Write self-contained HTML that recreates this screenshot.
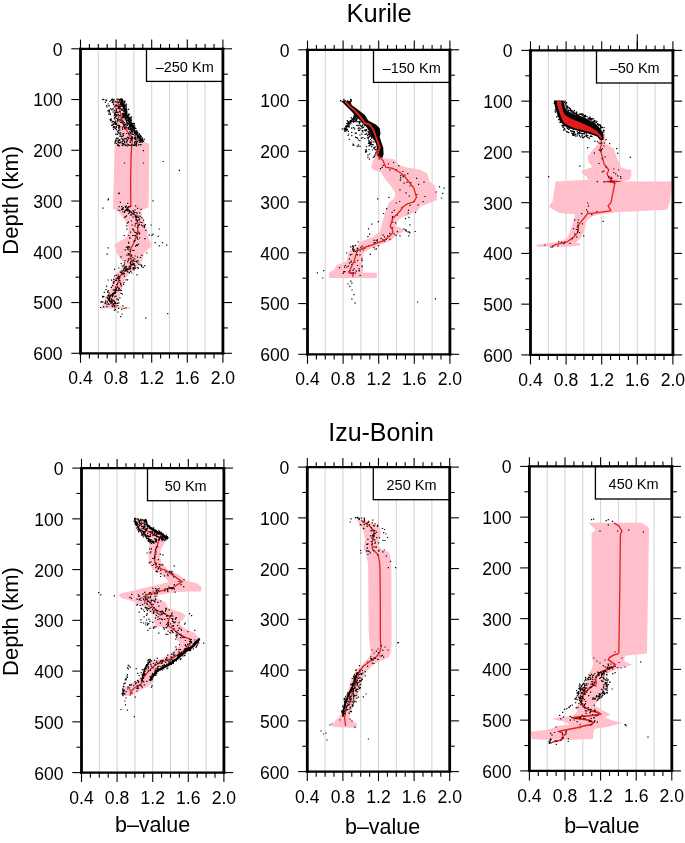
<!DOCTYPE html>
<html><head><meta charset="utf-8"><style>
html,body{margin:0;padding:0;background:#fff;}
svg{display:block;will-change:transform;}
text{font-family:"Liberation Sans", sans-serif;fill:#000;}
</style></head><body>
<svg width="685" height="843" viewBox="0 0 685 843">
<line x1="98.3" y1="48.8" x2="98.3" y2="353.3" stroke="#d2d2d2" stroke-width="1.0"/>
<line x1="116.1" y1="48.8" x2="116.1" y2="353.3" stroke="#d2d2d2" stroke-width="1.0"/>
<line x1="133.9" y1="48.8" x2="133.9" y2="353.3" stroke="#d2d2d2" stroke-width="1.0"/>
<line x1="151.7" y1="48.8" x2="151.7" y2="353.3" stroke="#d2d2d2" stroke-width="1.0"/>
<line x1="169.5" y1="48.8" x2="169.5" y2="353.3" stroke="#d2d2d2" stroke-width="1.0"/>
<line x1="187.3" y1="48.8" x2="187.3" y2="353.3" stroke="#d2d2d2" stroke-width="1.0"/>
<line x1="205.1" y1="48.8" x2="205.1" y2="353.3" stroke="#d2d2d2" stroke-width="1.0"/>
<polygon points="114.0,100.0 121.0,100.0 125.0,115.0 131.0,126.0 137.0,134.0 143.0,141.0 149.3,144.0 148.6,207.3 140.9,210.4 142.4,216.6 145.5,225.8 147.8,232.0 147.0,235.1 150.1,241.2 151.6,245.9 148.6,248.9 143.9,253.6 142.4,259.7 140.9,264.3 136.2,267.4 130.1,273.6 125.4,278.2 122.4,287.5 119.3,296.7 116.2,302.9 119.3,306.7 130.1,307.2 130.1,308.4 100.8,308.4 100.8,307.2 103.9,302.9 105.4,296.7 110.0,290.5 112.3,281.3 114.7,275.1 120.8,269.0 125.4,262.8 120.8,259.7 117.0,253.6 115.4,247.4 113.9,245.1 119.3,241.2 125.4,238.2 128.5,232.0 128.5,225.8 125.4,221.2 120.8,215.0 117.7,210.4 113.1,208.9 113.3,200.0 114.6,144.0 122.0,138.0 116.0,125.0 112.0,110.0" fill="#ffc0cb"/>
<polyline points="121.5,99.5 123.5,106.0 126.0,114.0 130.5,121.5 133.5,129.0 137.5,135.5 142.5,141.5" fill="none" stroke="#000" stroke-width="1.6" stroke-linejoin="round" stroke-linecap="round"/>
<polyline points="117.3,100.0 120.4,112.0 121.3,120.0 123.9,125.0 128.3,133.0 132.7,138.0 131.8,145.0 131.1,155.0 130.6,180.0 130.8,205.8 126.2,209.6 130.8,212.0 134.7,215.0 137.8,222.7 137.8,230.4 136.2,236.6 133.9,242.8 130.8,248.9 130.1,255.1 131.6,261.3 133.1,264.3 127.0,269.0 120.8,275.1 117.7,282.8 116.2,290.5 111.6,295.2 108.5,299.8 111.6,302.9 115.4,308.3" fill="none" stroke="#e8201c" stroke-width="1.3" stroke-linejoin="round"/>
<path d="M122.2 119.5h1.2v1.2h-1.2zM128.8 135.4h1.2v1.2h-1.2zM105.3 99.6h1.2v1.2h-1.2zM120.1 132.3h1.2v1.2h-1.2zM110.5 118.2h1.2v1.2h-1.2zM119.8 121.7h1.2v1.2h-1.2zM111.2 109.2h1.2v1.2h-1.2zM110.6 119.9h1.2v1.2h-1.2zM113.6 99.3h1.2v1.2h-1.2zM131.7 131.8h1.2v1.2h-1.2zM114.1 126.0h1.2v1.2h-1.2zM138.5 138.2h1.2v1.2h-1.2zM122.6 126.0h1.2v1.2h-1.2zM130.9 130.1h1.2v1.2h-1.2zM117.1 119.0h1.2v1.2h-1.2zM122.8 135.0h1.2v1.2h-1.2zM123.3 116.8h1.2v1.2h-1.2zM122.0 99.7h1.2v1.2h-1.2zM117.9 106.3h1.2v1.2h-1.2zM122.5 144.6h1.2v1.2h-1.2zM123.0 143.2h1.2v1.2h-1.2zM125.7 119.9h1.2v1.2h-1.2zM112.7 124.1h1.2v1.2h-1.2zM134.3 136.9h1.2v1.2h-1.2zM125.0 118.4h1.2v1.2h-1.2zM122.6 121.1h1.2v1.2h-1.2zM116.4 114.6h1.2v1.2h-1.2zM124.0 127.7h1.2v1.2h-1.2zM127.1 119.9h1.2v1.2h-1.2zM137.6 135.9h1.2v1.2h-1.2zM134.9 136.8h1.2v1.2h-1.2zM102.1 99.0h1.2v1.2h-1.2zM115.9 101.6h1.2v1.2h-1.2zM108.5 111.2h1.2v1.2h-1.2zM114.9 120.6h1.2v1.2h-1.2zM119.1 107.2h1.2v1.2h-1.2zM122.8 108.1h1.2v1.2h-1.2zM126.8 136.8h1.2v1.2h-1.2zM102.3 99.1h1.2v1.2h-1.2zM129.9 124.0h1.2v1.2h-1.2zM118.0 125.4h1.2v1.2h-1.2zM114.9 128.0h1.2v1.2h-1.2zM142.1 139.5h1.2v1.2h-1.2zM114.4 142.5h1.2v1.2h-1.2zM112.0 98.7h1.2v1.2h-1.2zM135.8 143.6h1.2v1.2h-1.2zM137.8 144.2h1.2v1.2h-1.2zM131.0 122.3h1.2v1.2h-1.2zM117.3 114.6h1.2v1.2h-1.2zM119.6 107.4h1.2v1.2h-1.2zM113.8 121.8h1.2v1.2h-1.2zM115.1 139.4h1.2v1.2h-1.2zM109.8 113.7h1.2v1.2h-1.2zM115.6 108.3h1.2v1.2h-1.2zM129.7 137.8h1.2v1.2h-1.2zM121.7 144.7h1.2v1.2h-1.2zM115.7 112.0h1.2v1.2h-1.2zM141.5 140.1h1.2v1.2h-1.2zM105.8 100.1h1.2v1.2h-1.2zM134.5 137.3h1.2v1.2h-1.2zM115.7 127.3h1.2v1.2h-1.2zM106.3 106.2h1.2v1.2h-1.2zM117.3 144.0h1.2v1.2h-1.2zM112.0 120.8h1.2v1.2h-1.2zM103.1 98.8h1.2v1.2h-1.2zM126.5 119.5h1.2v1.2h-1.2zM114.6 101.3h1.2v1.2h-1.2zM139.8 144.0h1.2v1.2h-1.2zM130.3 129.5h1.2v1.2h-1.2zM112.3 123.8h1.2v1.2h-1.2zM114.3 109.9h1.2v1.2h-1.2zM128.8 128.6h1.2v1.2h-1.2zM114.3 113.7h1.2v1.2h-1.2zM115.4 123.9h1.2v1.2h-1.2zM125.7 126.4h1.2v1.2h-1.2zM111.7 99.3h1.2v1.2h-1.2zM111.6 101.7h1.2v1.2h-1.2zM122.1 138.9h1.2v1.2h-1.2zM134.0 144.7h1.2v1.2h-1.2zM114.7 140.8h1.2v1.2h-1.2zM135.2 141.0h1.2v1.2h-1.2zM119.6 105.7h1.2v1.2h-1.2zM131.4 129.8h1.2v1.2h-1.2zM112.0 101.3h1.2v1.2h-1.2zM124.5 123.8h1.2v1.2h-1.2zM118.0 114.3h1.2v1.2h-1.2zM112.2 99.4h1.2v1.2h-1.2zM128.6 117.9h1.2v1.2h-1.2zM116.3 104.8h1.2v1.2h-1.2zM118.2 127.1h1.2v1.2h-1.2zM111.2 98.7h1.2v1.2h-1.2zM123.6 121.9h1.2v1.2h-1.2zM128.7 118.9h1.2v1.2h-1.2zM130.2 132.7h1.2v1.2h-1.2zM111.4 121.6h1.2v1.2h-1.2zM121.5 108.9h1.2v1.2h-1.2zM118.7 124.7h1.2v1.2h-1.2zM139.5 141.5h1.2v1.2h-1.2zM113.0 128.7h1.2v1.2h-1.2zM122.9 139.6h1.2v1.2h-1.2zM130.5 138.3h1.2v1.2h-1.2zM117.0 131.3h1.2v1.2h-1.2zM132.3 126.3h1.2v1.2h-1.2zM137.4 140.5h1.2v1.2h-1.2zM108.8 110.1h1.2v1.2h-1.2zM130.0 132.1h1.2v1.2h-1.2zM116.0 122.6h1.2v1.2h-1.2zM134.0 138.0h1.2v1.2h-1.2zM129.1 131.3h1.2v1.2h-1.2zM120.1 141.8h1.2v1.2h-1.2zM108.3 113.6h1.2v1.2h-1.2zM126.6 117.5h1.2v1.2h-1.2zM119.8 99.3h1.2v1.2h-1.2zM127.8 126.8h1.2v1.2h-1.2zM113.4 123.8h1.2v1.2h-1.2zM112.9 125.9h1.2v1.2h-1.2zM134.6 136.4h1.2v1.2h-1.2zM122.0 138.6h1.2v1.2h-1.2zM117.5 111.7h1.2v1.2h-1.2zM124.3 143.7h1.2v1.2h-1.2zM133.4 144.2h1.2v1.2h-1.2zM125.4 113.0h1.2v1.2h-1.2zM122.5 115.1h1.2v1.2h-1.2zM120.0 119.5h1.2v1.2h-1.2zM114.2 117.1h1.2v1.2h-1.2zM134.3 130.5h1.2v1.2h-1.2zM122.1 128.8h1.2v1.2h-1.2zM117.3 107.9h1.2v1.2h-1.2zM126.5 139.8h1.2v1.2h-1.2zM132.7 144.8h1.2v1.2h-1.2zM114.2 106.3h1.2v1.2h-1.2zM127.4 123.3h1.2v1.2h-1.2zM116.5 98.5h1.2v1.2h-1.2zM117.7 118.4h1.2v1.2h-1.2zM118.4 138.9h1.2v1.2h-1.2zM125.9 132.9h1.2v1.2h-1.2zM122.1 133.4h1.2v1.2h-1.2zM128.3 128.9h1.2v1.2h-1.2zM127.8 117.5h1.2v1.2h-1.2zM127.8 128.1h1.2v1.2h-1.2zM136.9 134.4h1.2v1.2h-1.2zM116.1 110.8h1.2v1.2h-1.2zM131.1 139.5h1.2v1.2h-1.2zM121.0 100.4h1.2v1.2h-1.2zM122.8 133.4h1.2v1.2h-1.2zM119.1 115.0h1.2v1.2h-1.2zM122.7 142.9h1.2v1.2h-1.2zM130.3 126.8h1.2v1.2h-1.2zM110.2 108.1h1.2v1.2h-1.2zM123.4 115.6h1.2v1.2h-1.2zM122.9 133.0h1.2v1.2h-1.2zM131.4 136.7h1.2v1.2h-1.2zM112.7 127.0h1.2v1.2h-1.2zM111.1 124.7h1.2v1.2h-1.2zM131.1 138.0h1.2v1.2h-1.2zM119.5 134.2h1.2v1.2h-1.2zM123.5 104.8h1.2v1.2h-1.2zM116.6 133.7h1.2v1.2h-1.2zM122.1 103.0h1.2v1.2h-1.2zM109.2 100.9h1.2v1.2h-1.2zM126.5 140.2h1.2v1.2h-1.2zM110.5 99.9h1.2v1.2h-1.2zM131.0 136.7h1.2v1.2h-1.2zM115.8 137.8h1.2v1.2h-1.2zM122.2 116.1h1.2v1.2h-1.2zM108.5 109.2h1.2v1.2h-1.2zM126.3 141.1h1.2v1.2h-1.2zM134.9 138.7h1.2v1.2h-1.2zM114.8 116.3h1.2v1.2h-1.2zM125.8 141.6h1.2v1.2h-1.2zM118.2 139.7h1.2v1.2h-1.2zM136.7 141.0h1.2v1.2h-1.2zM112.9 103.8h1.2v1.2h-1.2zM105.2 99.6h1.2v1.2h-1.2zM128.2 133.4h1.2v1.2h-1.2zM130.2 138.1h1.2v1.2h-1.2zM127.9 144.0h1.2v1.2h-1.2zM126.2 114.8h1.2v1.2h-1.2zM126.8 124.7h1.2v1.2h-1.2zM116.2 117.7h1.2v1.2h-1.2zM119.2 129.5h1.2v1.2h-1.2zM131.4 133.3h1.2v1.2h-1.2zM131.7 133.7h1.2v1.2h-1.2zM137.3 138.4h1.2v1.2h-1.2zM117.0 144.7h1.2v1.2h-1.2zM120.0 104.3h1.2v1.2h-1.2zM118.0 131.6h1.2v1.2h-1.2zM123.4 102.6h1.2v1.2h-1.2zM135.3 138.6h1.2v1.2h-1.2zM114.2 118.3h1.2v1.2h-1.2zM111.7 124.5h1.2v1.2h-1.2zM115.3 114.3h1.2v1.2h-1.2zM134.3 143.3h1.2v1.2h-1.2zM128.8 119.4h1.2v1.2h-1.2zM123.9 140.5h1.2v1.2h-1.2zM123.3 102.9h1.2v1.2h-1.2zM115.9 125.4h1.2v1.2h-1.2zM113.9 114.9h1.2v1.2h-1.2zM115.1 133.6h1.2v1.2h-1.2zM122.4 123.1h1.2v1.2h-1.2zM115.1 113.7h1.2v1.2h-1.2zM121.5 141.3h1.2v1.2h-1.2zM140.4 144.0h1.2v1.2h-1.2zM135.7 141.9h1.2v1.2h-1.2zM125.6 145.0h1.2v1.2h-1.2zM134.3 131.4h1.2v1.2h-1.2zM118.3 120.2h1.2v1.2h-1.2zM108.4 105.3h1.2v1.2h-1.2zM130.3 124.8h1.2v1.2h-1.2zM118.7 132.6h1.2v1.2h-1.2zM124.3 110.8h1.2v1.2h-1.2zM127.9 123.1h1.2v1.2h-1.2zM104.7 101.7h1.2v1.2h-1.2zM126.5 139.1h1.2v1.2h-1.2zM129.8 123.9h1.2v1.2h-1.2zM131.9 136.6h1.2v1.2h-1.2zM121.9 117.3h1.2v1.2h-1.2zM109.4 112.4h1.2v1.2h-1.2zM125.4 124.3h1.2v1.2h-1.2zM123.5 123.8h1.2v1.2h-1.2zM135.8 143.2h1.2v1.2h-1.2zM118.5 128.0h1.2v1.2h-1.2zM114.3 112.5h1.2v1.2h-1.2zM122.7 125.9h1.2v1.2h-1.2zM124.5 144.3h1.2v1.2h-1.2zM125.2 115.6h1.2v1.2h-1.2zM118.3 142.4h1.2v1.2h-1.2zM139.1 141.9h1.2v1.2h-1.2zM120.9 135.8h1.2v1.2h-1.2zM117.1 133.6h1.2v1.2h-1.2zM121.6 114.2h1.2v1.2h-1.2zM120.6 103.8h1.2v1.2h-1.2zM116.3 117.9h1.2v1.2h-1.2zM123.0 133.1h1.2v1.2h-1.2zM121.6 143.1h1.2v1.2h-1.2zM118.2 132.4h1.2v1.2h-1.2zM127.1 145.2h1.2v1.2h-1.2zM124.5 123.5h1.2v1.2h-1.2zM116.0 142.9h1.2v1.2h-1.2zM124.6 118.1h1.2v1.2h-1.2zM112.5 111.4h1.2v1.2h-1.2zM121.5 135.7h1.2v1.2h-1.2zM137.4 135.3h1.2v1.2h-1.2zM117.8 129.8h1.2v1.2h-1.2zM113.8 122.2h1.2v1.2h-1.2zM117.6 140.9h1.2v1.2h-1.2zM118.9 140.1h1.2v1.2h-1.2zM122.1 140.5h1.2v1.2h-1.2zM124.3 108.4h1.2v1.2h-1.2zM121.8 98.7h1.2v1.2h-1.2zM140.3 143.9h1.2v1.2h-1.2zM112.6 123.8h1.2v1.2h-1.2zM119.9 134.1h1.2v1.2h-1.2zM118.7 104.4h1.2v1.2h-1.2zM126.5 143.5h1.2v1.2h-1.2zM123.8 127.0h1.2v1.2h-1.2zM112.6 108.4h1.2v1.2h-1.2zM116.8 120.5h1.2v1.2h-1.2zM115.6 126.8h1.2v1.2h-1.2zM130.6 123.5h1.2v1.2h-1.2zM130.4 128.7h1.2v1.2h-1.2zM135.5 140.3h1.2v1.2h-1.2zM114.6 121.6h1.2v1.2h-1.2zM115.3 104.3h1.2v1.2h-1.2zM107.3 110.4h1.2v1.2h-1.2zM130.9 124.8h1.2v1.2h-1.2zM114.2 127.3h1.2v1.2h-1.2zM130.0 144.7h1.2v1.2h-1.2zM115.7 126.6h1.2v1.2h-1.2zM115.3 104.9h1.2v1.2h-1.2zM112.7 100.6h1.2v1.2h-1.2zM118.2 142.3h1.2v1.2h-1.2zM123.0 113.5h1.2v1.2h-1.2zM129.9 127.5h1.2v1.2h-1.2zM123.6 124.9h1.2v1.2h-1.2zM123.9 116.8h1.2v1.2h-1.2zM122.8 106.5h1.2v1.2h-1.2zM110.4 118.8h1.2v1.2h-1.2zM124.3 110.1h1.2v1.2h-1.2zM112.8 123.3h1.2v1.2h-1.2zM121.3 117.3h1.2v1.2h-1.2zM128.9 123.9h1.2v1.2h-1.2zM124.3 138.0h1.2v1.2h-1.2zM131.8 130.5h1.2v1.2h-1.2zM136.7 138.3h1.2v1.2h-1.2zM115.5 140.2h1.2v1.2h-1.2zM117.4 119.0h1.2v1.2h-1.2zM117.3 124.8h1.2v1.2h-1.2zM119.1 142.3h1.2v1.2h-1.2zM118.6 126.8h1.2v1.2h-1.2zM106.1 104.9h1.2v1.2h-1.2zM122.7 115.1h1.2v1.2h-1.2zM135.1 136.9h1.2v1.2h-1.2zM111.5 124.8h1.2v1.2h-1.2zM116.4 105.8h1.2v1.2h-1.2zM134.0 141.5h1.2v1.2h-1.2zM115.9 129.3h1.2v1.2h-1.2zM117.2 112.1h1.2v1.2h-1.2zM130.8 128.2h1.2v1.2h-1.2zM129.7 140.3h1.2v1.2h-1.2zM121.9 114.4h1.2v1.2h-1.2zM131.2 144.2h1.2v1.2h-1.2zM117.5 137.6h1.2v1.2h-1.2zM121.2 121.5h1.2v1.2h-1.2zM133.9 132.4h1.2v1.2h-1.2zM109.5 119.1h1.2v1.2h-1.2zM124.2 125.2h1.2v1.2h-1.2zM106.0 99.5h1.2v1.2h-1.2zM133.6 129.7h1.2v1.2h-1.2zM136.1 142.9h1.2v1.2h-1.2zM128.0 133.0h1.2v1.2h-1.2zM117.8 98.6h1.2v1.2h-1.2zM135.2 144.6h1.2v1.2h-1.2zM115.8 109.6h1.2v1.2h-1.2zM134.0 142.4h1.2v1.2h-1.2zM126.0 122.5h1.2v1.2h-1.2zM119.4 135.7h1.2v1.2h-1.2zM130.8 130.8h1.2v1.2h-1.2zM128.8 123.6h1.2v1.2h-1.2zM117.7 124.7h1.2v1.2h-1.2zM128.3 120.9h1.2v1.2h-1.2zM114.5 111.4h1.2v1.2h-1.2zM118.9 126.3h1.2v1.2h-1.2zM114.8 123.5h1.2v1.2h-1.2zM120.2 121.9h1.2v1.2h-1.2zM118.9 106.2h1.2v1.2h-1.2zM118.0 116.6h1.2v1.2h-1.2zM116.5 105.4h1.2v1.2h-1.2zM125.2 138.1h1.2v1.2h-1.2zM107.4 110.3h1.2v1.2h-1.2zM116.1 111.4h1.2v1.2h-1.2zM121.0 105.3h1.2v1.2h-1.2zM124.0 107.6h1.2v1.2h-1.2zM119.4 139.4h1.2v1.2h-1.2zM125.7 124.4h1.2v1.2h-1.2zM117.8 107.5h1.2v1.2h-1.2zM130.1 126.1h1.2v1.2h-1.2zM117.4 111.8h1.2v1.2h-1.2zM129.2 144.8h1.2v1.2h-1.2zM116.4 137.8h1.2v1.2h-1.2zM116.0 123.5h1.2v1.2h-1.2zM110.2 120.1h1.2v1.2h-1.2zM126.3 127.3h1.2v1.2h-1.2zM131.1 136.9h1.2v1.2h-1.2zM117.5 141.8h1.2v1.2h-1.2zM112.1 98.5h1.2v1.2h-1.2zM121.6 127.2h1.2v1.2h-1.2zM129.6 141.7h1.2v1.2h-1.2zM122.5 138.6h1.2v1.2h-1.2zM119.1 111.1h1.2v1.2h-1.2zM120.5 100.4h1.2v1.2h-1.2zM124.0 141.8h1.2v1.2h-1.2zM119.2 119.1h1.2v1.2h-1.2zM123.3 107.6h1.2v1.2h-1.2zM116.5 139.6h1.2v1.2h-1.2zM120.7 137.6h1.2v1.2h-1.2zM108.8 105.3h1.2v1.2h-1.2zM118.0 145.1h1.2v1.2h-1.2zM134.9 138.0h1.2v1.2h-1.2zM119.3 126.0h1.2v1.2h-1.2zM114.7 105.3h1.2v1.2h-1.2zM126.2 138.4h1.2v1.2h-1.2zM134.5 134.8h1.2v1.2h-1.2zM118.8 145.3h1.2v1.2h-1.2zM115.5 115.6h1.2v1.2h-1.2zM124.5 128.3h1.2v1.2h-1.2zM125.9 121.1h1.2v1.2h-1.2zM128.0 138.2h1.2v1.2h-1.2zM120.1 121.9h1.2v1.2h-1.2zM108.1 113.6h1.2v1.2h-1.2zM107.6 103.4h1.2v1.2h-1.2zM114.7 122.3h1.2v1.2h-1.2zM135.9 145.2h1.2v1.2h-1.2zM127.9 136.9h1.2v1.2h-1.2zM124.5 125.3h1.2v1.2h-1.2zM112.6 102.2h1.2v1.2h-1.2zM112.4 108.2h1.2v1.2h-1.2zM113.0 120.9h1.2v1.2h-1.2zM138.1 144.3h1.2v1.2h-1.2zM114.6 141.9h1.2v1.2h-1.2zM138.9 136.6h1.2v1.2h-1.2zM126.5 114.9h1.2v1.2h-1.2zM125.3 111.1h1.2v1.2h-1.2zM119.2 100.0h1.2v1.2h-1.2zM133.7 137.5h1.2v1.2h-1.2zM124.4 108.2h1.2v1.2h-1.2zM132.4 125.1h1.2v1.2h-1.2zM128.0 108.7h1.2v1.2h-1.2zM128.6 113.6h1.2v1.2h-1.2zM124.2 108.8h1.2v1.2h-1.2zM142.7 140.4h1.2v1.2h-1.2zM133.8 123.1h1.2v1.2h-1.2zM122.3 102.5h1.2v1.2h-1.2zM130.7 122.7h1.2v1.2h-1.2zM128.3 121.1h1.2v1.2h-1.2zM132.9 128.1h1.2v1.2h-1.2zM131.9 131.0h1.2v1.2h-1.2zM127.6 117.8h1.2v1.2h-1.2zM123.2 100.7h1.2v1.2h-1.2zM134.6 127.6h1.2v1.2h-1.2zM133.3 130.1h1.2v1.2h-1.2zM126.9 115.8h1.2v1.2h-1.2zM141.6 138.0h1.2v1.2h-1.2zM128.7 122.9h1.2v1.2h-1.2zM129.9 127.7h1.2v1.2h-1.2zM125.2 119.0h1.2v1.2h-1.2zM130.6 128.2h1.2v1.2h-1.2zM135.1 133.2h1.2v1.2h-1.2zM124.8 112.8h1.2v1.2h-1.2zM129.8 118.5h1.2v1.2h-1.2zM127.2 116.3h1.2v1.2h-1.2zM132.2 128.6h1.2v1.2h-1.2zM127.2 117.4h1.2v1.2h-1.2zM138.6 132.9h1.2v1.2h-1.2zM134.5 131.3h1.2v1.2h-1.2zM123.2 113.2h1.2v1.2h-1.2zM138.2 136.6h1.2v1.2h-1.2zM125.2 104.2h1.2v1.2h-1.2zM121.0 102.4h1.2v1.2h-1.2zM132.2 128.0h1.2v1.2h-1.2zM134.8 131.0h1.2v1.2h-1.2zM128.4 120.5h1.2v1.2h-1.2zM123.1 112.8h1.2v1.2h-1.2zM129.3 118.9h1.2v1.2h-1.2zM126.0 107.4h1.2v1.2h-1.2zM131.0 125.3h1.2v1.2h-1.2zM127.5 117.0h1.2v1.2h-1.2zM141.4 138.5h1.2v1.2h-1.2zM120.5 98.1h1.2v1.2h-1.2zM129.5 120.4h1.2v1.2h-1.2zM123.2 114.8h1.2v1.2h-1.2zM129.0 122.5h1.2v1.2h-1.2zM130.7 125.6h1.2v1.2h-1.2zM126.3 111.5h1.2v1.2h-1.2zM120.0 102.9h1.2v1.2h-1.2zM137.9 134.5h1.2v1.2h-1.2zM141.4 141.5h1.2v1.2h-1.2zM125.9 110.1h1.2v1.2h-1.2zM132.8 122.9h1.2v1.2h-1.2zM141.4 140.1h1.2v1.2h-1.2zM121.4 99.8h1.2v1.2h-1.2zM124.1 102.0h1.2v1.2h-1.2zM125.9 113.9h1.2v1.2h-1.2zM124.3 109.3h1.2v1.2h-1.2zM130.7 123.7h1.2v1.2h-1.2zM124.9 108.0h1.2v1.2h-1.2zM129.3 123.4h1.2v1.2h-1.2zM128.7 117.0h1.2v1.2h-1.2zM132.4 126.2h1.2v1.2h-1.2zM124.0 106.7h1.2v1.2h-1.2zM136.6 132.9h1.2v1.2h-1.2zM137.2 135.0h1.2v1.2h-1.2zM123.6 113.0h1.2v1.2h-1.2zM129.1 117.0h1.2v1.2h-1.2zM123.4 105.9h1.2v1.2h-1.2zM125.7 103.6h1.2v1.2h-1.2zM123.7 109.6h1.2v1.2h-1.2zM127.9 117.8h1.2v1.2h-1.2zM125.0 111.2h1.2v1.2h-1.2zM130.5 117.8h1.2v1.2h-1.2zM133.0 125.1h1.2v1.2h-1.2zM128.1 119.6h1.2v1.2h-1.2zM140.3 135.7h1.2v1.2h-1.2zM125.4 104.8h1.2v1.2h-1.2zM134.5 136.3h1.2v1.2h-1.2zM139.8 137.4h1.2v1.2h-1.2zM127.6 119.8h1.2v1.2h-1.2zM130.0 119.6h1.2v1.2h-1.2zM119.9 105.7h1.2v1.2h-1.2zM135.0 130.8h1.2v1.2h-1.2zM132.6 126.6h1.2v1.2h-1.2zM132.0 127.1h1.2v1.2h-1.2zM124.3 106.0h1.2v1.2h-1.2zM124.5 117.2h1.2v1.2h-1.2zM140.9 136.6h1.2v1.2h-1.2zM122.7 103.2h1.2v1.2h-1.2zM141.3 139.7h1.2v1.2h-1.2zM128.4 114.6h1.2v1.2h-1.2zM139.9 134.8h1.2v1.2h-1.2zM131.2 125.5h1.2v1.2h-1.2zM123.0 104.3h1.2v1.2h-1.2zM121.2 109.5h1.2v1.2h-1.2zM123.9 110.4h1.2v1.2h-1.2zM124.2 114.2h1.2v1.2h-1.2zM124.2 100.6h1.2v1.2h-1.2zM121.8 99.5h1.2v1.2h-1.2zM127.4 115.0h1.2v1.2h-1.2zM123.3 110.3h1.2v1.2h-1.2zM135.1 136.8h1.2v1.2h-1.2zM127.2 123.4h1.2v1.2h-1.2zM129.1 124.5h1.2v1.2h-1.2zM125.6 115.0h1.2v1.2h-1.2zM123.9 107.7h1.2v1.2h-1.2zM124.7 109.2h1.2v1.2h-1.2zM120.0 102.2h1.2v1.2h-1.2zM133.5 128.2h1.2v1.2h-1.2zM132.9 127.9h1.2v1.2h-1.2zM132.6 122.8h1.2v1.2h-1.2zM143.0 140.5h1.2v1.2h-1.2zM129.9 120.0h1.2v1.2h-1.2zM125.6 115.1h1.2v1.2h-1.2zM120.6 103.5h1.2v1.2h-1.2zM133.5 123.6h1.2v1.2h-1.2zM136.7 136.4h1.2v1.2h-1.2zM128.3 117.4h1.2v1.2h-1.2zM132.8 127.5h1.2v1.2h-1.2zM122.7 107.8h1.2v1.2h-1.2zM136.8 135.7h1.2v1.2h-1.2zM130.9 120.0h1.2v1.2h-1.2zM134.0 126.9h1.2v1.2h-1.2zM140.0 139.2h1.2v1.2h-1.2zM130.4 127.0h1.2v1.2h-1.2zM131.0 124.7h1.2v1.2h-1.2zM124.4 115.4h1.2v1.2h-1.2zM132.3 122.9h1.2v1.2h-1.2zM130.9 116.3h1.2v1.2h-1.2zM124.1 109.2h1.2v1.2h-1.2zM136.6 131.4h1.2v1.2h-1.2zM129.8 121.7h1.2v1.2h-1.2zM134.0 132.8h1.2v1.2h-1.2zM118.9 99.1h1.2v1.2h-1.2zM135.8 132.3h1.2v1.2h-1.2zM121.1 99.4h1.2v1.2h-1.2zM127.3 116.8h1.2v1.2h-1.2zM127.7 113.5h1.2v1.2h-1.2zM127.3 115.8h1.2v1.2h-1.2zM139.1 134.4h1.2v1.2h-1.2zM142.0 140.8h1.2v1.2h-1.2zM121.4 101.3h1.2v1.2h-1.2zM120.5 100.6h1.2v1.2h-1.2zM142.4 140.4h1.2v1.2h-1.2zM126.2 110.7h1.2v1.2h-1.2zM125.5 106.4h1.2v1.2h-1.2zM123.4 112.5h1.2v1.2h-1.2zM127.7 118.8h1.2v1.2h-1.2zM134.2 125.4h1.2v1.2h-1.2zM135.5 133.5h1.2v1.2h-1.2zM121.9 99.1h1.2v1.2h-1.2zM125.2 114.5h1.2v1.2h-1.2zM128.8 126.6h1.2v1.2h-1.2zM128.7 118.1h1.2v1.2h-1.2zM135.5 130.9h1.2v1.2h-1.2zM129.2 119.4h1.2v1.2h-1.2zM138.6 135.7h1.2v1.2h-1.2zM139.5 140.3h1.2v1.2h-1.2zM139.4 137.1h1.2v1.2h-1.2zM132.9 126.6h1.2v1.2h-1.2zM131.0 122.8h1.2v1.2h-1.2zM140.2 140.2h1.2v1.2h-1.2zM129.0 118.1h1.2v1.2h-1.2zM117.6 101.8h1.2v1.2h-1.2zM127.9 119.3h1.2v1.2h-1.2zM127.2 123.4h1.2v1.2h-1.2zM133.5 131.2h1.2v1.2h-1.2zM125.4 105.3h1.2v1.2h-1.2zM124.5 108.5h1.2v1.2h-1.2zM129.3 118.5h1.2v1.2h-1.2zM123.3 103.8h1.2v1.2h-1.2zM126.1 116.3h1.2v1.2h-1.2zM119.1 99.6h1.2v1.2h-1.2zM133.8 132.3h1.2v1.2h-1.2zM125.3 112.5h1.2v1.2h-1.2zM127.7 120.7h1.2v1.2h-1.2zM129.0 122.2h1.2v1.2h-1.2zM138.8 134.1h1.2v1.2h-1.2zM132.0 125.8h1.2v1.2h-1.2zM129.4 125.0h1.2v1.2h-1.2zM126.0 116.3h1.2v1.2h-1.2zM125.0 111.1h1.2v1.2h-1.2zM125.1 107.9h1.2v1.2h-1.2zM133.0 133.9h1.2v1.2h-1.2zM124.4 115.4h1.2v1.2h-1.2zM130.0 128.7h1.2v1.2h-1.2zM137.1 136.3h1.2v1.2h-1.2zM126.4 115.1h1.2v1.2h-1.2zM120.4 108.2h1.2v1.2h-1.2zM138.2 138.4h1.2v1.2h-1.2zM137.1 135.4h1.2v1.2h-1.2zM129.7 126.7h1.2v1.2h-1.2zM122.0 112.9h1.2v1.2h-1.2zM121.3 103.4h1.2v1.2h-1.2zM129.8 119.3h1.2v1.2h-1.2zM136.1 132.4h1.2v1.2h-1.2zM128.8 121.4h1.2v1.2h-1.2zM142.2 139.7h1.2v1.2h-1.2zM124.2 106.0h1.2v1.2h-1.2zM142.7 140.6h1.2v1.2h-1.2zM123.8 105.5h1.2v1.2h-1.2zM135.4 132.4h1.2v1.2h-1.2zM122.1 105.6h1.2v1.2h-1.2zM122.1 109.6h1.2v1.2h-1.2zM141.4 138.7h1.2v1.2h-1.2zM132.0 124.3h1.2v1.2h-1.2zM124.1 104.6h1.2v1.2h-1.2zM119.6 102.0h1.2v1.2h-1.2zM138.2 136.1h1.2v1.2h-1.2zM141.9 137.6h1.2v1.2h-1.2zM122.0 100.2h1.2v1.2h-1.2zM137.2 131.8h1.2v1.2h-1.2zM121.8 104.2h1.2v1.2h-1.2zM136.2 130.1h1.2v1.2h-1.2zM132.0 126.9h1.2v1.2h-1.2zM124.9 116.9h1.2v1.2h-1.2zM126.1 118.0h1.2v1.2h-1.2zM125.0 108.5h1.2v1.2h-1.2zM120.2 98.9h1.2v1.2h-1.2zM131.3 125.7h1.2v1.2h-1.2zM136.5 134.0h1.2v1.2h-1.2zM128.5 116.9h1.2v1.2h-1.2zM136.7 134.4h1.2v1.2h-1.2zM139.5 136.2h1.2v1.2h-1.2zM118.9 101.5h1.2v1.2h-1.2zM128.8 121.3h1.2v1.2h-1.2zM137.1 136.5h1.2v1.2h-1.2zM128.5 118.3h1.2v1.2h-1.2zM122.2 105.9h1.2v1.2h-1.2zM124.2 100.8h1.2v1.2h-1.2zM139.5 140.7h1.2v1.2h-1.2zM133.5 125.9h1.2v1.2h-1.2zM135.3 127.9h1.2v1.2h-1.2zM127.3 123.9h1.2v1.2h-1.2zM127.3 122.0h1.2v1.2h-1.2zM130.5 118.7h1.2v1.2h-1.2zM137.3 136.3h1.2v1.2h-1.2zM123.1 103.4h1.2v1.2h-1.2zM134.4 128.1h1.2v1.2h-1.2zM139.4 138.5h1.2v1.2h-1.2zM129.7 125.0h1.2v1.2h-1.2zM129.5 116.7h1.2v1.2h-1.2zM123.4 110.7h1.2v1.2h-1.2zM126.3 111.1h1.2v1.2h-1.2zM138.8 140.0h1.2v1.2h-1.2zM126.0 112.5h1.2v1.2h-1.2zM127.7 118.6h1.2v1.2h-1.2zM128.3 119.7h1.2v1.2h-1.2zM130.4 128.8h1.2v1.2h-1.2zM129.0 125.2h1.2v1.2h-1.2zM126.1 113.0h1.2v1.2h-1.2zM143.7 138.7h1.2v1.2h-1.2zM126.2 109.1h1.2v1.2h-1.2zM131.2 263.7h1.2v1.2h-1.2zM125.4 307.4h1.2v1.2h-1.2zM128.3 247.1h1.2v1.2h-1.2zM142.7 266.7h1.2v1.2h-1.2zM132.8 259.6h1.2v1.2h-1.2zM126.6 210.0h1.2v1.2h-1.2zM145.2 229.8h1.2v1.2h-1.2zM137.3 266.9h1.2v1.2h-1.2zM121.6 265.6h1.2v1.2h-1.2zM102.2 301.6h1.2v1.2h-1.2zM124.4 259.9h1.2v1.2h-1.2zM139.3 221.4h1.2v1.2h-1.2zM121.7 208.0h1.2v1.2h-1.2zM117.9 287.4h1.2v1.2h-1.2zM115.4 295.5h1.2v1.2h-1.2zM115.8 274.8h1.2v1.2h-1.2zM130.6 214.2h1.2v1.2h-1.2zM110.7 298.3h1.2v1.2h-1.2zM124.7 205.9h1.2v1.2h-1.2zM120.4 256.4h1.2v1.2h-1.2zM136.8 220.2h1.2v1.2h-1.2zM126.8 268.7h1.2v1.2h-1.2zM109.3 294.6h1.2v1.2h-1.2zM117.6 299.0h1.2v1.2h-1.2zM142.1 225.4h1.2v1.2h-1.2zM109.2 296.0h1.2v1.2h-1.2zM131.6 224.4h1.2v1.2h-1.2zM137.5 262.4h1.2v1.2h-1.2zM108.8 297.8h1.2v1.2h-1.2zM137.0 233.0h1.2v1.2h-1.2zM122.4 305.2h1.2v1.2h-1.2zM118.8 275.7h1.2v1.2h-1.2zM106.0 285.5h1.2v1.2h-1.2zM139.1 212.3h1.2v1.2h-1.2zM107.8 294.6h1.2v1.2h-1.2zM134.2 260.8h1.2v1.2h-1.2zM132.3 267.3h1.2v1.2h-1.2zM114.0 268.7h1.2v1.2h-1.2zM124.6 249.2h1.2v1.2h-1.2zM107.6 279.4h1.2v1.2h-1.2zM137.8 216.9h1.2v1.2h-1.2zM123.6 267.8h1.2v1.2h-1.2zM133.3 230.3h1.2v1.2h-1.2zM121.7 293.6h1.2v1.2h-1.2zM133.0 213.6h1.2v1.2h-1.2zM111.7 301.8h1.2v1.2h-1.2zM130.1 270.8h1.2v1.2h-1.2zM129.7 250.8h1.2v1.2h-1.2zM103.7 291.7h1.2v1.2h-1.2zM125.0 206.9h1.2v1.2h-1.2zM123.0 283.8h1.2v1.2h-1.2zM113.3 292.9h1.2v1.2h-1.2zM113.9 289.2h1.2v1.2h-1.2zM122.9 273.2h1.2v1.2h-1.2zM125.6 268.8h1.2v1.2h-1.2zM132.8 210.9h1.2v1.2h-1.2zM128.3 234.9h1.2v1.2h-1.2zM114.4 292.2h1.2v1.2h-1.2zM128.0 268.7h1.2v1.2h-1.2zM135.1 267.5h1.2v1.2h-1.2zM112.9 282.5h1.2v1.2h-1.2zM111.9 293.1h1.2v1.2h-1.2zM118.6 206.1h1.2v1.2h-1.2zM118.7 287.7h1.2v1.2h-1.2zM135.3 219.3h1.2v1.2h-1.2zM124.2 216.9h1.2v1.2h-1.2zM108.5 292.4h1.2v1.2h-1.2zM108.5 299.5h1.2v1.2h-1.2zM139.3 221.4h1.2v1.2h-1.2zM137.1 238.7h1.2v1.2h-1.2zM132.3 257.3h1.2v1.2h-1.2zM133.1 211.6h1.2v1.2h-1.2zM129.5 258.3h1.2v1.2h-1.2zM135.1 205.3h1.2v1.2h-1.2zM133.4 264.1h1.2v1.2h-1.2zM127.8 221.5h1.2v1.2h-1.2zM134.4 231.7h1.2v1.2h-1.2zM137.0 207.7h1.2v1.2h-1.2zM115.3 305.6h1.2v1.2h-1.2zM128.4 253.6h1.2v1.2h-1.2zM112.0 296.2h1.2v1.2h-1.2zM102.3 296.6h1.2v1.2h-1.2zM136.4 274.2h1.2v1.2h-1.2zM128.3 209.7h1.2v1.2h-1.2zM114.2 292.0h1.2v1.2h-1.2zM137.5 215.5h1.2v1.2h-1.2zM114.0 300.7h1.2v1.2h-1.2zM141.5 221.9h1.2v1.2h-1.2zM126.4 228.6h1.2v1.2h-1.2zM127.1 261.2h1.2v1.2h-1.2zM130.9 220.4h1.2v1.2h-1.2zM108.9 298.7h1.2v1.2h-1.2zM124.4 210.5h1.2v1.2h-1.2zM138.0 243.5h1.2v1.2h-1.2zM133.8 263.4h1.2v1.2h-1.2zM126.3 209.0h1.2v1.2h-1.2zM127.4 248.3h1.2v1.2h-1.2zM128.9 211.6h1.2v1.2h-1.2zM112.8 303.2h1.2v1.2h-1.2zM133.0 267.5h1.2v1.2h-1.2zM132.9 262.7h1.2v1.2h-1.2zM139.8 256.9h1.2v1.2h-1.2zM119.3 297.2h1.2v1.2h-1.2zM120.5 292.8h1.2v1.2h-1.2zM134.2 258.3h1.2v1.2h-1.2zM135.8 260.6h1.2v1.2h-1.2zM106.8 301.2h1.2v1.2h-1.2zM124.0 211.8h1.2v1.2h-1.2zM123.9 262.2h1.2v1.2h-1.2zM132.7 264.4h1.2v1.2h-1.2zM99.9 306.9h1.2v1.2h-1.2zM125.4 266.9h1.2v1.2h-1.2zM128.9 210.1h1.2v1.2h-1.2zM120.9 289.9h1.2v1.2h-1.2zM137.6 267.7h1.2v1.2h-1.2zM102.1 295.7h1.2v1.2h-1.2zM104.5 302.8h1.2v1.2h-1.2zM107.5 295.4h1.2v1.2h-1.2zM129.8 262.9h1.2v1.2h-1.2zM138.2 217.0h1.2v1.2h-1.2zM117.8 276.1h1.2v1.2h-1.2zM136.3 243.9h1.2v1.2h-1.2zM138.6 233.2h1.2v1.2h-1.2zM123.2 268.4h1.2v1.2h-1.2zM120.1 282.8h1.2v1.2h-1.2zM125.2 268.4h1.2v1.2h-1.2zM107.7 289.9h1.2v1.2h-1.2zM107.3 290.7h1.2v1.2h-1.2zM110.9 301.2h1.2v1.2h-1.2zM124.2 210.4h1.2v1.2h-1.2zM125.4 268.6h1.2v1.2h-1.2zM111.6 300.6h1.2v1.2h-1.2zM139.0 237.4h1.2v1.2h-1.2zM122.5 206.9h1.2v1.2h-1.2zM115.0 309.0h1.2v1.2h-1.2zM143.0 219.5h1.2v1.2h-1.2zM131.2 272.4h1.2v1.2h-1.2zM144.8 224.0h1.2v1.2h-1.2zM103.0 306.2h1.2v1.2h-1.2zM125.8 265.9h1.2v1.2h-1.2zM130.0 261.2h1.2v1.2h-1.2zM118.3 302.2h1.2v1.2h-1.2zM120.2 284.1h1.2v1.2h-1.2zM107.1 291.7h1.2v1.2h-1.2zM138.4 263.9h1.2v1.2h-1.2zM116.0 283.9h1.2v1.2h-1.2zM123.8 275.6h1.2v1.2h-1.2zM132.0 234.9h1.2v1.2h-1.2zM108.5 295.3h1.2v1.2h-1.2zM125.9 205.5h1.2v1.2h-1.2zM118.0 307.8h1.2v1.2h-1.2zM107.9 299.5h1.2v1.2h-1.2zM110.4 300.6h1.2v1.2h-1.2zM119.2 279.9h1.2v1.2h-1.2zM112.0 285.1h1.2v1.2h-1.2zM134.2 266.4h1.2v1.2h-1.2zM111.2 299.0h1.2v1.2h-1.2zM134.2 265.0h1.2v1.2h-1.2zM111.5 305.3h1.2v1.2h-1.2zM105.0 300.5h1.2v1.2h-1.2zM115.8 278.2h1.2v1.2h-1.2zM117.0 282.9h1.2v1.2h-1.2zM140.3 264.3h1.2v1.2h-1.2zM120.6 263.0h1.2v1.2h-1.2zM117.9 289.2h1.2v1.2h-1.2zM111.6 294.5h1.2v1.2h-1.2zM126.5 270.5h1.2v1.2h-1.2zM119.7 289.5h1.2v1.2h-1.2zM106.5 301.5h1.2v1.2h-1.2zM122.7 269.8h1.2v1.2h-1.2zM112.5 294.8h1.2v1.2h-1.2zM123.6 281.9h1.2v1.2h-1.2zM113.5 281.1h1.2v1.2h-1.2zM117.8 299.5h1.2v1.2h-1.2zM123.6 264.2h1.2v1.2h-1.2zM107.9 303.2h1.2v1.2h-1.2zM125.8 269.9h1.2v1.2h-1.2zM120.1 271.9h1.2v1.2h-1.2zM114.6 292.9h1.2v1.2h-1.2zM111.9 306.0h1.2v1.2h-1.2zM125.5 268.2h1.2v1.2h-1.2zM107.9 298.5h1.2v1.2h-1.2zM129.8 261.9h1.2v1.2h-1.2zM121.4 270.4h1.2v1.2h-1.2zM110.3 301.4h1.2v1.2h-1.2zM115.9 288.2h1.2v1.2h-1.2zM112.5 299.4h1.2v1.2h-1.2zM116.2 298.3h1.2v1.2h-1.2zM114.8 279.7h1.2v1.2h-1.2zM116.8 277.2h1.2v1.2h-1.2zM123.4 307.9h1.2v1.2h-1.2zM103.2 296.0h1.2v1.2h-1.2zM118.1 277.6h1.2v1.2h-1.2zM114.2 302.2h1.2v1.2h-1.2zM115.6 289.9h1.2v1.2h-1.2zM114.9 286.5h1.2v1.2h-1.2zM113.8 309.7h1.2v1.2h-1.2zM101.3 301.1h1.2v1.2h-1.2zM119.2 281.5h1.2v1.2h-1.2zM127.0 279.2h1.2v1.2h-1.2zM109.1 301.1h1.2v1.2h-1.2zM105.5 289.1h1.2v1.2h-1.2zM113.1 281.6h1.2v1.2h-1.2zM107.8 298.1h1.2v1.2h-1.2zM113.3 293.4h1.2v1.2h-1.2zM123.8 273.0h1.2v1.2h-1.2zM112.8 292.5h1.2v1.2h-1.2zM106.3 306.0h1.2v1.2h-1.2zM137.1 266.9h1.2v1.2h-1.2zM133.9 267.7h1.2v1.2h-1.2zM124.2 267.1h1.2v1.2h-1.2zM132.3 263.9h1.2v1.2h-1.2zM108.4 304.1h1.2v1.2h-1.2zM118.3 267.4h1.2v1.2h-1.2zM113.9 305.0h1.2v1.2h-1.2zM110.9 279.6h1.2v1.2h-1.2zM108.7 296.7h1.2v1.2h-1.2zM113.0 304.0h1.2v1.2h-1.2zM130.2 263.8h1.2v1.2h-1.2zM129.5 266.2h1.2v1.2h-1.2zM117.6 278.3h1.2v1.2h-1.2zM114.0 303.1h1.2v1.2h-1.2zM130.1 267.4h1.2v1.2h-1.2zM114.3 289.8h1.2v1.2h-1.2zM114.7 301.8h1.2v1.2h-1.2zM114.3 296.1h1.2v1.2h-1.2zM111.6 295.3h1.2v1.2h-1.2zM111.4 301.6h1.2v1.2h-1.2zM127.2 271.2h1.2v1.2h-1.2zM124.8 270.4h1.2v1.2h-1.2zM124.8 266.2h1.2v1.2h-1.2zM115.1 291.9h1.2v1.2h-1.2zM117.5 274.4h1.2v1.2h-1.2zM125.2 269.9h1.2v1.2h-1.2zM128.8 272.1h1.2v1.2h-1.2zM113.2 300.4h1.2v1.2h-1.2zM129.5 265.2h1.2v1.2h-1.2zM121.2 272.1h1.2v1.2h-1.2zM115.0 290.5h1.2v1.2h-1.2zM109.7 300.3h1.2v1.2h-1.2zM106.2 303.5h1.2v1.2h-1.2zM117.5 290.1h1.2v1.2h-1.2zM116.7 302.7h1.2v1.2h-1.2zM141.2 264.7h1.2v1.2h-1.2zM107.0 297.6h1.2v1.2h-1.2zM117.3 304.9h1.2v1.2h-1.2zM106.6 296.7h1.2v1.2h-1.2zM133.4 269.3h1.2v1.2h-1.2zM115.9 279.9h1.2v1.2h-1.2zM114.0 275.4h1.2v1.2h-1.2zM113.1 303.6h1.2v1.2h-1.2zM125.4 279.2h1.2v1.2h-1.2zM110.3 303.1h1.2v1.2h-1.2zM118.9 277.6h1.2v1.2h-1.2zM117.5 289.9h1.2v1.2h-1.2zM110.1 294.5h1.2v1.2h-1.2zM104.8 302.3h1.2v1.2h-1.2zM132.6 268.2h1.2v1.2h-1.2zM100.3 301.5h1.2v1.2h-1.2zM110.7 286.8h1.2v1.2h-1.2zM117.0 302.4h1.2v1.2h-1.2zM121.5 273.8h1.2v1.2h-1.2zM128.8 268.3h1.2v1.2h-1.2zM119.9 271.4h1.2v1.2h-1.2zM124.9 269.8h1.2v1.2h-1.2zM117.5 278.0h1.2v1.2h-1.2zM112.6 289.4h1.2v1.2h-1.2zM121.5 272.6h1.2v1.2h-1.2zM121.4 270.8h1.2v1.2h-1.2zM115.2 303.0h1.2v1.2h-1.2zM126.1 269.2h1.2v1.2h-1.2zM119.1 289.5h1.2v1.2h-1.2zM114.8 288.5h1.2v1.2h-1.2zM123.1 265.3h1.2v1.2h-1.2zM129.8 268.2h1.2v1.2h-1.2zM113.2 278.8h1.2v1.2h-1.2zM117.1 286.5h1.2v1.2h-1.2zM120.7 285.4h1.2v1.2h-1.2zM111.5 294.0h1.2v1.2h-1.2zM124.4 269.6h1.2v1.2h-1.2zM135.5 211.9h1.2v1.2h-1.2zM127.9 258.3h1.2v1.2h-1.2zM126.1 225.2h1.2v1.2h-1.2zM128.8 265.9h1.2v1.2h-1.2zM138.9 233.0h1.2v1.2h-1.2zM127.3 207.1h1.2v1.2h-1.2zM134.3 240.1h1.2v1.2h-1.2zM137.3 260.3h1.2v1.2h-1.2zM121.1 206.0h1.2v1.2h-1.2zM133.9 212.0h1.2v1.2h-1.2zM141.3 217.3h1.2v1.2h-1.2zM128.9 246.2h1.2v1.2h-1.2zM138.9 218.6h1.2v1.2h-1.2zM135.0 216.1h1.2v1.2h-1.2zM143.7 225.0h1.2v1.2h-1.2zM128.2 205.9h1.2v1.2h-1.2zM129.4 210.6h1.2v1.2h-1.2zM126.7 246.8h1.2v1.2h-1.2zM135.5 232.3h1.2v1.2h-1.2zM137.7 225.3h1.2v1.2h-1.2zM126.6 222.5h1.2v1.2h-1.2zM141.2 254.8h1.2v1.2h-1.2zM134.4 225.2h1.2v1.2h-1.2zM119.2 209.9h1.2v1.2h-1.2zM127.7 253.1h1.2v1.2h-1.2zM136.7 236.5h1.2v1.2h-1.2zM134.8 223.3h1.2v1.2h-1.2zM125.7 209.5h1.2v1.2h-1.2zM127.6 245.9h1.2v1.2h-1.2zM128.4 254.6h1.2v1.2h-1.2zM135.5 215.2h1.2v1.2h-1.2zM125.5 209.2h1.2v1.2h-1.2zM136.8 226.9h1.2v1.2h-1.2zM138.4 219.3h1.2v1.2h-1.2zM135.9 244.9h1.2v1.2h-1.2zM120.5 256.3h1.2v1.2h-1.2zM133.4 240.8h1.2v1.2h-1.2zM126.4 254.6h1.2v1.2h-1.2zM136.5 237.4h1.2v1.2h-1.2zM135.3 214.5h1.2v1.2h-1.2zM134.4 255.4h1.2v1.2h-1.2zM127.1 202.8h1.2v1.2h-1.2zM134.9 245.6h1.2v1.2h-1.2zM132.2 228.5h1.2v1.2h-1.2zM139.0 232.7h1.2v1.2h-1.2zM138.9 223.8h1.2v1.2h-1.2zM128.0 241.7h1.2v1.2h-1.2zM134.8 235.1h1.2v1.2h-1.2zM136.9 256.5h1.2v1.2h-1.2zM128.2 212.8h1.2v1.2h-1.2zM135.7 222.5h1.2v1.2h-1.2zM122.3 211.2h1.2v1.2h-1.2zM133.4 249.9h1.2v1.2h-1.2zM127.6 259.7h1.2v1.2h-1.2zM132.7 228.8h1.2v1.2h-1.2zM134.4 209.6h1.2v1.2h-1.2zM127.6 209.1h1.2v1.2h-1.2zM124.2 210.3h1.2v1.2h-1.2zM126.5 207.6h1.2v1.2h-1.2zM135.7 215.7h1.2v1.2h-1.2zM132.4 209.9h1.2v1.2h-1.2zM124.7 216.0h1.2v1.2h-1.2zM136.6 212.7h1.2v1.2h-1.2zM130.6 211.7h1.2v1.2h-1.2zM121.0 209.1h1.2v1.2h-1.2zM152.5 233.5h1.2v1.2h-1.2zM125.9 246.6h1.2v1.2h-1.2zM122.7 208.4h1.2v1.2h-1.2zM129.2 237.1h1.2v1.2h-1.2zM123.7 234.9h1.2v1.2h-1.2zM144.3 238.0h1.2v1.2h-1.2zM126.9 248.5h1.2v1.2h-1.2zM129.3 237.6h1.2v1.2h-1.2zM144.1 265.0h1.2v1.2h-1.2zM136.2 261.4h1.2v1.2h-1.2zM128.1 242.6h1.2v1.2h-1.2zM131.6 213.3h1.2v1.2h-1.2zM137.2 219.9h1.2v1.2h-1.2zM136.4 216.5h1.2v1.2h-1.2zM130.2 214.6h1.2v1.2h-1.2zM127.7 253.2h1.2v1.2h-1.2zM130.8 211.4h1.2v1.2h-1.2zM135.9 218.7h1.2v1.2h-1.2zM128.5 249.2h1.2v1.2h-1.2zM117.6 209.4h1.2v1.2h-1.2zM131.9 260.3h1.2v1.2h-1.2zM129.9 231.6h1.2v1.2h-1.2zM143.8 225.5h1.2v1.2h-1.2zM143.7 226.8h1.2v1.2h-1.2zM119.8 201.8h1.2v1.2h-1.2zM136.8 245.1h1.2v1.2h-1.2zM130.0 205.9h1.2v1.2h-1.2zM131.0 254.5h1.2v1.2h-1.2zM126.0 215.3h1.2v1.2h-1.2zM148.6 234.5h1.2v1.2h-1.2zM128.6 253.7h1.2v1.2h-1.2zM150.5 224.4h1.2v1.2h-1.2zM135.4 216.8h1.2v1.2h-1.2zM132.5 216.5h1.2v1.2h-1.2zM132.3 249.8h1.2v1.2h-1.2zM131.0 255.5h1.2v1.2h-1.2zM139.6 215.8h1.2v1.2h-1.2zM132.7 260.4h1.2v1.2h-1.2zM122.3 208.8h1.2v1.2h-1.2zM133.5 234.9h1.2v1.2h-1.2zM138.2 231.5h1.2v1.2h-1.2zM140.5 208.8h1.2v1.2h-1.2zM140.7 221.9h1.2v1.2h-1.2zM138.5 224.2h1.2v1.2h-1.2zM141.0 224.6h1.2v1.2h-1.2zM142.9 150.0h1.2v1.2h-1.2zM123.9 162.4h1.2v1.2h-1.2zM142.9 162.4h1.2v1.2h-1.2zM162.6 160.9h1.2v1.2h-1.2zM178.7 169.7h1.2v1.2h-1.2zM118.8 192.4h1.2v1.2h-1.2zM107.9 198.2h1.2v1.2h-1.2zM118.0 193.0h1.2v1.2h-1.2zM107.6 199.2h1.2v1.2h-1.2zM152.5 200.3h1.2v1.2h-1.2zM102.4 207.6h1.2v1.2h-1.2zM158.7 228.4h1.2v1.2h-1.2zM151.4 234.7h1.2v1.2h-1.2zM157.7 235.8h1.2v1.2h-1.2zM154.6 242.0h1.2v1.2h-1.2zM161.9 242.0h1.2v1.2h-1.2zM166.0 244.5h1.2v1.2h-1.2zM158.7 245.2h1.2v1.2h-1.2zM107.6 247.2h1.2v1.2h-1.2zM106.5 253.5h1.2v1.2h-1.2zM146.2 252.4h1.2v1.2h-1.2zM141.0 266.0h1.2v1.2h-1.2zM167.1 313.0h1.2v1.2h-1.2zM145.2 317.2h1.2v1.2h-1.2zM120.1 316.1h1.2v1.2h-1.2zM121.2 308.8h1.2v1.2h-1.2zM117.4 311.4h1.2v1.2h-1.2zM121.4 313.4h1.2v1.2h-1.2z" fill="#000"/>
<rect x="146.5" y="48.8" width="76.4" height="32.6" fill="#fff" stroke="#000" stroke-width="1.3"/>
<text x="184.7" y="71.85" font-size="14.5" text-anchor="middle" >–250 Km</text>
<line x1="80.5" y1="48.8" x2="80.5" y2="39.6" stroke="#000" stroke-width="1.1"/>
<line x1="80.5" y1="353.3" x2="80.5" y2="362.8" stroke="#000" stroke-width="1.1"/>
<line x1="89.4" y1="48.8" x2="89.4" y2="44" stroke="#000" stroke-width="1.1"/>
<line x1="89.4" y1="353.3" x2="89.4" y2="358.5" stroke="#000" stroke-width="1.1"/>
<line x1="98.3" y1="48.8" x2="98.3" y2="44" stroke="#000" stroke-width="1.1"/>
<line x1="98.3" y1="353.3" x2="98.3" y2="358.5" stroke="#000" stroke-width="1.1"/>
<line x1="107.2" y1="48.8" x2="107.2" y2="44" stroke="#000" stroke-width="1.1"/>
<line x1="107.2" y1="353.3" x2="107.2" y2="358.5" stroke="#000" stroke-width="1.1"/>
<line x1="116.1" y1="48.8" x2="116.1" y2="39.6" stroke="#000" stroke-width="1.1"/>
<line x1="116.1" y1="353.3" x2="116.1" y2="362.8" stroke="#000" stroke-width="1.1"/>
<line x1="125" y1="48.8" x2="125" y2="44" stroke="#000" stroke-width="1.1"/>
<line x1="125" y1="353.3" x2="125" y2="358.5" stroke="#000" stroke-width="1.1"/>
<line x1="133.9" y1="48.8" x2="133.9" y2="44" stroke="#000" stroke-width="1.1"/>
<line x1="133.9" y1="353.3" x2="133.9" y2="358.5" stroke="#000" stroke-width="1.1"/>
<line x1="142.8" y1="48.8" x2="142.8" y2="44" stroke="#000" stroke-width="1.1"/>
<line x1="142.8" y1="353.3" x2="142.8" y2="358.5" stroke="#000" stroke-width="1.1"/>
<line x1="151.7" y1="48.8" x2="151.7" y2="39.6" stroke="#000" stroke-width="1.1"/>
<line x1="151.7" y1="353.3" x2="151.7" y2="362.8" stroke="#000" stroke-width="1.1"/>
<line x1="160.6" y1="48.8" x2="160.6" y2="44" stroke="#000" stroke-width="1.1"/>
<line x1="160.6" y1="353.3" x2="160.6" y2="358.5" stroke="#000" stroke-width="1.1"/>
<line x1="169.5" y1="48.8" x2="169.5" y2="44" stroke="#000" stroke-width="1.1"/>
<line x1="169.5" y1="353.3" x2="169.5" y2="358.5" stroke="#000" stroke-width="1.1"/>
<line x1="178.4" y1="48.8" x2="178.4" y2="44" stroke="#000" stroke-width="1.1"/>
<line x1="178.4" y1="353.3" x2="178.4" y2="358.5" stroke="#000" stroke-width="1.1"/>
<line x1="187.3" y1="48.8" x2="187.3" y2="39.6" stroke="#000" stroke-width="1.1"/>
<line x1="187.3" y1="353.3" x2="187.3" y2="362.8" stroke="#000" stroke-width="1.1"/>
<line x1="196.2" y1="48.8" x2="196.2" y2="44" stroke="#000" stroke-width="1.1"/>
<line x1="196.2" y1="353.3" x2="196.2" y2="358.5" stroke="#000" stroke-width="1.1"/>
<line x1="205.1" y1="48.8" x2="205.1" y2="44" stroke="#000" stroke-width="1.1"/>
<line x1="205.1" y1="353.3" x2="205.1" y2="358.5" stroke="#000" stroke-width="1.1"/>
<line x1="214" y1="48.8" x2="214" y2="44" stroke="#000" stroke-width="1.1"/>
<line x1="214" y1="353.3" x2="214" y2="358.5" stroke="#000" stroke-width="1.1"/>
<line x1="222.9" y1="48.8" x2="222.9" y2="39.6" stroke="#000" stroke-width="1.1"/>
<line x1="222.9" y1="353.3" x2="222.9" y2="362.8" stroke="#000" stroke-width="1.1"/>
<line x1="80.5" y1="48.8" x2="71.3" y2="48.8" stroke="#000" stroke-width="1.1"/>
<line x1="222.9" y1="48.8" x2="232.1" y2="48.8" stroke="#000" stroke-width="1.1"/>
<line x1="80.5" y1="74.17" x2="75.5" y2="74.17" stroke="#000" stroke-width="1.1"/>
<line x1="222.9" y1="74.17" x2="227.9" y2="74.17" stroke="#000" stroke-width="1.1"/>
<line x1="80.5" y1="99.55" x2="71.3" y2="99.55" stroke="#000" stroke-width="1.1"/>
<line x1="222.9" y1="99.55" x2="232.1" y2="99.55" stroke="#000" stroke-width="1.1"/>
<line x1="80.5" y1="124.92" x2="75.5" y2="124.92" stroke="#000" stroke-width="1.1"/>
<line x1="222.9" y1="124.92" x2="227.9" y2="124.92" stroke="#000" stroke-width="1.1"/>
<line x1="80.5" y1="150.3" x2="71.3" y2="150.3" stroke="#000" stroke-width="1.1"/>
<line x1="222.9" y1="150.3" x2="232.1" y2="150.3" stroke="#000" stroke-width="1.1"/>
<line x1="80.5" y1="175.67" x2="75.5" y2="175.67" stroke="#000" stroke-width="1.1"/>
<line x1="222.9" y1="175.67" x2="227.9" y2="175.67" stroke="#000" stroke-width="1.1"/>
<line x1="80.5" y1="201.05" x2="71.3" y2="201.05" stroke="#000" stroke-width="1.1"/>
<line x1="222.9" y1="201.05" x2="232.1" y2="201.05" stroke="#000" stroke-width="1.1"/>
<line x1="80.5" y1="226.42" x2="75.5" y2="226.42" stroke="#000" stroke-width="1.1"/>
<line x1="222.9" y1="226.42" x2="227.9" y2="226.42" stroke="#000" stroke-width="1.1"/>
<line x1="80.5" y1="251.8" x2="71.3" y2="251.8" stroke="#000" stroke-width="1.1"/>
<line x1="222.9" y1="251.8" x2="232.1" y2="251.8" stroke="#000" stroke-width="1.1"/>
<line x1="80.5" y1="277.17" x2="75.5" y2="277.17" stroke="#000" stroke-width="1.1"/>
<line x1="222.9" y1="277.17" x2="227.9" y2="277.17" stroke="#000" stroke-width="1.1"/>
<line x1="80.5" y1="302.55" x2="71.3" y2="302.55" stroke="#000" stroke-width="1.1"/>
<line x1="222.9" y1="302.55" x2="232.1" y2="302.55" stroke="#000" stroke-width="1.1"/>
<line x1="80.5" y1="327.93" x2="75.5" y2="327.93" stroke="#000" stroke-width="1.1"/>
<line x1="222.9" y1="327.93" x2="227.9" y2="327.93" stroke="#000" stroke-width="1.1"/>
<line x1="80.5" y1="353.3" x2="71.3" y2="353.3" stroke="#000" stroke-width="1.1"/>
<line x1="222.9" y1="353.3" x2="232.1" y2="353.3" stroke="#000" stroke-width="1.1"/>
<path d="M79.05 48.8H224.35M79.05 353.3H224.35" stroke="#000" stroke-width="2.2" fill="none"/>
<path d="M80.5 47.7V354.4M222.9 47.7V354.4" stroke="#000" stroke-width="2.8" fill="none"/>
<text x="62.6" y="55.7" font-size="17.6" text-anchor="end" >0</text>
<text x="62.6" y="106.45" font-size="17.6" text-anchor="end" >100</text>
<text x="62.6" y="157.2" font-size="17.6" text-anchor="end" >200</text>
<text x="62.6" y="207.95" font-size="17.6" text-anchor="end" >300</text>
<text x="62.6" y="258.7" font-size="17.6" text-anchor="end" >400</text>
<text x="62.6" y="309.45" font-size="17.6" text-anchor="end" >500</text>
<text x="62.6" y="360.2" font-size="17.6" text-anchor="end" >600</text>
<text x="80.5" y="384.4" font-size="17.6" text-anchor="middle" >0.4</text>
<text x="116.1" y="384.4" font-size="17.6" text-anchor="middle" >0.8</text>
<text x="151.7" y="384.4" font-size="17.6" text-anchor="middle" >1.2</text>
<text x="187.3" y="384.4" font-size="17.6" text-anchor="middle" >1.6</text>
<text x="222.9" y="384.4" font-size="17.6" text-anchor="middle" >2.0</text>
<line x1="325.3" y1="49.8" x2="325.3" y2="354.3" stroke="#d2d2d2" stroke-width="1.0"/>
<line x1="343.1" y1="49.8" x2="343.1" y2="354.3" stroke="#d2d2d2" stroke-width="1.0"/>
<line x1="360.9" y1="49.8" x2="360.9" y2="354.3" stroke="#d2d2d2" stroke-width="1.0"/>
<line x1="378.7" y1="49.8" x2="378.7" y2="354.3" stroke="#d2d2d2" stroke-width="1.0"/>
<line x1="396.5" y1="49.8" x2="396.5" y2="354.3" stroke="#d2d2d2" stroke-width="1.0"/>
<line x1="414.3" y1="49.8" x2="414.3" y2="354.3" stroke="#d2d2d2" stroke-width="1.0"/>
<line x1="432.1" y1="49.8" x2="432.1" y2="354.3" stroke="#d2d2d2" stroke-width="1.0"/>
<polygon points="376.0,148.0 383.5,148.0 382.3,157.9 394.2,159.2 398.1,164.5 404.7,167.1 420.4,169.7 427.0,173.6 429.6,181.5 434.9,185.5 436.9,193.4 436.9,199.9 430.9,202.6 420.4,206.5 417.8,210.4 412.6,213.1 407.3,215.7 402.0,217.0 396.8,221.0 395.5,226.2 403.4,228.8 403.4,231.5 396.8,235.4 390.2,240.7 377.1,245.9 367.9,250.0 363.4,253.0 362.3,265.5 363.4,272.8 376.9,272.8 376.9,278.0 328.9,278.0 328.9,272.8 334.1,269.7 336.2,265.5 346.7,261.3 348.8,250.9 357.1,246.7 360.0,242.0 373.1,236.7 379.7,231.5 381.7,224.9 383.7,217.0 386.3,209.1 388.9,202.6 394.2,198.6 395.5,193.4 391.5,186.8 385.0,178.9 381.0,172.3 373.1,169.7 371.2,167.1 372.5,161.8 374.5,157.9" fill="#ffc0cb"/>
<polygon points="341.1,101.1 350.3,100.7 351.6,105.0 357.8,109.5 364.8,115.1 368.3,120.4 376.2,124.8 379.7,128.3 380.5,133.5 379.7,137.0 381.4,142.3 383.2,147.6 383.6,154.6 382.3,158.1 377.9,156.3 377.0,149.3 376.2,144.0 373.5,138.8 370.0,133.5 367.4,128.3 361.3,121.3 356.0,116.9 352.5,112.5 344.6,104.6" fill="#000"/>
<polyline points="356.0,115.0 352.0,120.0 348.0,125.0 344.5,130.0" fill="none" stroke="#000" stroke-width="1.3" stroke-linejoin="round" stroke-linecap="round"/>
<path d="M344.9 128.6h1.2v1.2h-1.2zM355.7 113.8h1.2v1.2h-1.2zM346.7 125.9h1.2v1.2h-1.2zM347.4 123.0h1.2v1.2h-1.2zM348.3 122.1h1.2v1.2h-1.2zM345.9 128.8h1.2v1.2h-1.2zM350.1 121.3h1.2v1.2h-1.2zM353.7 115.1h1.2v1.2h-1.2zM352.4 119.0h1.2v1.2h-1.2zM348.8 123.0h1.2v1.2h-1.2zM352.8 120.4h1.2v1.2h-1.2zM343.5 128.6h1.2v1.2h-1.2zM345.8 125.7h1.2v1.2h-1.2zM345.1 125.7h1.2v1.2h-1.2zM355.3 119.2h1.2v1.2h-1.2zM353.6 114.7h1.2v1.2h-1.2zM348.1 120.9h1.2v1.2h-1.2zM341.7 128.2h1.2v1.2h-1.2zM353.8 117.8h1.2v1.2h-1.2zM346.7 120.0h1.2v1.2h-1.2zM345.8 125.2h1.2v1.2h-1.2zM351.3 118.4h1.2v1.2h-1.2zM344.5 130.8h1.2v1.2h-1.2zM354.2 118.4h1.2v1.2h-1.2zM347.1 121.6h1.2v1.2h-1.2zM348.0 123.9h1.2v1.2h-1.2zM351.4 121.2h1.2v1.2h-1.2zM355.6 113.6h1.2v1.2h-1.2zM345.9 130.0h1.2v1.2h-1.2zM354.0 114.4h1.2v1.2h-1.2zM353.3 117.3h1.2v1.2h-1.2zM350.0 121.3h1.2v1.2h-1.2zM354.1 116.6h1.2v1.2h-1.2zM348.5 125.3h1.2v1.2h-1.2zM353.1 116.5h1.2v1.2h-1.2zM346.9 129.0h1.2v1.2h-1.2zM355.0 117.1h1.2v1.2h-1.2zM354.5 118.5h1.2v1.2h-1.2zM355.5 121.2h1.2v1.2h-1.2zM355.0 116.9h1.2v1.2h-1.2zM348.1 122.8h1.2v1.2h-1.2zM353.1 119.7h1.2v1.2h-1.2zM346.2 123.0h1.2v1.2h-1.2zM348.2 124.1h1.2v1.2h-1.2zM350.2 123.3h1.2v1.2h-1.2zM353.1 119.9h1.2v1.2h-1.2zM346.7 128.7h1.2v1.2h-1.2zM349.9 120.1h1.2v1.2h-1.2zM344.2 130.5h1.2v1.2h-1.2zM352.5 120.8h1.2v1.2h-1.2zM354.1 116.6h1.2v1.2h-1.2zM355.4 117.8h1.2v1.2h-1.2zM353.1 121.6h1.2v1.2h-1.2zM344.2 130.7h1.2v1.2h-1.2zM350.6 117.1h1.2v1.2h-1.2zM345.8 125.3h1.2v1.2h-1.2zM350.2 120.6h1.2v1.2h-1.2zM354.3 115.3h1.2v1.2h-1.2zM346.9 125.7h1.2v1.2h-1.2zM353.4 118.0h1.2v1.2h-1.2zM347.9 122.3h1.2v1.2h-1.2zM348.6 126.6h1.2v1.2h-1.2zM344.1 127.5h1.2v1.2h-1.2zM348.9 121.7h1.2v1.2h-1.2zM349.5 120.4h1.2v1.2h-1.2zM354.8 114.6h1.2v1.2h-1.2zM351.2 121.2h1.2v1.2h-1.2zM353.5 118.5h1.2v1.2h-1.2zM354.9 114.1h1.2v1.2h-1.2zM353.1 117.3h1.2v1.2h-1.2zM356.8 137.8h1.2v1.2h-1.2zM345.0 129.3h1.2v1.2h-1.2zM356.1 136.9h1.2v1.2h-1.2zM368.8 134.0h1.2v1.2h-1.2zM365.5 150.0h1.2v1.2h-1.2zM367.7 138.3h1.2v1.2h-1.2zM354.9 136.6h1.2v1.2h-1.2zM360.8 137.5h1.2v1.2h-1.2zM375.8 151.2h1.2v1.2h-1.2zM375.0 152.5h1.2v1.2h-1.2zM352.8 127.1h1.2v1.2h-1.2zM359.5 128.3h1.2v1.2h-1.2zM357.4 145.9h1.2v1.2h-1.2zM347.5 134.9h1.2v1.2h-1.2zM352.8 127.1h1.2v1.2h-1.2zM365.9 146.0h1.2v1.2h-1.2zM357.8 139.4h1.2v1.2h-1.2zM375.6 149.1h1.2v1.2h-1.2zM367.0 134.4h1.2v1.2h-1.2zM362.5 123.5h1.2v1.2h-1.2zM348.7 138.8h1.2v1.2h-1.2zM359.3 134.4h1.2v1.2h-1.2zM367.3 156.7h1.2v1.2h-1.2zM367.1 137.2h1.2v1.2h-1.2zM368.5 145.1h1.2v1.2h-1.2zM369.1 153.2h1.2v1.2h-1.2zM356.5 145.4h1.2v1.2h-1.2zM367.3 154.5h1.2v1.2h-1.2zM365.2 151.7h1.2v1.2h-1.2zM367.9 142.9h1.2v1.2h-1.2zM374.1 154.6h1.2v1.2h-1.2zM368.4 142.0h1.2v1.2h-1.2zM357.6 128.1h1.2v1.2h-1.2zM362.2 137.0h1.2v1.2h-1.2zM365.4 149.1h1.2v1.2h-1.2zM359.4 145.7h1.2v1.2h-1.2zM354.1 128.6h1.2v1.2h-1.2zM369.9 134.4h1.2v1.2h-1.2zM366.0 150.5h1.2v1.2h-1.2zM348.1 133.4h1.2v1.2h-1.2zM358.7 129.8h1.2v1.2h-1.2zM361.2 133.5h1.2v1.2h-1.2zM353.2 144.7h1.2v1.2h-1.2zM359.3 140.0h1.2v1.2h-1.2zM365.0 150.8h1.2v1.2h-1.2zM365.3 133.9h1.2v1.2h-1.2zM364.6 133.8h1.2v1.2h-1.2zM370.3 143.8h1.2v1.2h-1.2zM353.2 127.2h1.2v1.2h-1.2zM358.4 127.1h1.2v1.2h-1.2zM355.7 132.7h1.2v1.2h-1.2zM353.5 120.7h1.2v1.2h-1.2zM358.4 124.4h1.2v1.2h-1.2zM357.9 129.7h1.2v1.2h-1.2zM373.7 156.1h1.2v1.2h-1.2zM357.9 144.3h1.2v1.2h-1.2zM345.9 127.4h1.2v1.2h-1.2zM355.5 132.4h1.2v1.2h-1.2zM370.7 144.0h1.2v1.2h-1.2zM368.4 148.9h1.2v1.2h-1.2zM372.8 156.7h1.2v1.2h-1.2zM368.8 158.5h1.2v1.2h-1.2zM352.6 143.5h1.2v1.2h-1.2zM365.9 132.8h1.2v1.2h-1.2zM356.2 124.7h1.2v1.2h-1.2zM354.7 132.5h1.2v1.2h-1.2zM374.5 154.5h1.2v1.2h-1.2zM369.1 135.7h1.2v1.2h-1.2zM361.4 127.3h1.2v1.2h-1.2zM352.4 144.2h1.2v1.2h-1.2zM347.7 130.7h1.2v1.2h-1.2zM347.4 126.0h1.2v1.2h-1.2zM351.2 135.1h1.2v1.2h-1.2zM351.2 131.8h1.2v1.2h-1.2zM351.0 127.5h1.2v1.2h-1.2zM368.2 136.8h1.2v1.2h-1.2zM372.7 141.4h1.2v1.2h-1.2zM368.6 145.2h1.2v1.2h-1.2zM354.2 120.5h1.2v1.2h-1.2zM364.6 124.6h1.2v1.2h-1.2zM367.8 128.5h1.2v1.2h-1.2zM365.2 130.2h1.2v1.2h-1.2zM369.6 142.5h1.2v1.2h-1.2zM375.5 132.7h1.2v1.2h-1.2zM369.9 144.2h1.2v1.2h-1.2zM368.9 132.9h1.2v1.2h-1.2zM378.4 151.8h1.2v1.2h-1.2zM371.2 137.7h1.2v1.2h-1.2zM363.6 125.4h1.2v1.2h-1.2zM357.3 121.0h1.2v1.2h-1.2zM358.8 120.8h1.2v1.2h-1.2zM373.6 148.0h1.2v1.2h-1.2zM373.3 147.5h1.2v1.2h-1.2zM370.4 135.2h1.2v1.2h-1.2zM358.8 122.2h1.2v1.2h-1.2zM368.4 142.7h1.2v1.2h-1.2zM374.7 146.3h1.2v1.2h-1.2zM359.8 121.4h1.2v1.2h-1.2zM362.7 123.4h1.2v1.2h-1.2zM361.4 125.9h1.2v1.2h-1.2zM372.6 144.2h1.2v1.2h-1.2zM374.0 147.0h1.2v1.2h-1.2zM370.9 142.2h1.2v1.2h-1.2zM364.1 129.5h1.2v1.2h-1.2zM362.3 131.2h1.2v1.2h-1.2zM369.4 142.0h1.2v1.2h-1.2zM363.7 120.6h1.2v1.2h-1.2zM360.4 121.3h1.2v1.2h-1.2zM373.2 137.6h1.2v1.2h-1.2zM361.9 124.7h1.2v1.2h-1.2zM367.0 135.0h1.2v1.2h-1.2zM369.8 138.9h1.2v1.2h-1.2zM373.6 138.7h1.2v1.2h-1.2zM370.8 135.3h1.2v1.2h-1.2zM356.2 118.9h1.2v1.2h-1.2zM367.0 121.3h1.2v1.2h-1.2zM371.1 146.1h1.2v1.2h-1.2zM362.7 120.9h1.2v1.2h-1.2zM365.5 123.7h1.2v1.2h-1.2zM362.2 130.3h1.2v1.2h-1.2zM365.8 129.8h1.2v1.2h-1.2zM369.8 142.1h1.2v1.2h-1.2zM359.6 124.8h1.2v1.2h-1.2zM359.6 127.9h1.2v1.2h-1.2zM361.3 120.5h1.2v1.2h-1.2zM369.1 142.3h1.2v1.2h-1.2zM362.4 127.1h1.2v1.2h-1.2zM358.9 122.7h1.2v1.2h-1.2zM364.8 130.4h1.2v1.2h-1.2zM356.0 120.1h1.2v1.2h-1.2zM358.6 121.9h1.2v1.2h-1.2zM372.0 144.1h1.2v1.2h-1.2zM362.0 121.9h1.2v1.2h-1.2zM356.9 117.0h1.2v1.2h-1.2zM362.9 126.9h1.2v1.2h-1.2zM369.4 140.9h1.2v1.2h-1.2zM366.0 129.1h1.2v1.2h-1.2zM369.8 135.1h1.2v1.2h-1.2zM368.7 135.8h1.2v1.2h-1.2zM372.1 133.7h1.2v1.2h-1.2zM369.0 128.6h1.2v1.2h-1.2zM357.5 125.1h1.2v1.2h-1.2zM374.6 149.0h1.2v1.2h-1.2zM369.5 143.7h1.2v1.2h-1.2zM367.9 133.7h1.2v1.2h-1.2zM356.4 118.3h1.2v1.2h-1.2zM367.5 136.9h1.2v1.2h-1.2zM371.8 149.4h1.2v1.2h-1.2zM365.4 129.1h1.2v1.2h-1.2zM368.4 132.4h1.2v1.2h-1.2zM373.3 147.0h1.2v1.2h-1.2zM368.2 140.0h1.2v1.2h-1.2zM355.1 120.0h1.2v1.2h-1.2zM368.2 140.5h1.2v1.2h-1.2zM371.1 140.3h1.2v1.2h-1.2zM367.8 131.8h1.2v1.2h-1.2zM360.5 125.6h1.2v1.2h-1.2zM371.0 136.6h1.2v1.2h-1.2zM371.6 135.0h1.2v1.2h-1.2zM367.5 130.9h1.2v1.2h-1.2zM364.2 137.9h1.2v1.2h-1.2zM361.5 130.1h1.2v1.2h-1.2zM372.8 137.0h1.2v1.2h-1.2zM368.0 126.8h1.2v1.2h-1.2zM374.3 141.4h1.2v1.2h-1.2zM350.8 100.5h1.2v1.2h-1.2zM350.0 100.5h1.2v1.2h-1.2zM350.0 98.8h1.2v1.2h-1.2zM340.1 100.1h1.2v1.2h-1.2zM343.5 101.1h1.2v1.2h-1.2zM343.1 100.7h1.2v1.2h-1.2zM350.6 99.3h1.2v1.2h-1.2zM343.5 100.3h1.2v1.2h-1.2zM343.3 98.8h1.2v1.2h-1.2zM344.8 100.2h1.2v1.2h-1.2zM346.9 100.6h1.2v1.2h-1.2zM343.1 100.4h1.2v1.2h-1.2zM345.2 101.5h1.2v1.2h-1.2zM340.0 100.3h1.2v1.2h-1.2zM344.8 100.2h1.2v1.2h-1.2zM393.7 209.7h1.2v1.2h-1.2zM344.3 271.1h1.2v1.2h-1.2zM383.0 212.9h1.2v1.2h-1.2zM356.9 248.0h1.2v1.2h-1.2zM395.4 234.8h1.2v1.2h-1.2zM378.5 158.3h1.2v1.2h-1.2zM380.5 237.8h1.2v1.2h-1.2zM391.5 211.8h1.2v1.2h-1.2zM416.4 193.9h1.2v1.2h-1.2zM352.5 269.7h1.2v1.2h-1.2zM379.9 168.0h1.2v1.2h-1.2zM343.1 271.4h1.2v1.2h-1.2zM377.9 245.2h1.2v1.2h-1.2zM413.0 200.9h1.2v1.2h-1.2zM373.4 239.8h1.2v1.2h-1.2zM407.6 212.6h1.2v1.2h-1.2zM386.1 208.1h1.2v1.2h-1.2zM357.7 241.4h1.2v1.2h-1.2zM389.4 169.2h1.2v1.2h-1.2zM415.0 211.7h1.2v1.2h-1.2zM395.7 202.4h1.2v1.2h-1.2zM368.0 245.4h1.2v1.2h-1.2zM417.5 204.3h1.2v1.2h-1.2zM376.8 240.9h1.2v1.2h-1.2zM354.9 272.4h1.2v1.2h-1.2zM344.7 264.9h1.2v1.2h-1.2zM387.1 235.2h1.2v1.2h-1.2zM376.9 239.3h1.2v1.2h-1.2zM381.7 166.7h1.2v1.2h-1.2zM342.7 272.7h1.2v1.2h-1.2zM375.8 248.2h1.2v1.2h-1.2zM422.5 201.0h1.2v1.2h-1.2zM409.5 204.8h1.2v1.2h-1.2zM395.7 168.9h1.2v1.2h-1.2zM391.8 217.0h1.2v1.2h-1.2zM399.1 200.9h1.2v1.2h-1.2zM358.5 270.2h1.2v1.2h-1.2zM393.6 233.4h1.2v1.2h-1.2zM399.9 179.4h1.2v1.2h-1.2zM390.6 227.2h1.2v1.2h-1.2zM405.5 192.2h1.2v1.2h-1.2zM423.4 181.6h1.2v1.2h-1.2zM406.4 181.6h1.2v1.2h-1.2zM373.4 246.8h1.2v1.2h-1.2zM418.0 183.7h1.2v1.2h-1.2zM395.1 222.2h1.2v1.2h-1.2zM392.0 216.1h1.2v1.2h-1.2zM402.7 176.0h1.2v1.2h-1.2zM345.9 252.4h1.2v1.2h-1.2zM402.5 175.4h1.2v1.2h-1.2zM393.0 161.9h1.2v1.2h-1.2zM410.2 182.0h1.2v1.2h-1.2zM369.8 253.8h1.2v1.2h-1.2zM408.7 195.5h1.2v1.2h-1.2zM402.2 170.9h1.2v1.2h-1.2zM364.1 247.9h1.2v1.2h-1.2zM353.2 272.6h1.2v1.2h-1.2zM404.9 218.1h1.2v1.2h-1.2zM392.2 221.5h1.2v1.2h-1.2zM387.8 163.4h1.2v1.2h-1.2zM407.9 209.7h1.2v1.2h-1.2zM396.6 214.6h1.2v1.2h-1.2zM413.9 200.2h1.2v1.2h-1.2zM403.5 182.5h1.2v1.2h-1.2zM350.2 246.3h1.2v1.2h-1.2zM404.3 174.5h1.2v1.2h-1.2zM407.2 173.1h1.2v1.2h-1.2zM408.4 216.8h1.2v1.2h-1.2zM343.3 271.0h1.2v1.2h-1.2zM348.5 270.9h1.2v1.2h-1.2zM392.1 227.2h1.2v1.2h-1.2zM382.5 234.6h1.2v1.2h-1.2zM374.2 248.4h1.2v1.2h-1.2zM348.7 271.1h1.2v1.2h-1.2zM424.4 195.9h1.2v1.2h-1.2zM359.6 274.7h1.2v1.2h-1.2zM344.0 266.6h1.2v1.2h-1.2zM400.0 177.2h1.2v1.2h-1.2zM350.5 260.5h1.2v1.2h-1.2zM338.9 267.1h1.2v1.2h-1.2zM409.4 185.4h1.2v1.2h-1.2zM399.7 179.5h1.2v1.2h-1.2zM385.7 238.7h1.2v1.2h-1.2zM346.4 266.4h1.2v1.2h-1.2zM416.0 177.7h1.2v1.2h-1.2zM382.7 164.8h1.2v1.2h-1.2zM401.4 207.0h1.2v1.2h-1.2zM399.4 189.3h1.2v1.2h-1.2zM398.3 165.3h1.2v1.2h-1.2zM400.2 175.0h1.2v1.2h-1.2zM438.9 186.2h1.2v1.2h-1.2zM443.5 187.5h1.2v1.2h-1.2zM442.2 192.8h1.2v1.2h-1.2zM440.9 197.4h1.2v1.2h-1.2zM435.6 191.4h1.2v1.2h-1.2zM377.1 198.3h1.2v1.2h-1.2zM388.3 196.7h1.2v1.2h-1.2zM409.3 224.3h1.2v1.2h-1.2zM414.6 230.9h1.2v1.2h-1.2zM409.3 232.2h1.2v1.2h-1.2zM371.2 223.6h1.2v1.2h-1.2zM367.9 228.2h1.2v1.2h-1.2zM367.3 236.1h1.2v1.2h-1.2zM377.8 221.0h1.2v1.2h-1.2zM316.8 272.2h1.2v1.2h-1.2zM322.1 277.4h1.2v1.2h-1.2zM323.1 270.1h1.2v1.2h-1.2zM350.2 280.5h1.2v1.2h-1.2zM349.2 285.8h1.2v1.2h-1.2zM351.3 282.6h1.2v1.2h-1.2zM351.3 298.3h1.2v1.2h-1.2zM353.4 294.1h1.2v1.2h-1.2zM354.4 302.5h1.2v1.2h-1.2zM417.0 301.4h1.2v1.2h-1.2zM434.8 298.3h1.2v1.2h-1.2zM408.7 231.4h1.2v1.2h-1.2zM369.0 233.6h1.2v1.2h-1.2zM351.4 289.4h1.2v1.2h-1.2zM347.4 283.4h1.2v1.2h-1.2zM359.8 250.4h1.2v1.2h-1.2zM353.4 249.9h1.2v1.2h-1.2zM352.2 249.3h1.2v1.2h-1.2zM354.9 244.8h1.2v1.2h-1.2zM352.1 247.9h1.2v1.2h-1.2zM354.7 250.7h1.2v1.2h-1.2zM360.3 246.8h1.2v1.2h-1.2zM357.3 247.8h1.2v1.2h-1.2zM352.0 245.2h1.2v1.2h-1.2zM361.7 245.6h1.2v1.2h-1.2zM353.2 248.9h1.2v1.2h-1.2zM359.4 254.2h1.2v1.2h-1.2zM361.1 248.3h1.2v1.2h-1.2zM353.4 245.4h1.2v1.2h-1.2zM352.7 246.9h1.2v1.2h-1.2zM352.5 246.4h1.2v1.2h-1.2zM356.7 254.0h1.2v1.2h-1.2zM353.3 248.8h1.2v1.2h-1.2zM356.1 254.3h1.2v1.2h-1.2zM351.2 253.9h1.2v1.2h-1.2zM353.1 250.9h1.2v1.2h-1.2zM356.8 250.9h1.2v1.2h-1.2zM362.6 249.4h1.2v1.2h-1.2zM349.8 254.3h1.2v1.2h-1.2zM356.4 249.5h1.2v1.2h-1.2zM356.9 259.9h1.2v1.2h-1.2zM349.3 270.4h1.2v1.2h-1.2zM361.4 265.5h1.2v1.2h-1.2zM361.5 260.0h1.2v1.2h-1.2zM347.9 265.6h1.2v1.2h-1.2zM358.7 268.3h1.2v1.2h-1.2zM349.4 270.0h1.2v1.2h-1.2zM346.2 266.4h1.2v1.2h-1.2zM361.6 266.1h1.2v1.2h-1.2zM358.5 270.1h1.2v1.2h-1.2zM355.7 270.6h1.2v1.2h-1.2zM354.4 261.5h1.2v1.2h-1.2zM350.4 261.6h1.2v1.2h-1.2zM352.6 272.0h1.2v1.2h-1.2zM348.9 262.6h1.2v1.2h-1.2zM350.7 272.7h1.2v1.2h-1.2zM357.0 264.9h1.2v1.2h-1.2zM348.7 258.2h1.2v1.2h-1.2zM352.0 273.0h1.2v1.2h-1.2zM353.4 268.2h1.2v1.2h-1.2zM361.2 258.2h1.2v1.2h-1.2zM351.2 264.1h1.2v1.2h-1.2zM396.7 231.1h1.2v1.2h-1.2zM405.3 229.3h1.2v1.2h-1.2zM405.6 230.5h1.2v1.2h-1.2zM404.9 229.6h1.2v1.2h-1.2zM407.4 231.3h1.2v1.2h-1.2zM408.2 235.2h1.2v1.2h-1.2zM403.4 228.5h1.2v1.2h-1.2zM399.4 235.2h1.2v1.2h-1.2zM383.7 240.5h1.2v1.2h-1.2zM389.4 238.8h1.2v1.2h-1.2zM389.2 232.7h1.2v1.2h-1.2zM384.0 239.5h1.2v1.2h-1.2zM383.9 236.3h1.2v1.2h-1.2zM374.6 242.0h1.2v1.2h-1.2zM384.1 239.6h1.2v1.2h-1.2zM373.3 242.2h1.2v1.2h-1.2zM382.2 239.1h1.2v1.2h-1.2zM375.6 239.7h1.2v1.2h-1.2z" fill="#000"/>
<polyline points="345.1,101.5 349.9,106.4 355.1,110.8 360.4,116.9 364.8,123.0 370.0,124.8 373.5,130.0 375.3,135.3 377.9,142.3 379.7,147.6 377.0,154.6" fill="none" stroke="#e8201c" stroke-width="2.0" stroke-linejoin="round"/>
<polyline points="377.0,154.6 378.4,156.6 380.5,158.1 383.0,160.5 385.6,167.1 392.8,168.4 399.4,172.3 404.7,176.3 408.6,181.5 413.9,188.1 416.5,197.3 413.9,201.9 407.3,203.9 403.4,206.5 399.4,211.8 395.5,215.7 392.8,218.3 391.5,222.3 390.2,226.2 392.2,228.8 392.8,232.8 388.9,236.7 383.7,240.7 373.1,244.6 365.3,247.2 357.1,250.9 354.0,261.3 348.8,272.8 352.9,272.8 352.9,277.0" fill="none" stroke="#e8201c" stroke-width="1.3" stroke-linejoin="round"/>
<rect x="373.5" y="49.8" width="76.4" height="32.6" fill="#fff" stroke="#000" stroke-width="1.3"/>
<text x="411.7" y="72.85" font-size="14.5" text-anchor="middle" >–150 Km</text>
<line x1="307.5" y1="49.8" x2="307.5" y2="40.6" stroke="#000" stroke-width="1.1"/>
<line x1="307.5" y1="354.3" x2="307.5" y2="363.8" stroke="#000" stroke-width="1.1"/>
<line x1="316.4" y1="49.8" x2="316.4" y2="45" stroke="#000" stroke-width="1.1"/>
<line x1="316.4" y1="354.3" x2="316.4" y2="359.5" stroke="#000" stroke-width="1.1"/>
<line x1="325.3" y1="49.8" x2="325.3" y2="45" stroke="#000" stroke-width="1.1"/>
<line x1="325.3" y1="354.3" x2="325.3" y2="359.5" stroke="#000" stroke-width="1.1"/>
<line x1="334.2" y1="49.8" x2="334.2" y2="45" stroke="#000" stroke-width="1.1"/>
<line x1="334.2" y1="354.3" x2="334.2" y2="359.5" stroke="#000" stroke-width="1.1"/>
<line x1="343.1" y1="49.8" x2="343.1" y2="40.6" stroke="#000" stroke-width="1.1"/>
<line x1="343.1" y1="354.3" x2="343.1" y2="363.8" stroke="#000" stroke-width="1.1"/>
<line x1="352" y1="49.8" x2="352" y2="45" stroke="#000" stroke-width="1.1"/>
<line x1="352" y1="354.3" x2="352" y2="359.5" stroke="#000" stroke-width="1.1"/>
<line x1="360.9" y1="49.8" x2="360.9" y2="45" stroke="#000" stroke-width="1.1"/>
<line x1="360.9" y1="354.3" x2="360.9" y2="359.5" stroke="#000" stroke-width="1.1"/>
<line x1="369.8" y1="49.8" x2="369.8" y2="45" stroke="#000" stroke-width="1.1"/>
<line x1="369.8" y1="354.3" x2="369.8" y2="359.5" stroke="#000" stroke-width="1.1"/>
<line x1="378.7" y1="49.8" x2="378.7" y2="40.6" stroke="#000" stroke-width="1.1"/>
<line x1="378.7" y1="354.3" x2="378.7" y2="363.8" stroke="#000" stroke-width="1.1"/>
<line x1="387.6" y1="49.8" x2="387.6" y2="45" stroke="#000" stroke-width="1.1"/>
<line x1="387.6" y1="354.3" x2="387.6" y2="359.5" stroke="#000" stroke-width="1.1"/>
<line x1="396.5" y1="49.8" x2="396.5" y2="45" stroke="#000" stroke-width="1.1"/>
<line x1="396.5" y1="354.3" x2="396.5" y2="359.5" stroke="#000" stroke-width="1.1"/>
<line x1="405.4" y1="49.8" x2="405.4" y2="45" stroke="#000" stroke-width="1.1"/>
<line x1="405.4" y1="354.3" x2="405.4" y2="359.5" stroke="#000" stroke-width="1.1"/>
<line x1="414.3" y1="49.8" x2="414.3" y2="40.6" stroke="#000" stroke-width="1.1"/>
<line x1="414.3" y1="354.3" x2="414.3" y2="363.8" stroke="#000" stroke-width="1.1"/>
<line x1="423.2" y1="49.8" x2="423.2" y2="45" stroke="#000" stroke-width="1.1"/>
<line x1="423.2" y1="354.3" x2="423.2" y2="359.5" stroke="#000" stroke-width="1.1"/>
<line x1="432.1" y1="49.8" x2="432.1" y2="45" stroke="#000" stroke-width="1.1"/>
<line x1="432.1" y1="354.3" x2="432.1" y2="359.5" stroke="#000" stroke-width="1.1"/>
<line x1="441" y1="49.8" x2="441" y2="45" stroke="#000" stroke-width="1.1"/>
<line x1="441" y1="354.3" x2="441" y2="359.5" stroke="#000" stroke-width="1.1"/>
<line x1="449.9" y1="49.8" x2="449.9" y2="40.6" stroke="#000" stroke-width="1.1"/>
<line x1="449.9" y1="354.3" x2="449.9" y2="363.8" stroke="#000" stroke-width="1.1"/>
<line x1="307.5" y1="49.8" x2="298.3" y2="49.8" stroke="#000" stroke-width="1.1"/>
<line x1="449.9" y1="49.8" x2="459.1" y2="49.8" stroke="#000" stroke-width="1.1"/>
<line x1="307.5" y1="75.17" x2="302.5" y2="75.17" stroke="#000" stroke-width="1.1"/>
<line x1="449.9" y1="75.17" x2="454.9" y2="75.17" stroke="#000" stroke-width="1.1"/>
<line x1="307.5" y1="100.55" x2="298.3" y2="100.55" stroke="#000" stroke-width="1.1"/>
<line x1="449.9" y1="100.55" x2="459.1" y2="100.55" stroke="#000" stroke-width="1.1"/>
<line x1="307.5" y1="125.92" x2="302.5" y2="125.92" stroke="#000" stroke-width="1.1"/>
<line x1="449.9" y1="125.92" x2="454.9" y2="125.92" stroke="#000" stroke-width="1.1"/>
<line x1="307.5" y1="151.3" x2="298.3" y2="151.3" stroke="#000" stroke-width="1.1"/>
<line x1="449.9" y1="151.3" x2="459.1" y2="151.3" stroke="#000" stroke-width="1.1"/>
<line x1="307.5" y1="176.67" x2="302.5" y2="176.67" stroke="#000" stroke-width="1.1"/>
<line x1="449.9" y1="176.67" x2="454.9" y2="176.67" stroke="#000" stroke-width="1.1"/>
<line x1="307.5" y1="202.05" x2="298.3" y2="202.05" stroke="#000" stroke-width="1.1"/>
<line x1="449.9" y1="202.05" x2="459.1" y2="202.05" stroke="#000" stroke-width="1.1"/>
<line x1="307.5" y1="227.42" x2="302.5" y2="227.42" stroke="#000" stroke-width="1.1"/>
<line x1="449.9" y1="227.42" x2="454.9" y2="227.42" stroke="#000" stroke-width="1.1"/>
<line x1="307.5" y1="252.8" x2="298.3" y2="252.8" stroke="#000" stroke-width="1.1"/>
<line x1="449.9" y1="252.8" x2="459.1" y2="252.8" stroke="#000" stroke-width="1.1"/>
<line x1="307.5" y1="278.17" x2="302.5" y2="278.17" stroke="#000" stroke-width="1.1"/>
<line x1="449.9" y1="278.17" x2="454.9" y2="278.17" stroke="#000" stroke-width="1.1"/>
<line x1="307.5" y1="303.55" x2="298.3" y2="303.55" stroke="#000" stroke-width="1.1"/>
<line x1="449.9" y1="303.55" x2="459.1" y2="303.55" stroke="#000" stroke-width="1.1"/>
<line x1="307.5" y1="328.93" x2="302.5" y2="328.93" stroke="#000" stroke-width="1.1"/>
<line x1="449.9" y1="328.93" x2="454.9" y2="328.93" stroke="#000" stroke-width="1.1"/>
<line x1="307.5" y1="354.3" x2="298.3" y2="354.3" stroke="#000" stroke-width="1.1"/>
<line x1="449.9" y1="354.3" x2="459.1" y2="354.3" stroke="#000" stroke-width="1.1"/>
<path d="M306.05 49.8H451.35M306.05 354.3H451.35" stroke="#000" stroke-width="2.2" fill="none"/>
<path d="M307.5 48.7V355.4M449.9 48.7V355.4" stroke="#000" stroke-width="2.8" fill="none"/>
<text x="289.6" y="56.7" font-size="17.6" text-anchor="end" >0</text>
<text x="289.6" y="107.45" font-size="17.6" text-anchor="end" >100</text>
<text x="289.6" y="158.2" font-size="17.6" text-anchor="end" >200</text>
<text x="289.6" y="208.95" font-size="17.6" text-anchor="end" >300</text>
<text x="289.6" y="259.7" font-size="17.6" text-anchor="end" >400</text>
<text x="289.6" y="310.45" font-size="17.6" text-anchor="end" >500</text>
<text x="289.6" y="361.2" font-size="17.6" text-anchor="end" >600</text>
<text x="307.5" y="385.4" font-size="17.6" text-anchor="middle" >0.4</text>
<text x="343.1" y="385.4" font-size="17.6" text-anchor="middle" >0.8</text>
<text x="378.7" y="385.4" font-size="17.6" text-anchor="middle" >1.2</text>
<text x="414.3" y="385.4" font-size="17.6" text-anchor="middle" >1.6</text>
<text x="449.9" y="385.4" font-size="17.6" text-anchor="middle" >2.0</text>
<line x1="548.3" y1="50.4" x2="548.3" y2="354.9" stroke="#d2d2d2" stroke-width="1.0"/>
<line x1="566.1" y1="50.4" x2="566.1" y2="354.9" stroke="#d2d2d2" stroke-width="1.0"/>
<line x1="583.9" y1="50.4" x2="583.9" y2="354.9" stroke="#d2d2d2" stroke-width="1.0"/>
<line x1="601.7" y1="50.4" x2="601.7" y2="354.9" stroke="#d2d2d2" stroke-width="1.0"/>
<line x1="619.5" y1="50.4" x2="619.5" y2="354.9" stroke="#d2d2d2" stroke-width="1.0"/>
<line x1="637.3" y1="50.4" x2="637.3" y2="354.9" stroke="#d2d2d2" stroke-width="1.0"/>
<line x1="655.1" y1="50.4" x2="655.1" y2="354.9" stroke="#d2d2d2" stroke-width="1.0"/>
<polygon points="600.0,130.0 605.0,132.0 606.0,143.7 613.8,148.6 615.7,154.4 618.6,162.2 621.6,168.0 631.3,170.0 631.3,175.8 629.3,179.7 622.0,181.6 672.0,181.6 670.1,201.0 667.2,209.8 620.0,212.0 598.3,214.6 592.4,216.6 586.6,220.4 584.7,230.1 580.8,237.9 576.0,242.5 580.0,243.2 580.0,245.5 567.2,246.8 537.0,246.8 536.5,244.8 548.0,243.2 559.4,241.8 567.2,237.9 571.1,228.2 574.0,218.5 575.0,214.6 558.4,212.7 548.7,206.8 552.6,201.0 555.5,181.6 588.5,179.7 586.6,176.7 582.7,173.8 580.8,170.9 592.4,167.0 588.5,162.2 587.6,156.4 592.4,150.5 598.3,143.7" fill="#ffc0cb"/>
<polygon points="553.8,100.6 563.5,100.6 564.5,106.0 566.7,110.5 573.2,114.0 579.1,115.4 584.2,117.6 590.0,120.5 595.1,123.4 598.8,127.1 601.7,130.7 603.6,135.0 603.5,140.0 600.0,140.0 597.0,136.5 591.5,134.5 584.2,132.3 576.9,130.5 569.6,128.4 563.8,125.6 560.1,121.3 557.5,115.0 555.2,108.0" fill="#000"/>
<polygon points="557.0,100.8 561.0,100.8 562.3,108.6 564.5,114.5 569.6,118.1 576.9,121.1 584.2,124.0 591.5,127.6 597.3,131.3 601.0,135.7 602.5,139.5 601.7,138.6 597.3,134.9 591.5,132.7 584.2,130.5 575.4,128.4 568.1,125.4 563.0,121.8 561.6,118.1 559.4,112.3 557.2,105.0" fill="#e31a1c"/>
<polyline points="598.1,133.8 601.1,137.9 601.6,144.0 600.2,148.6 602.1,156.4 604.1,164.1 608.9,170.0 607.0,173.8 608.9,177.7 611.8,180.6 614.8,183.5 612.8,193.3 610.9,203.0 608.0,205.9 610.9,210.7 598.3,212.7 587.6,213.6 583.7,218.5 578.8,224.3 577.9,232.1 574.0,236.9 567.2,241.8 555.5,244.7 551.7,246.7" fill="none" stroke="#e8201c" stroke-width="1.3" stroke-linejoin="round"/>
<polygon points="602.0,181.6 612.0,180.2 622.5,181.3 612.0,183.0" fill="#e31a1c"/>
<path d="M569.9 110.2h1.2v1.2h-1.2zM588.6 117.5h1.2v1.2h-1.2zM564.9 100.6h1.2v1.2h-1.2zM571.7 110.3h1.2v1.2h-1.2zM597.4 125.2h1.2v1.2h-1.2zM565.8 106.5h1.2v1.2h-1.2zM584.9 114.8h1.2v1.2h-1.2zM565.1 102.7h1.2v1.2h-1.2zM575.9 112.0h1.2v1.2h-1.2zM582.1 113.3h1.2v1.2h-1.2zM594.8 120.4h1.2v1.2h-1.2zM595.3 124.3h1.2v1.2h-1.2zM600.7 127.0h1.2v1.2h-1.2zM570.8 109.8h1.2v1.2h-1.2zM589.6 119.1h1.2v1.2h-1.2zM577.4 114.2h1.2v1.2h-1.2zM589.2 116.6h1.2v1.2h-1.2zM603.5 127.1h1.2v1.2h-1.2zM593.1 120.8h1.2v1.2h-1.2zM603.6 130.2h1.2v1.2h-1.2zM594.4 122.2h1.2v1.2h-1.2zM587.3 117.4h1.2v1.2h-1.2zM599.8 125.7h1.2v1.2h-1.2zM597.0 123.9h1.2v1.2h-1.2zM573.8 109.9h1.2v1.2h-1.2zM564.6 102.6h1.2v1.2h-1.2zM593.1 122.3h1.2v1.2h-1.2zM599.3 131.4h1.2v1.2h-1.2zM575.5 112.4h1.2v1.2h-1.2zM565.1 102.8h1.2v1.2h-1.2zM589.4 118.1h1.2v1.2h-1.2zM598.9 128.2h1.2v1.2h-1.2zM600.0 128.2h1.2v1.2h-1.2zM584.0 115.1h1.2v1.2h-1.2zM585.0 115.5h1.2v1.2h-1.2zM582.7 116.2h1.2v1.2h-1.2zM569.9 112.5h1.2v1.2h-1.2zM584.7 115.9h1.2v1.2h-1.2zM579.4 113.8h1.2v1.2h-1.2zM589.2 117.8h1.2v1.2h-1.2zM588.6 118.5h1.2v1.2h-1.2zM576.0 111.4h1.2v1.2h-1.2zM566.0 102.0h1.2v1.2h-1.2zM602.5 131.6h1.2v1.2h-1.2zM587.9 118.2h1.2v1.2h-1.2zM573.6 112.7h1.2v1.2h-1.2zM572.6 112.6h1.2v1.2h-1.2zM563.2 101.3h1.2v1.2h-1.2zM574.7 113.3h1.2v1.2h-1.2zM571.2 111.2h1.2v1.2h-1.2zM593.9 120.7h1.2v1.2h-1.2zM576.1 111.6h1.2v1.2h-1.2zM599.9 126.5h1.2v1.2h-1.2zM591.9 118.3h1.2v1.2h-1.2zM571.1 110.8h1.2v1.2h-1.2zM569.1 108.0h1.2v1.2h-1.2zM567.9 110.6h1.2v1.2h-1.2zM591.0 117.9h1.2v1.2h-1.2zM566.0 108.2h1.2v1.2h-1.2zM571.8 111.8h1.2v1.2h-1.2zM577.9 114.9h1.2v1.2h-1.2zM569.7 108.0h1.2v1.2h-1.2zM601.4 126.7h1.2v1.2h-1.2zM602.8 129.8h1.2v1.2h-1.2zM596.1 120.7h1.2v1.2h-1.2zM584.5 116.6h1.2v1.2h-1.2zM571.5 110.6h1.2v1.2h-1.2zM573.3 111.2h1.2v1.2h-1.2zM600.2 126.2h1.2v1.2h-1.2zM601.8 126.9h1.2v1.2h-1.2zM564.5 100.6h1.2v1.2h-1.2zM573.2 110.8h1.2v1.2h-1.2zM580.8 113.4h1.2v1.2h-1.2zM575.9 114.1h1.2v1.2h-1.2zM582.9 114.3h1.2v1.2h-1.2zM567.0 109.2h1.2v1.2h-1.2zM568.4 106.9h1.2v1.2h-1.2zM597.7 123.8h1.2v1.2h-1.2zM590.3 118.1h1.2v1.2h-1.2zM572.3 112.1h1.2v1.2h-1.2zM578.3 114.2h1.2v1.2h-1.2zM564.9 100.6h1.2v1.2h-1.2zM568.8 107.5h1.2v1.2h-1.2zM600.4 126.3h1.2v1.2h-1.2zM574.3 112.7h1.2v1.2h-1.2zM590.1 118.4h1.2v1.2h-1.2zM568.2 109.8h1.2v1.2h-1.2zM586.3 115.9h1.2v1.2h-1.2zM565.7 105.3h1.2v1.2h-1.2zM589.1 117.0h1.2v1.2h-1.2zM596.8 123.1h1.2v1.2h-1.2zM575.9 113.1h1.2v1.2h-1.2zM579.5 113.1h1.2v1.2h-1.2zM569.6 110.3h1.2v1.2h-1.2zM564.2 104.5h1.2v1.2h-1.2zM601.2 126.5h1.2v1.2h-1.2zM601.0 127.0h1.2v1.2h-1.2zM583.4 115.8h1.2v1.2h-1.2zM593.0 118.3h1.2v1.2h-1.2zM591.7 118.3h1.2v1.2h-1.2zM565.6 105.7h1.2v1.2h-1.2zM567.0 107.2h1.2v1.2h-1.2zM567.0 106.2h1.2v1.2h-1.2zM570.0 109.2h1.2v1.2h-1.2zM567.1 105.5h1.2v1.2h-1.2zM600.0 124.7h1.2v1.2h-1.2zM599.1 123.9h1.2v1.2h-1.2zM584.3 115.4h1.2v1.2h-1.2zM595.8 121.7h1.2v1.2h-1.2zM573.3 111.6h1.2v1.2h-1.2zM571.3 111.0h1.2v1.2h-1.2zM589.5 117.2h1.2v1.2h-1.2zM576.5 113.4h1.2v1.2h-1.2zM580.8 114.4h1.2v1.2h-1.2zM601.3 131.8h1.2v1.2h-1.2zM566.9 106.9h1.2v1.2h-1.2zM591.0 119.5h1.2v1.2h-1.2zM591.2 118.4h1.2v1.2h-1.2zM565.4 103.6h1.2v1.2h-1.2zM583.2 116.3h1.2v1.2h-1.2zM568.2 109.8h1.2v1.2h-1.2zM587.7 117.9h1.2v1.2h-1.2zM593.7 119.9h1.2v1.2h-1.2zM591.9 121.3h1.2v1.2h-1.2zM587.9 117.9h1.2v1.2h-1.2zM563.7 101.7h1.2v1.2h-1.2zM567.3 109.2h1.2v1.2h-1.2zM598.5 124.5h1.2v1.2h-1.2zM581.9 114.6h1.2v1.2h-1.2zM599.3 124.1h1.2v1.2h-1.2zM563.5 123.7h1.2v1.2h-1.2zM560.3 120.0h1.2v1.2h-1.2zM563.3 125.3h1.2v1.2h-1.2zM575.0 128.9h1.2v1.2h-1.2zM583.5 132.9h1.2v1.2h-1.2zM557.7 115.9h1.2v1.2h-1.2zM584.2 132.1h1.2v1.2h-1.2zM583.7 133.4h1.2v1.2h-1.2zM576.8 131.1h1.2v1.2h-1.2zM582.2 132.9h1.2v1.2h-1.2zM568.5 128.0h1.2v1.2h-1.2zM558.1 119.0h1.2v1.2h-1.2zM554.6 111.1h1.2v1.2h-1.2zM559.9 121.5h1.2v1.2h-1.2zM557.3 115.2h1.2v1.2h-1.2zM585.6 132.8h1.2v1.2h-1.2zM587.2 134.9h1.2v1.2h-1.2zM577.8 132.4h1.2v1.2h-1.2zM572.7 129.1h1.2v1.2h-1.2zM579.1 130.9h1.2v1.2h-1.2zM566.9 127.8h1.2v1.2h-1.2zM559.1 118.4h1.2v1.2h-1.2zM568.3 128.9h1.2v1.2h-1.2zM571.9 130.7h1.2v1.2h-1.2zM573.8 131.0h1.2v1.2h-1.2zM554.6 109.4h1.2v1.2h-1.2zM568.4 128.1h1.2v1.2h-1.2zM562.6 124.8h1.2v1.2h-1.2zM554.2 103.0h1.2v1.2h-1.2zM566.5 126.6h1.2v1.2h-1.2zM556.1 116.2h1.2v1.2h-1.2zM553.6 102.8h1.2v1.2h-1.2zM578.3 131.9h1.2v1.2h-1.2zM559.3 121.8h1.2v1.2h-1.2zM559.6 119.3h1.2v1.2h-1.2zM557.7 115.6h1.2v1.2h-1.2zM579.2 131.0h1.2v1.2h-1.2zM554.9 111.6h1.2v1.2h-1.2zM581.3 130.9h1.2v1.2h-1.2zM554.9 108.9h1.2v1.2h-1.2zM578.9 132.2h1.2v1.2h-1.2zM588.5 137.2h1.2v1.2h-1.2zM579.7 132.4h1.2v1.2h-1.2zM581.4 134.7h1.2v1.2h-1.2zM567.2 131.6h1.2v1.2h-1.2zM588.6 137.8h1.2v1.2h-1.2zM563.1 126.5h1.2v1.2h-1.2zM566.0 131.1h1.2v1.2h-1.2zM575.2 133.5h1.2v1.2h-1.2zM571.1 130.6h1.2v1.2h-1.2zM573.4 131.6h1.2v1.2h-1.2zM561.4 125.1h1.2v1.2h-1.2zM566.3 131.0h1.2v1.2h-1.2zM561.5 124.8h1.2v1.2h-1.2zM588.5 137.6h1.2v1.2h-1.2zM571.1 132.8h1.2v1.2h-1.2zM564.4 129.4h1.2v1.2h-1.2zM572.1 133.9h1.2v1.2h-1.2zM586.3 134.8h1.2v1.2h-1.2zM576.7 135.2h1.2v1.2h-1.2zM582.9 137.0h1.2v1.2h-1.2zM562.9 129.6h1.2v1.2h-1.2zM568.1 132.1h1.2v1.2h-1.2zM575.1 135.5h1.2v1.2h-1.2zM581.6 135.6h1.2v1.2h-1.2zM581.9 133.3h1.2v1.2h-1.2zM587.0 136.9h1.2v1.2h-1.2zM572.5 132.7h1.2v1.2h-1.2zM572.5 130.9h1.2v1.2h-1.2zM583.1 132.8h1.2v1.2h-1.2zM567.9 128.8h1.2v1.2h-1.2zM578.6 133.3h1.2v1.2h-1.2zM570.1 130.1h1.2v1.2h-1.2zM564.0 128.0h1.2v1.2h-1.2zM571.3 130.6h1.2v1.2h-1.2zM578.8 131.8h1.2v1.2h-1.2zM570.4 130.6h1.2v1.2h-1.2zM591.4 135.9h1.2v1.2h-1.2zM562.2 126.6h1.2v1.2h-1.2zM563.7 128.2h1.2v1.2h-1.2zM573.7 131.9h1.2v1.2h-1.2zM575.0 133.9h1.2v1.2h-1.2zM580.7 132.7h1.2v1.2h-1.2zM586.7 136.8h1.2v1.2h-1.2zM585.9 134.2h1.2v1.2h-1.2zM586.1 135.7h1.2v1.2h-1.2zM573.5 132.9h1.2v1.2h-1.2zM590.3 135.3h1.2v1.2h-1.2zM585.6 134.5h1.2v1.2h-1.2zM580.1 136.5h1.2v1.2h-1.2zM572.3 134.8h1.2v1.2h-1.2zM589.7 135.9h1.2v1.2h-1.2zM573.0 134.9h1.2v1.2h-1.2zM578.8 134.7h1.2v1.2h-1.2zM573.2 133.6h1.2v1.2h-1.2zM589.4 133.0h1.2v1.2h-1.2zM583.8 136.0h1.2v1.2h-1.2zM579.1 135.6h1.2v1.2h-1.2zM584.8 135.4h1.2v1.2h-1.2zM582.0 137.0h1.2v1.2h-1.2zM590.9 135.7h1.2v1.2h-1.2zM572.8 132.5h1.2v1.2h-1.2zM577.0 133.2h1.2v1.2h-1.2zM577.2 132.4h1.2v1.2h-1.2zM573.9 134.6h1.2v1.2h-1.2zM601.0 149.1h1.2v1.2h-1.2zM601.1 142.4h1.2v1.2h-1.2zM594.3 140.5h1.2v1.2h-1.2zM601.7 171.2h1.2v1.2h-1.2zM598.5 142.5h1.2v1.2h-1.2zM600.3 142.8h1.2v1.2h-1.2zM598.8 149.5h1.2v1.2h-1.2zM601.8 147.9h1.2v1.2h-1.2zM613.6 182.4h1.2v1.2h-1.2zM605.3 166.4h1.2v1.2h-1.2zM600.9 138.6h1.2v1.2h-1.2zM603.8 142.4h1.2v1.2h-1.2zM605.5 139.0h1.2v1.2h-1.2zM604.4 156.2h1.2v1.2h-1.2zM610.4 180.6h1.2v1.2h-1.2zM603.4 145.4h1.2v1.2h-1.2zM610.7 177.8h1.2v1.2h-1.2zM620.4 177.9h1.2v1.2h-1.2zM593.8 152.6h1.2v1.2h-1.2zM601.5 158.0h1.2v1.2h-1.2zM596.8 141.0h1.2v1.2h-1.2zM603.2 170.6h1.2v1.2h-1.2zM598.5 162.9h1.2v1.2h-1.2zM608.3 176.3h1.2v1.2h-1.2zM610.4 176.7h1.2v1.2h-1.2zM611.3 177.8h1.2v1.2h-1.2zM600.4 150.2h1.2v1.2h-1.2zM603.6 181.5h1.2v1.2h-1.2zM609.0 143.0h1.2v1.2h-1.2zM613.0 171.9h1.2v1.2h-1.2zM577.0 231.3h1.2v1.2h-1.2zM574.1 233.3h1.2v1.2h-1.2zM571.7 238.0h1.2v1.2h-1.2zM577.2 224.7h1.2v1.2h-1.2zM583.1 235.3h1.2v1.2h-1.2zM560.9 241.6h1.2v1.2h-1.2zM552.2 246.4h1.2v1.2h-1.2zM577.0 229.0h1.2v1.2h-1.2zM569.5 242.7h1.2v1.2h-1.2zM572.9 228.1h1.2v1.2h-1.2zM563.3 243.0h1.2v1.2h-1.2zM576.7 226.6h1.2v1.2h-1.2zM581.9 223.2h1.2v1.2h-1.2zM596.4 210.9h1.2v1.2h-1.2zM550.3 246.6h1.2v1.2h-1.2zM579.0 231.9h1.2v1.2h-1.2zM558.0 241.3h1.2v1.2h-1.2zM577.7 219.4h1.2v1.2h-1.2zM574.1 219.6h1.2v1.2h-1.2zM576.1 236.2h1.2v1.2h-1.2zM577.3 222.1h1.2v1.2h-1.2zM591.2 214.0h1.2v1.2h-1.2zM587.1 211.2h1.2v1.2h-1.2zM575.8 228.9h1.2v1.2h-1.2zM564.4 241.5h1.2v1.2h-1.2zM629.7 156.7h1.2v1.2h-1.2zM579.2 165.5h1.2v1.2h-1.2zM548.1 176.1h1.2v1.2h-1.2zM616.1 148.0h1.2v1.2h-1.2zM617.1 152.8h1.2v1.2h-1.2zM587.0 147.0h1.2v1.2h-1.2zM602.5 220.8h1.2v1.2h-1.2zM618.0 169.4h1.2v1.2h-1.2zM617.1 175.2h1.2v1.2h-1.2zM620.0 176.1h1.2v1.2h-1.2zM615.1 173.2h1.2v1.2h-1.2zM613.2 168.4h1.2v1.2h-1.2zM596.7 181.0h1.2v1.2h-1.2zM587.0 202.4h1.2v1.2h-1.2zM587.9 205.3h1.2v1.2h-1.2zM586.0 209.2h1.2v1.2h-1.2zM581.1 213.0h1.2v1.2h-1.2zM544.4 244.4h1.2v1.2h-1.2zM557.4 245.4h1.2v1.2h-1.2z" fill="#000"/>
<rect x="596.5" y="50.4" width="76.4" height="32.6" fill="#fff" stroke="#000" stroke-width="1.3"/>
<text x="634.7" y="73.45" font-size="14.5" text-anchor="middle" >–50 Km</text>
<line x1="530.5" y1="50.4" x2="530.5" y2="41.2" stroke="#000" stroke-width="1.1"/>
<line x1="530.5" y1="354.9" x2="530.5" y2="364.4" stroke="#000" stroke-width="1.1"/>
<line x1="539.4" y1="50.4" x2="539.4" y2="45.6" stroke="#000" stroke-width="1.1"/>
<line x1="539.4" y1="354.9" x2="539.4" y2="360.1" stroke="#000" stroke-width="1.1"/>
<line x1="548.3" y1="50.4" x2="548.3" y2="45.6" stroke="#000" stroke-width="1.1"/>
<line x1="548.3" y1="354.9" x2="548.3" y2="360.1" stroke="#000" stroke-width="1.1"/>
<line x1="557.2" y1="50.4" x2="557.2" y2="45.6" stroke="#000" stroke-width="1.1"/>
<line x1="557.2" y1="354.9" x2="557.2" y2="360.1" stroke="#000" stroke-width="1.1"/>
<line x1="566.1" y1="50.4" x2="566.1" y2="41.2" stroke="#000" stroke-width="1.1"/>
<line x1="566.1" y1="354.9" x2="566.1" y2="364.4" stroke="#000" stroke-width="1.1"/>
<line x1="575" y1="50.4" x2="575" y2="45.6" stroke="#000" stroke-width="1.1"/>
<line x1="575" y1="354.9" x2="575" y2="360.1" stroke="#000" stroke-width="1.1"/>
<line x1="583.9" y1="50.4" x2="583.9" y2="45.6" stroke="#000" stroke-width="1.1"/>
<line x1="583.9" y1="354.9" x2="583.9" y2="360.1" stroke="#000" stroke-width="1.1"/>
<line x1="592.8" y1="50.4" x2="592.8" y2="45.6" stroke="#000" stroke-width="1.1"/>
<line x1="592.8" y1="354.9" x2="592.8" y2="360.1" stroke="#000" stroke-width="1.1"/>
<line x1="601.7" y1="50.4" x2="601.7" y2="41.2" stroke="#000" stroke-width="1.1"/>
<line x1="601.7" y1="354.9" x2="601.7" y2="364.4" stroke="#000" stroke-width="1.1"/>
<line x1="610.6" y1="50.4" x2="610.6" y2="45.6" stroke="#000" stroke-width="1.1"/>
<line x1="610.6" y1="354.9" x2="610.6" y2="360.1" stroke="#000" stroke-width="1.1"/>
<line x1="619.5" y1="50.4" x2="619.5" y2="45.6" stroke="#000" stroke-width="1.1"/>
<line x1="619.5" y1="354.9" x2="619.5" y2="360.1" stroke="#000" stroke-width="1.1"/>
<line x1="628.4" y1="50.4" x2="628.4" y2="45.6" stroke="#000" stroke-width="1.1"/>
<line x1="628.4" y1="354.9" x2="628.4" y2="360.1" stroke="#000" stroke-width="1.1"/>
<line x1="637.3" y1="50.4" x2="637.3" y2="41.2" stroke="#000" stroke-width="1.1"/>
<line x1="637.3" y1="354.9" x2="637.3" y2="364.4" stroke="#000" stroke-width="1.1"/>
<line x1="646.2" y1="50.4" x2="646.2" y2="45.6" stroke="#000" stroke-width="1.1"/>
<line x1="646.2" y1="354.9" x2="646.2" y2="360.1" stroke="#000" stroke-width="1.1"/>
<line x1="655.1" y1="50.4" x2="655.1" y2="45.6" stroke="#000" stroke-width="1.1"/>
<line x1="655.1" y1="354.9" x2="655.1" y2="360.1" stroke="#000" stroke-width="1.1"/>
<line x1="664" y1="50.4" x2="664" y2="45.6" stroke="#000" stroke-width="1.1"/>
<line x1="664" y1="354.9" x2="664" y2="360.1" stroke="#000" stroke-width="1.1"/>
<line x1="672.9" y1="50.4" x2="672.9" y2="41.2" stroke="#000" stroke-width="1.1"/>
<line x1="672.9" y1="354.9" x2="672.9" y2="364.4" stroke="#000" stroke-width="1.1"/>
<line x1="530.5" y1="50.4" x2="521.3" y2="50.4" stroke="#000" stroke-width="1.1"/>
<line x1="672.9" y1="50.4" x2="682.1" y2="50.4" stroke="#000" stroke-width="1.1"/>
<line x1="530.5" y1="75.77" x2="525.5" y2="75.77" stroke="#000" stroke-width="1.1"/>
<line x1="672.9" y1="75.77" x2="677.9" y2="75.77" stroke="#000" stroke-width="1.1"/>
<line x1="530.5" y1="101.15" x2="521.3" y2="101.15" stroke="#000" stroke-width="1.1"/>
<line x1="672.9" y1="101.15" x2="682.1" y2="101.15" stroke="#000" stroke-width="1.1"/>
<line x1="530.5" y1="126.52" x2="525.5" y2="126.52" stroke="#000" stroke-width="1.1"/>
<line x1="672.9" y1="126.52" x2="677.9" y2="126.52" stroke="#000" stroke-width="1.1"/>
<line x1="530.5" y1="151.9" x2="521.3" y2="151.9" stroke="#000" stroke-width="1.1"/>
<line x1="672.9" y1="151.9" x2="682.1" y2="151.9" stroke="#000" stroke-width="1.1"/>
<line x1="530.5" y1="177.27" x2="525.5" y2="177.27" stroke="#000" stroke-width="1.1"/>
<line x1="672.9" y1="177.27" x2="677.9" y2="177.27" stroke="#000" stroke-width="1.1"/>
<line x1="530.5" y1="202.65" x2="521.3" y2="202.65" stroke="#000" stroke-width="1.1"/>
<line x1="672.9" y1="202.65" x2="682.1" y2="202.65" stroke="#000" stroke-width="1.1"/>
<line x1="530.5" y1="228.02" x2="525.5" y2="228.02" stroke="#000" stroke-width="1.1"/>
<line x1="672.9" y1="228.02" x2="677.9" y2="228.02" stroke="#000" stroke-width="1.1"/>
<line x1="530.5" y1="253.4" x2="521.3" y2="253.4" stroke="#000" stroke-width="1.1"/>
<line x1="672.9" y1="253.4" x2="682.1" y2="253.4" stroke="#000" stroke-width="1.1"/>
<line x1="530.5" y1="278.77" x2="525.5" y2="278.77" stroke="#000" stroke-width="1.1"/>
<line x1="672.9" y1="278.77" x2="677.9" y2="278.77" stroke="#000" stroke-width="1.1"/>
<line x1="530.5" y1="304.15" x2="521.3" y2="304.15" stroke="#000" stroke-width="1.1"/>
<line x1="672.9" y1="304.15" x2="682.1" y2="304.15" stroke="#000" stroke-width="1.1"/>
<line x1="530.5" y1="329.52" x2="525.5" y2="329.52" stroke="#000" stroke-width="1.1"/>
<line x1="672.9" y1="329.52" x2="677.9" y2="329.52" stroke="#000" stroke-width="1.1"/>
<line x1="530.5" y1="354.9" x2="521.3" y2="354.9" stroke="#000" stroke-width="1.1"/>
<line x1="672.9" y1="354.9" x2="682.1" y2="354.9" stroke="#000" stroke-width="1.1"/>
<path d="M529.05 50.4H674.35M529.05 354.9H674.35" stroke="#000" stroke-width="2.2" fill="none"/>
<path d="M530.5 49.3V356M672.9 49.3V356" stroke="#000" stroke-width="2.8" fill="none"/>
<text x="512.6" y="57.3" font-size="17.6" text-anchor="end" >0</text>
<text x="512.6" y="108.05" font-size="17.6" text-anchor="end" >100</text>
<text x="512.6" y="158.8" font-size="17.6" text-anchor="end" >200</text>
<text x="512.6" y="209.55" font-size="17.6" text-anchor="end" >300</text>
<text x="512.6" y="260.3" font-size="17.6" text-anchor="end" >400</text>
<text x="512.6" y="311.05" font-size="17.6" text-anchor="end" >500</text>
<text x="512.6" y="361.8" font-size="17.6" text-anchor="end" >600</text>
<text x="530.5" y="386" font-size="17.6" text-anchor="middle" >0.4</text>
<text x="566.1" y="386" font-size="17.6" text-anchor="middle" >0.8</text>
<text x="601.7" y="386" font-size="17.6" text-anchor="middle" >1.2</text>
<text x="637.3" y="386" font-size="17.6" text-anchor="middle" >1.6</text>
<text x="672.9" y="386" font-size="17.6" text-anchor="middle" >2.0</text>
<line x1="99.3" y1="468.1" x2="99.3" y2="772.6" stroke="#d2d2d2" stroke-width="1.0"/>
<line x1="117.1" y1="468.1" x2="117.1" y2="772.6" stroke="#d2d2d2" stroke-width="1.0"/>
<line x1="134.9" y1="468.1" x2="134.9" y2="772.6" stroke="#d2d2d2" stroke-width="1.0"/>
<line x1="152.7" y1="468.1" x2="152.7" y2="772.6" stroke="#d2d2d2" stroke-width="1.0"/>
<line x1="170.5" y1="468.1" x2="170.5" y2="772.6" stroke="#d2d2d2" stroke-width="1.0"/>
<line x1="188.3" y1="468.1" x2="188.3" y2="772.6" stroke="#d2d2d2" stroke-width="1.0"/>
<line x1="206.1" y1="468.1" x2="206.1" y2="772.6" stroke="#d2d2d2" stroke-width="1.0"/>
<polygon points="135.0,519.0 145.0,519.0 150.0,527.0 160.0,533.0 168.0,537.0 167.9,538.0 163.5,545.0 160.9,549.4 160.0,555.5 160.9,561.7 163.5,564.3 168.4,570.2 178.6,574.6 185.9,580.4 197.6,583.4 202.0,587.7 200.5,591.4 188.8,591.4 177.2,592.1 168.4,593.6 158.2,595.0 153.8,596.5 159.6,599.4 165.5,602.3 168.4,608.2 181.5,612.6 185.9,615.5 183.0,619.9 178.6,622.8 183.0,627.2 194.7,633.0 199.1,637.9 193.8,647.1 183.3,656.3 172.8,662.8 161.0,668.1 154.4,674.7 153.8,682.6 147.8,686.5 133.4,694.4 130.8,695.7 122.9,695.7 122.2,687.8 128.1,685.2 141.3,677.3 145.2,665.5 150.5,661.5 161.0,658.9 170.2,653.7 180.7,644.5 176.8,639.2 174.2,633.0 166.9,628.6 155.3,625.7 153.8,619.9 155.3,615.5 149.4,612.6 143.6,606.7 131.9,600.9 121.7,598.0 118.0,595.0 123.1,592.8 136.3,589.9 148.0,587.0 158.2,584.8 168.4,581.9 165.5,577.5 158.2,573.1 152.3,568.8 148.7,562.9 148.6,549.4 149.5,545.0 145.0,537.0 139.0,531.0" fill="#ffc0cb"/>
<polyline points="145.5,519.5 147.0,525.0 153.9,530.5 161.8,534.0 167.5,538.0" fill="none" stroke="#000" stroke-width="1.6" stroke-linejoin="round" stroke-linecap="round"/>
<polyline points="134.5,519.0 137.0,526.0 140.5,531.5" fill="none" stroke="#000" stroke-width="1.0" stroke-linejoin="round" stroke-linecap="round"/>
<polyline points="199.1,639.2 193.8,645.8 186.0,651.0 176.8,658.9 167.6,665.5 157.0,670.7 153.1,676.0 150.5,679.9" fill="none" stroke="#000" stroke-width="2.2" stroke-linejoin="round" stroke-linecap="round"/>
<polyline points="150.5,660.2 145.2,668.1 143.2,674.7 141.9,679.9" fill="none" stroke="#000" stroke-width="1.4" stroke-linejoin="round" stroke-linecap="round"/>
<polyline points="138.1,520.0 140.8,524.0 144.3,529.3 150.4,532.8 155.7,535.4 160.9,538.0 159.2,538.9 157.4,545.0 155.7,549.4 154.8,555.5 154.8,562.6 156.5,566.1 161.8,569.1 165.5,570.2 174.2,576.1 182.3,581.9 177.2,584.8 172.8,587.7 159.6,591.4 150.9,593.6 143.6,596.5 146.5,599.4 149.4,602.3 153.8,608.2 161.1,612.6 168.4,615.5 169.9,617.7 168.4,619.9 168.4,625.7 174.2,630.1 180.7,635.3 189.9,639.2 191.2,641.8 188.6,645.8 183.3,651.0 175.4,656.3 167.6,660.2 159.7,662.8 153.1,666.8 147.8,672.0 142.6,678.6 141.3,683.9 134.7,687.8 130.8,691.8 130.1,695.7" fill="none" stroke="#e8201c" stroke-width="1.3" stroke-linejoin="round"/>
<path d="M141.2 520.3h1.2v1.2h-1.2zM164.5 537.7h1.2v1.2h-1.2zM139.1 520.4h1.2v1.2h-1.2zM161.5 537.9h1.2v1.2h-1.2zM143.8 533.4h1.2v1.2h-1.2zM158.2 539.1h1.2v1.2h-1.2zM153.9 534.5h1.2v1.2h-1.2zM165.1 539.3h1.2v1.2h-1.2zM163.3 538.9h1.2v1.2h-1.2zM138.7 525.3h1.2v1.2h-1.2zM142.8 531.1h1.2v1.2h-1.2zM145.3 536.4h1.2v1.2h-1.2zM144.1 531.7h1.2v1.2h-1.2zM135.3 523.4h1.2v1.2h-1.2zM159.3 533.1h1.2v1.2h-1.2zM141.3 526.0h1.2v1.2h-1.2zM139.3 529.2h1.2v1.2h-1.2zM166.1 537.1h1.2v1.2h-1.2zM154.4 538.1h1.2v1.2h-1.2zM143.2 522.5h1.2v1.2h-1.2zM134.7 521.9h1.2v1.2h-1.2zM143.1 520.1h1.2v1.2h-1.2zM140.3 519.2h1.2v1.2h-1.2zM135.1 521.9h1.2v1.2h-1.2zM141.4 528.0h1.2v1.2h-1.2zM141.5 522.9h1.2v1.2h-1.2zM138.0 519.0h1.2v1.2h-1.2zM160.2 536.3h1.2v1.2h-1.2zM144.7 534.1h1.2v1.2h-1.2zM160.5 533.8h1.2v1.2h-1.2zM155.5 534.8h1.2v1.2h-1.2zM135.3 521.9h1.2v1.2h-1.2zM154.9 531.9h1.2v1.2h-1.2zM160.8 537.3h1.2v1.2h-1.2zM163.6 537.0h1.2v1.2h-1.2zM149.3 530.9h1.2v1.2h-1.2zM134.1 518.6h1.2v1.2h-1.2zM137.9 526.8h1.2v1.2h-1.2zM141.2 529.9h1.2v1.2h-1.2zM148.0 539.1h1.2v1.2h-1.2zM147.6 537.7h1.2v1.2h-1.2zM139.2 521.4h1.2v1.2h-1.2zM151.7 540.3h1.2v1.2h-1.2zM143.8 531.3h1.2v1.2h-1.2zM149.8 535.6h1.2v1.2h-1.2zM156.3 532.9h1.2v1.2h-1.2zM136.0 521.3h1.2v1.2h-1.2zM144.3 525.2h1.2v1.2h-1.2zM134.0 518.2h1.2v1.2h-1.2zM165.6 538.4h1.2v1.2h-1.2zM160.5 537.9h1.2v1.2h-1.2zM152.8 541.1h1.2v1.2h-1.2zM156.2 536.3h1.2v1.2h-1.2zM154.3 538.5h1.2v1.2h-1.2zM147.0 532.7h1.2v1.2h-1.2zM143.8 523.5h1.2v1.2h-1.2zM144.3 533.4h1.2v1.2h-1.2zM146.8 527.7h1.2v1.2h-1.2zM156.8 533.1h1.2v1.2h-1.2zM136.3 524.1h1.2v1.2h-1.2zM163.6 537.1h1.2v1.2h-1.2zM138.3 523.7h1.2v1.2h-1.2zM136.5 518.5h1.2v1.2h-1.2zM144.0 520.7h1.2v1.2h-1.2zM157.1 536.0h1.2v1.2h-1.2zM155.5 541.5h1.2v1.2h-1.2zM163.2 535.7h1.2v1.2h-1.2zM152.3 535.0h1.2v1.2h-1.2zM135.5 521.9h1.2v1.2h-1.2zM146.5 534.8h1.2v1.2h-1.2zM146.4 528.3h1.2v1.2h-1.2zM138.4 521.6h1.2v1.2h-1.2zM162.1 538.3h1.2v1.2h-1.2zM141.1 531.5h1.2v1.2h-1.2zM149.5 535.7h1.2v1.2h-1.2zM155.3 540.1h1.2v1.2h-1.2zM161.6 540.0h1.2v1.2h-1.2zM163.7 539.8h1.2v1.2h-1.2zM155.6 535.2h1.2v1.2h-1.2zM153.8 530.9h1.2v1.2h-1.2zM150.2 531.3h1.2v1.2h-1.2zM140.0 519.5h1.2v1.2h-1.2zM166.6 538.4h1.2v1.2h-1.2zM158.7 538.1h1.2v1.2h-1.2zM143.4 527.4h1.2v1.2h-1.2zM158.9 539.3h1.2v1.2h-1.2zM160.1 535.3h1.2v1.2h-1.2zM154.6 538.7h1.2v1.2h-1.2zM144.2 533.2h1.2v1.2h-1.2zM141.9 530.5h1.2v1.2h-1.2zM138.9 520.0h1.2v1.2h-1.2zM156.0 540.0h1.2v1.2h-1.2zM144.8 529.1h1.2v1.2h-1.2zM143.3 531.9h1.2v1.2h-1.2zM155.7 540.4h1.2v1.2h-1.2zM139.4 522.9h1.2v1.2h-1.2zM156.0 538.8h1.2v1.2h-1.2zM136.8 522.7h1.2v1.2h-1.2zM151.8 531.2h1.2v1.2h-1.2zM145.6 536.3h1.2v1.2h-1.2zM161.8 536.7h1.2v1.2h-1.2zM140.7 523.7h1.2v1.2h-1.2zM145.6 535.4h1.2v1.2h-1.2zM140.5 518.4h1.2v1.2h-1.2zM146.0 529.3h1.2v1.2h-1.2zM145.3 528.9h1.2v1.2h-1.2zM137.8 518.4h1.2v1.2h-1.2zM159.9 536.0h1.2v1.2h-1.2zM143.3 531.7h1.2v1.2h-1.2zM153.7 532.7h1.2v1.2h-1.2zM148.1 537.7h1.2v1.2h-1.2zM137.9 518.8h1.2v1.2h-1.2zM139.4 524.8h1.2v1.2h-1.2zM145.0 534.6h1.2v1.2h-1.2zM151.8 541.7h1.2v1.2h-1.2zM144.6 531.1h1.2v1.2h-1.2zM157.4 532.6h1.2v1.2h-1.2zM165.3 537.3h1.2v1.2h-1.2zM153.8 531.3h1.2v1.2h-1.2zM142.2 519.1h1.2v1.2h-1.2zM149.4 539.3h1.2v1.2h-1.2zM140.3 529.5h1.2v1.2h-1.2zM143.0 528.1h1.2v1.2h-1.2zM162.3 538.8h1.2v1.2h-1.2zM156.0 533.5h1.2v1.2h-1.2zM150.6 531.4h1.2v1.2h-1.2zM144.3 526.2h1.2v1.2h-1.2zM142.6 532.4h1.2v1.2h-1.2zM143.6 526.7h1.2v1.2h-1.2zM149.7 534.0h1.2v1.2h-1.2zM151.8 532.2h1.2v1.2h-1.2zM143.6 525.6h1.2v1.2h-1.2zM143.4 525.6h1.2v1.2h-1.2zM140.3 529.8h1.2v1.2h-1.2zM143.2 526.9h1.2v1.2h-1.2zM162.6 537.6h1.2v1.2h-1.2zM139.2 520.1h1.2v1.2h-1.2zM148.3 536.0h1.2v1.2h-1.2zM143.1 519.9h1.2v1.2h-1.2zM135.1 517.8h1.2v1.2h-1.2zM145.1 534.8h1.2v1.2h-1.2zM148.0 536.0h1.2v1.2h-1.2zM158.4 536.6h1.2v1.2h-1.2zM156.0 539.9h1.2v1.2h-1.2zM161.5 535.5h1.2v1.2h-1.2zM148.0 535.6h1.2v1.2h-1.2zM154.4 540.8h1.2v1.2h-1.2zM142.9 526.1h1.2v1.2h-1.2zM154.7 534.5h1.2v1.2h-1.2zM141.3 522.3h1.2v1.2h-1.2zM149.5 539.6h1.2v1.2h-1.2zM145.3 528.2h1.2v1.2h-1.2zM138.0 526.7h1.2v1.2h-1.2zM152.4 534.2h1.2v1.2h-1.2zM166.5 537.0h1.2v1.2h-1.2zM164.9 536.2h1.2v1.2h-1.2zM145.1 530.4h1.2v1.2h-1.2zM159.0 537.4h1.2v1.2h-1.2zM163.9 536.3h1.2v1.2h-1.2zM161.1 538.7h1.2v1.2h-1.2zM155.8 531.3h1.2v1.2h-1.2zM143.9 521.2h1.2v1.2h-1.2zM157.9 533.2h1.2v1.2h-1.2zM144.9 520.4h1.2v1.2h-1.2zM145.6 520.4h1.2v1.2h-1.2zM148.3 525.1h1.2v1.2h-1.2zM149.0 526.9h1.2v1.2h-1.2zM160.3 532.3h1.2v1.2h-1.2zM158.1 532.2h1.2v1.2h-1.2zM146.2 521.1h1.2v1.2h-1.2zM160.3 532.1h1.2v1.2h-1.2zM146.8 525.7h1.2v1.2h-1.2zM152.8 528.8h1.2v1.2h-1.2zM159.0 530.7h1.2v1.2h-1.2zM160.7 531.8h1.2v1.2h-1.2zM153.0 527.3h1.2v1.2h-1.2zM146.1 522.4h1.2v1.2h-1.2zM153.5 528.7h1.2v1.2h-1.2zM162.5 535.7h1.2v1.2h-1.2zM147.3 525.0h1.2v1.2h-1.2zM143.9 519.7h1.2v1.2h-1.2zM163.5 537.1h1.2v1.2h-1.2zM163.2 535.3h1.2v1.2h-1.2zM166.8 536.0h1.2v1.2h-1.2zM149.7 527.9h1.2v1.2h-1.2zM157.7 533.0h1.2v1.2h-1.2zM155.7 530.9h1.2v1.2h-1.2zM145.1 521.3h1.2v1.2h-1.2zM154.3 532.0h1.2v1.2h-1.2zM161.9 534.7h1.2v1.2h-1.2zM155.8 532.9h1.2v1.2h-1.2zM143.9 519.7h1.2v1.2h-1.2zM144.1 523.7h1.2v1.2h-1.2zM149.9 526.8h1.2v1.2h-1.2zM166.9 536.9h1.2v1.2h-1.2zM161.0 533.5h1.2v1.2h-1.2zM146.8 523.9h1.2v1.2h-1.2zM155.0 530.8h1.2v1.2h-1.2zM148.7 527.6h1.2v1.2h-1.2zM151.5 530.8h1.2v1.2h-1.2zM159.1 531.0h1.2v1.2h-1.2zM153.3 530.3h1.2v1.2h-1.2zM158.1 530.3h1.2v1.2h-1.2zM163.8 536.0h1.2v1.2h-1.2zM166.9 537.2h1.2v1.2h-1.2zM153.9 530.0h1.2v1.2h-1.2zM145.5 523.5h1.2v1.2h-1.2zM151.4 528.7h1.2v1.2h-1.2zM156.8 532.0h1.2v1.2h-1.2zM152.6 529.1h1.2v1.2h-1.2zM146.9 526.4h1.2v1.2h-1.2zM145.0 519.7h1.2v1.2h-1.2zM164.9 536.9h1.2v1.2h-1.2zM144.4 519.9h1.2v1.2h-1.2zM161.4 533.1h1.2v1.2h-1.2zM145.2 519.6h1.2v1.2h-1.2zM150.2 528.5h1.2v1.2h-1.2zM155.5 531.3h1.2v1.2h-1.2zM154.8 529.6h1.2v1.2h-1.2zM160.8 532.4h1.2v1.2h-1.2zM150.6 527.3h1.2v1.2h-1.2zM162.0 534.3h1.2v1.2h-1.2zM154.2 530.0h1.2v1.2h-1.2zM158.7 532.0h1.2v1.2h-1.2zM158.5 533.7h1.2v1.2h-1.2zM167.4 537.0h1.2v1.2h-1.2zM156.0 529.9h1.2v1.2h-1.2zM145.8 520.4h1.2v1.2h-1.2zM162.4 533.0h1.2v1.2h-1.2zM165.8 534.6h1.2v1.2h-1.2zM157.4 533.1h1.2v1.2h-1.2zM160.3 532.5h1.2v1.2h-1.2zM144.7 520.1h1.2v1.2h-1.2zM152.3 528.5h1.2v1.2h-1.2zM152.0 529.2h1.2v1.2h-1.2zM157.4 532.0h1.2v1.2h-1.2zM148.9 525.8h1.2v1.2h-1.2zM151.3 527.2h1.2v1.2h-1.2zM152.9 528.9h1.2v1.2h-1.2zM162.4 534.8h1.2v1.2h-1.2zM138.0 529.4h1.2v1.2h-1.2zM138.3 530.5h1.2v1.2h-1.2zM148.8 539.0h1.2v1.2h-1.2zM143.8 534.0h1.2v1.2h-1.2zM137.2 528.9h1.2v1.2h-1.2zM137.3 528.9h1.2v1.2h-1.2zM139.1 528.3h1.2v1.2h-1.2zM135.2 524.1h1.2v1.2h-1.2zM153.1 541.9h1.2v1.2h-1.2zM139.2 530.1h1.2v1.2h-1.2zM141.3 534.8h1.2v1.2h-1.2zM150.3 539.0h1.2v1.2h-1.2zM149.6 542.1h1.2v1.2h-1.2zM136.9 524.8h1.2v1.2h-1.2zM135.5 524.1h1.2v1.2h-1.2zM134.7 523.2h1.2v1.2h-1.2zM152.1 541.7h1.2v1.2h-1.2zM140.8 531.9h1.2v1.2h-1.2zM137.6 529.4h1.2v1.2h-1.2zM141.2 533.4h1.2v1.2h-1.2zM142.9 534.4h1.2v1.2h-1.2zM142.7 536.2h1.2v1.2h-1.2zM134.5 522.1h1.2v1.2h-1.2zM144.5 533.8h1.2v1.2h-1.2zM143.2 533.3h1.2v1.2h-1.2zM151.0 542.7h1.2v1.2h-1.2zM135.8 522.3h1.2v1.2h-1.2zM142.0 534.3h1.2v1.2h-1.2zM134.4 521.4h1.2v1.2h-1.2zM146.9 535.5h1.2v1.2h-1.2zM150.2 539.8h1.2v1.2h-1.2zM135.9 527.4h1.2v1.2h-1.2zM146.3 537.4h1.2v1.2h-1.2zM134.5 519.0h1.2v1.2h-1.2zM135.2 521.4h1.2v1.2h-1.2zM153.3 542.7h1.2v1.2h-1.2zM150.2 541.0h1.2v1.2h-1.2zM137.3 527.3h1.2v1.2h-1.2zM136.4 522.2h1.2v1.2h-1.2zM149.9 540.9h1.2v1.2h-1.2zM144.5 535.4h1.2v1.2h-1.2zM151.3 541.0h1.2v1.2h-1.2zM147.6 540.1h1.2v1.2h-1.2zM145.4 535.6h1.2v1.2h-1.2zM149.1 540.5h1.2v1.2h-1.2zM133.6 520.8h1.2v1.2h-1.2zM142.8 532.4h1.2v1.2h-1.2zM140.9 533.3h1.2v1.2h-1.2zM142.1 534.1h1.2v1.2h-1.2zM148.2 540.7h1.2v1.2h-1.2zM137.6 526.2h1.2v1.2h-1.2zM138.0 531.3h1.2v1.2h-1.2zM146.1 537.6h1.2v1.2h-1.2zM145.8 537.4h1.2v1.2h-1.2zM134.8 520.6h1.2v1.2h-1.2zM148.9 538.9h1.2v1.2h-1.2zM134.8 522.4h1.2v1.2h-1.2zM135.7 524.9h1.2v1.2h-1.2zM148.0 538.8h1.2v1.2h-1.2zM146.6 538.1h1.2v1.2h-1.2zM157.6 568.6h1.2v1.2h-1.2zM171.1 572.1h1.2v1.2h-1.2zM150.3 561.2h1.2v1.2h-1.2zM159.9 575.9h1.2v1.2h-1.2zM149.1 548.4h1.2v1.2h-1.2zM155.5 571.0h1.2v1.2h-1.2zM152.2 557.9h1.2v1.2h-1.2zM146.5 552.4h1.2v1.2h-1.2zM149.3 552.4h1.2v1.2h-1.2zM163.9 575.3h1.2v1.2h-1.2zM155.2 553.6h1.2v1.2h-1.2zM150.8 548.2h1.2v1.2h-1.2zM153.0 564.1h1.2v1.2h-1.2zM156.0 570.5h1.2v1.2h-1.2zM160.3 573.1h1.2v1.2h-1.2zM169.3 571.3h1.2v1.2h-1.2zM155.8 563.4h1.2v1.2h-1.2zM155.5 562.5h1.2v1.2h-1.2zM173.7 565.2h1.2v1.2h-1.2zM167.1 573.6h1.2v1.2h-1.2zM156.7 571.1h1.2v1.2h-1.2zM159.7 553.7h1.2v1.2h-1.2zM160.3 564.3h1.2v1.2h-1.2zM162.3 554.2h1.2v1.2h-1.2zM154.0 556.5h1.2v1.2h-1.2zM165.2 571.3h1.2v1.2h-1.2zM155.4 551.2h1.2v1.2h-1.2zM151.7 564.9h1.2v1.2h-1.2zM154.9 549.1h1.2v1.2h-1.2zM157.7 559.0h1.2v1.2h-1.2zM171.4 570.8h1.2v1.2h-1.2zM167.4 575.0h1.2v1.2h-1.2zM153.6 557.8h1.2v1.2h-1.2zM162.0 564.3h1.2v1.2h-1.2zM172.3 573.6h1.2v1.2h-1.2zM155.3 567.0h1.2v1.2h-1.2zM160.1 569.7h1.2v1.2h-1.2zM157.9 567.9h1.2v1.2h-1.2zM150.2 551.2h1.2v1.2h-1.2zM154.0 555.7h1.2v1.2h-1.2zM159.0 565.8h1.2v1.2h-1.2zM169.8 571.3h1.2v1.2h-1.2zM155.8 547.1h1.2v1.2h-1.2zM165.1 571.4h1.2v1.2h-1.2zM157.1 546.1h1.2v1.2h-1.2zM168.9 570.8h1.2v1.2h-1.2zM148.8 562.1h1.2v1.2h-1.2zM173.1 576.3h1.2v1.2h-1.2zM170.9 572.2h1.2v1.2h-1.2zM158.6 563.8h1.2v1.2h-1.2zM149.8 596.3h1.2v1.2h-1.2zM164.1 590.3h1.2v1.2h-1.2zM178.5 580.9h1.2v1.2h-1.2zM154.9 587.9h1.2v1.2h-1.2zM168.4 586.5h1.2v1.2h-1.2zM149.2 592.1h1.2v1.2h-1.2zM155.7 590.6h1.2v1.2h-1.2zM183.1 586.1h1.2v1.2h-1.2zM148.3 593.0h1.2v1.2h-1.2zM170.1 587.5h1.2v1.2h-1.2zM156.7 591.9h1.2v1.2h-1.2zM171.3 587.0h1.2v1.2h-1.2zM147.4 596.6h1.2v1.2h-1.2zM168.9 587.5h1.2v1.2h-1.2zM173.8 588.2h1.2v1.2h-1.2zM152.2 587.7h1.2v1.2h-1.2zM156.6 588.8h1.2v1.2h-1.2zM166.9 589.3h1.2v1.2h-1.2zM144.2 591.8h1.2v1.2h-1.2zM156.6 592.7h1.2v1.2h-1.2zM158.4 588.0h1.2v1.2h-1.2zM173.7 584.1h1.2v1.2h-1.2zM142.4 593.2h1.2v1.2h-1.2zM167.1 587.9h1.2v1.2h-1.2zM151.1 593.9h1.2v1.2h-1.2zM154.5 596.1h1.2v1.2h-1.2zM155.3 593.4h1.2v1.2h-1.2zM167.2 590.8h1.2v1.2h-1.2zM145.4 593.7h1.2v1.2h-1.2zM156.2 595.4h1.2v1.2h-1.2zM173.8 584.0h1.2v1.2h-1.2zM158.2 590.1h1.2v1.2h-1.2zM131.2 593.7h1.2v1.2h-1.2zM180.4 584.0h1.2v1.2h-1.2zM172.7 587.6h1.2v1.2h-1.2zM164.6 588.3h1.2v1.2h-1.2zM171.6 588.2h1.2v1.2h-1.2zM156.3 590.0h1.2v1.2h-1.2zM152.7 590.4h1.2v1.2h-1.2zM174.5 591.6h1.2v1.2h-1.2zM155.6 589.4h1.2v1.2h-1.2zM154.0 593.2h1.2v1.2h-1.2zM139.2 595.4h1.2v1.2h-1.2zM150.0 591.9h1.2v1.2h-1.2zM183.4 579.1h1.2v1.2h-1.2zM165.6 633.4h1.2v1.2h-1.2zM172.4 632.0h1.2v1.2h-1.2zM137.8 594.2h1.2v1.2h-1.2zM166.3 626.6h1.2v1.2h-1.2zM157.2 601.7h1.2v1.2h-1.2zM163.1 627.0h1.2v1.2h-1.2zM187.3 631.0h1.2v1.2h-1.2zM172.2 618.8h1.2v1.2h-1.2zM158.2 605.6h1.2v1.2h-1.2zM167.8 623.7h1.2v1.2h-1.2zM149.8 595.8h1.2v1.2h-1.2zM161.9 619.0h1.2v1.2h-1.2zM153.5 607.1h1.2v1.2h-1.2zM164.3 613.1h1.2v1.2h-1.2zM175.5 635.1h1.2v1.2h-1.2zM138.6 599.1h1.2v1.2h-1.2zM178.9 633.9h1.2v1.2h-1.2zM180.6 628.4h1.2v1.2h-1.2zM171.6 612.4h1.2v1.2h-1.2zM158.3 613.6h1.2v1.2h-1.2zM152.1 608.6h1.2v1.2h-1.2zM165.8 608.2h1.2v1.2h-1.2zM139.6 604.9h1.2v1.2h-1.2zM176.4 634.5h1.2v1.2h-1.2zM170.1 632.4h1.2v1.2h-1.2zM176.6 634.0h1.2v1.2h-1.2zM175.3 617.6h1.2v1.2h-1.2zM159.1 618.1h1.2v1.2h-1.2zM157.3 618.9h1.2v1.2h-1.2zM151.2 603.7h1.2v1.2h-1.2zM160.2 600.4h1.2v1.2h-1.2zM165.5 633.9h1.2v1.2h-1.2zM178.5 627.5h1.2v1.2h-1.2zM173.6 622.4h1.2v1.2h-1.2zM144.7 606.7h1.2v1.2h-1.2zM175.2 638.5h1.2v1.2h-1.2zM150.5 600.2h1.2v1.2h-1.2zM166.9 615.3h1.2v1.2h-1.2zM166.2 614.9h1.2v1.2h-1.2zM142.9 598.6h1.2v1.2h-1.2zM150.6 606.7h1.2v1.2h-1.2zM161.3 614.1h1.2v1.2h-1.2zM146.6 603.8h1.2v1.2h-1.2zM153.7 600.9h1.2v1.2h-1.2zM165.2 609.5h1.2v1.2h-1.2zM144.2 602.6h1.2v1.2h-1.2zM173.5 628.1h1.2v1.2h-1.2zM145.1 599.0h1.2v1.2h-1.2zM152.0 609.1h1.2v1.2h-1.2zM149.8 610.9h1.2v1.2h-1.2zM166.9 617.9h1.2v1.2h-1.2zM156.8 612.6h1.2v1.2h-1.2zM165.2 607.7h1.2v1.2h-1.2zM183.9 623.5h1.2v1.2h-1.2zM154.8 599.4h1.2v1.2h-1.2zM171.2 617.9h1.2v1.2h-1.2zM158.2 632.6h1.2v1.2h-1.2zM169.2 631.9h1.2v1.2h-1.2zM157.6 616.2h1.2v1.2h-1.2zM176.0 636.4h1.2v1.2h-1.2zM162.9 612.1h1.2v1.2h-1.2zM150.1 602.1h1.2v1.2h-1.2zM175.7 617.0h1.2v1.2h-1.2zM180.1 637.0h1.2v1.2h-1.2zM152.7 603.9h1.2v1.2h-1.2zM167.1 625.1h1.2v1.2h-1.2zM150.9 599.6h1.2v1.2h-1.2zM171.0 615.2h1.2v1.2h-1.2zM168.0 621.9h1.2v1.2h-1.2zM180.9 629.7h1.2v1.2h-1.2zM149.9 595.9h1.2v1.2h-1.2zM159.7 614.3h1.2v1.2h-1.2zM155.5 611.4h1.2v1.2h-1.2zM148.4 605.4h1.2v1.2h-1.2zM173.1 621.5h1.2v1.2h-1.2zM146.5 613.6h1.2v1.2h-1.2zM161.4 612.7h1.2v1.2h-1.2zM165.5 627.2h1.2v1.2h-1.2zM165.9 615.6h1.2v1.2h-1.2zM152.6 611.4h1.2v1.2h-1.2zM153.8 600.4h1.2v1.2h-1.2zM156.8 610.2h1.2v1.2h-1.2zM150.1 610.8h1.2v1.2h-1.2zM167.5 630.5h1.2v1.2h-1.2zM169.8 615.5h1.2v1.2h-1.2zM167.0 622.2h1.2v1.2h-1.2zM152.2 599.7h1.2v1.2h-1.2zM141.9 604.0h1.2v1.2h-1.2zM162.0 610.8h1.2v1.2h-1.2zM154.3 601.2h1.2v1.2h-1.2zM143.0 609.4h1.2v1.2h-1.2zM147.5 597.5h1.2v1.2h-1.2zM171.2 629.9h1.2v1.2h-1.2zM146.8 610.0h1.2v1.2h-1.2zM172.9 625.6h1.2v1.2h-1.2zM169.6 615.0h1.2v1.2h-1.2zM171.7 631.1h1.2v1.2h-1.2zM152.9 612.8h1.2v1.2h-1.2zM147.6 608.1h1.2v1.2h-1.2zM171.8 617.9h1.2v1.2h-1.2zM146.2 607.1h1.2v1.2h-1.2zM172.3 615.4h1.2v1.2h-1.2zM171.5 625.6h1.2v1.2h-1.2zM168.5 609.3h1.2v1.2h-1.2zM172.2 620.9h1.2v1.2h-1.2zM153.3 612.1h1.2v1.2h-1.2zM149.4 597.2h1.2v1.2h-1.2zM146.3 602.6h1.2v1.2h-1.2zM147.1 600.9h1.2v1.2h-1.2zM171.7 630.8h1.2v1.2h-1.2zM176.3 632.2h1.2v1.2h-1.2zM172.7 625.1h1.2v1.2h-1.2zM160.0 610.9h1.2v1.2h-1.2zM175.3 630.9h1.2v1.2h-1.2zM145.3 597.6h1.2v1.2h-1.2zM174.7 621.6h1.2v1.2h-1.2zM171.1 613.5h1.2v1.2h-1.2zM178.9 627.5h1.2v1.2h-1.2zM141.5 597.4h1.2v1.2h-1.2zM164.9 610.5h1.2v1.2h-1.2zM138.1 595.9h1.2v1.2h-1.2zM155.9 609.8h1.2v1.2h-1.2zM180.2 633.8h1.2v1.2h-1.2zM174.8 618.5h1.2v1.2h-1.2zM145.3 596.3h1.2v1.2h-1.2zM161.3 610.6h1.2v1.2h-1.2zM163.8 628.6h1.2v1.2h-1.2zM159.8 622.6h1.2v1.2h-1.2zM177.0 624.9h1.2v1.2h-1.2zM129.3 596.8h1.2v1.2h-1.2zM167.2 633.9h1.2v1.2h-1.2zM146.7 599.2h1.2v1.2h-1.2zM144.2 600.6h1.2v1.2h-1.2zM183.6 637.0h1.2v1.2h-1.2zM181.1 635.1h1.2v1.2h-1.2zM169.9 623.2h1.2v1.2h-1.2zM172.0 619.4h1.2v1.2h-1.2zM177.5 629.8h1.2v1.2h-1.2zM149.8 596.0h1.2v1.2h-1.2zM155.0 598.5h1.2v1.2h-1.2zM178.6 622.0h1.2v1.2h-1.2zM165.9 623.7h1.2v1.2h-1.2zM171.7 630.8h1.2v1.2h-1.2zM164.2 618.8h1.2v1.2h-1.2zM140.6 607.8h1.2v1.2h-1.2zM160.8 618.3h1.2v1.2h-1.2zM182.2 636.7h1.2v1.2h-1.2zM170.5 630.0h1.2v1.2h-1.2zM148.1 600.8h1.2v1.2h-1.2zM150.6 600.5h1.2v1.2h-1.2zM143.9 610.9h1.2v1.2h-1.2zM136.2 604.5h1.2v1.2h-1.2zM145.1 622.4h1.2v1.2h-1.2zM138.6 611.6h1.2v1.2h-1.2zM148.3 608.4h1.2v1.2h-1.2zM130.8 597.7h1.2v1.2h-1.2zM145.9 614.9h1.2v1.2h-1.2zM146.9 624.4h1.2v1.2h-1.2zM153.2 627.8h1.2v1.2h-1.2zM136.5 598.5h1.2v1.2h-1.2zM148.3 618.5h1.2v1.2h-1.2zM147.7 608.0h1.2v1.2h-1.2zM147.0 623.9h1.2v1.2h-1.2zM146.9 622.4h1.2v1.2h-1.2zM146.6 613.1h1.2v1.2h-1.2zM143.5 616.3h1.2v1.2h-1.2zM140.4 599.9h1.2v1.2h-1.2zM140.3 619.2h1.2v1.2h-1.2zM155.4 626.3h1.2v1.2h-1.2zM154.9 617.2h1.2v1.2h-1.2zM149.3 620.7h1.2v1.2h-1.2zM148.1 623.0h1.2v1.2h-1.2zM155.8 614.8h1.2v1.2h-1.2zM149.3 627.7h1.2v1.2h-1.2zM140.6 621.9h1.2v1.2h-1.2zM143.1 599.1h1.2v1.2h-1.2zM154.7 609.2h1.2v1.2h-1.2zM146.1 608.5h1.2v1.2h-1.2zM149.4 607.5h1.2v1.2h-1.2zM152.2 621.8h1.2v1.2h-1.2zM153.4 610.3h1.2v1.2h-1.2zM141.3 608.4h1.2v1.2h-1.2zM146.0 619.4h1.2v1.2h-1.2zM143.0 598.9h1.2v1.2h-1.2zM144.9 607.2h1.2v1.2h-1.2zM139.7 597.9h1.2v1.2h-1.2zM139.5 598.2h1.2v1.2h-1.2zM136.9 603.8h1.2v1.2h-1.2zM153.1 626.9h1.2v1.2h-1.2zM153.7 626.0h1.2v1.2h-1.2zM175.8 660.2h1.2v1.2h-1.2zM189.1 648.2h1.2v1.2h-1.2zM169.6 662.4h1.2v1.2h-1.2zM159.8 667.7h1.2v1.2h-1.2zM172.3 660.7h1.2v1.2h-1.2zM188.2 648.0h1.2v1.2h-1.2zM179.1 655.1h1.2v1.2h-1.2zM179.0 655.0h1.2v1.2h-1.2zM181.3 651.5h1.2v1.2h-1.2zM174.2 659.4h1.2v1.2h-1.2zM195.2 643.4h1.2v1.2h-1.2zM191.9 644.8h1.2v1.2h-1.2zM198.2 639.2h1.2v1.2h-1.2zM178.2 657.6h1.2v1.2h-1.2zM196.5 641.1h1.2v1.2h-1.2zM179.7 655.4h1.2v1.2h-1.2zM189.2 649.0h1.2v1.2h-1.2zM151.7 674.0h1.2v1.2h-1.2zM187.3 649.3h1.2v1.2h-1.2zM172.6 659.6h1.2v1.2h-1.2zM151.9 675.2h1.2v1.2h-1.2zM194.0 643.9h1.2v1.2h-1.2zM180.4 653.8h1.2v1.2h-1.2zM148.9 679.2h1.2v1.2h-1.2zM193.6 643.4h1.2v1.2h-1.2zM160.4 666.0h1.2v1.2h-1.2zM175.2 658.9h1.2v1.2h-1.2zM160.4 668.9h1.2v1.2h-1.2zM165.1 665.3h1.2v1.2h-1.2zM167.1 667.4h1.2v1.2h-1.2zM151.5 679.0h1.2v1.2h-1.2zM179.6 653.0h1.2v1.2h-1.2zM187.5 647.8h1.2v1.2h-1.2zM182.4 655.3h1.2v1.2h-1.2zM180.9 652.5h1.2v1.2h-1.2zM154.5 670.7h1.2v1.2h-1.2zM152.7 675.2h1.2v1.2h-1.2zM155.4 671.9h1.2v1.2h-1.2zM185.5 648.4h1.2v1.2h-1.2zM196.3 639.8h1.2v1.2h-1.2zM177.2 658.3h1.2v1.2h-1.2zM188.8 647.7h1.2v1.2h-1.2zM186.3 647.9h1.2v1.2h-1.2zM187.6 649.1h1.2v1.2h-1.2zM195.0 642.4h1.2v1.2h-1.2zM188.8 646.7h1.2v1.2h-1.2zM150.1 677.0h1.2v1.2h-1.2zM154.6 674.1h1.2v1.2h-1.2zM151.9 672.7h1.2v1.2h-1.2zM196.1 641.2h1.2v1.2h-1.2zM182.5 653.0h1.2v1.2h-1.2zM154.6 669.9h1.2v1.2h-1.2zM187.6 647.7h1.2v1.2h-1.2zM155.5 670.1h1.2v1.2h-1.2zM178.8 654.0h1.2v1.2h-1.2zM188.8 650.1h1.2v1.2h-1.2zM192.6 642.9h1.2v1.2h-1.2zM192.7 648.2h1.2v1.2h-1.2zM156.2 668.4h1.2v1.2h-1.2zM154.6 669.9h1.2v1.2h-1.2zM150.8 675.5h1.2v1.2h-1.2zM197.1 642.4h1.2v1.2h-1.2zM161.5 669.4h1.2v1.2h-1.2zM155.3 674.8h1.2v1.2h-1.2zM162.5 668.1h1.2v1.2h-1.2zM188.1 647.9h1.2v1.2h-1.2zM177.4 656.3h1.2v1.2h-1.2zM163.3 666.1h1.2v1.2h-1.2zM170.6 659.1h1.2v1.2h-1.2zM184.6 652.1h1.2v1.2h-1.2zM186.1 649.4h1.2v1.2h-1.2zM190.3 647.1h1.2v1.2h-1.2zM180.9 654.5h1.2v1.2h-1.2zM168.9 661.5h1.2v1.2h-1.2zM150.4 677.3h1.2v1.2h-1.2zM162.6 668.3h1.2v1.2h-1.2zM196.5 642.1h1.2v1.2h-1.2zM169.3 663.2h1.2v1.2h-1.2zM151.1 677.6h1.2v1.2h-1.2zM197.2 640.2h1.2v1.2h-1.2zM180.7 653.0h1.2v1.2h-1.2zM190.1 648.6h1.2v1.2h-1.2zM168.2 664.9h1.2v1.2h-1.2zM195.5 640.9h1.2v1.2h-1.2zM163.4 665.3h1.2v1.2h-1.2zM173.7 660.2h1.2v1.2h-1.2zM194.0 641.7h1.2v1.2h-1.2zM149.4 676.1h1.2v1.2h-1.2zM194.0 642.4h1.2v1.2h-1.2zM170.9 662.0h1.2v1.2h-1.2zM167.5 663.5h1.2v1.2h-1.2zM194.3 643.7h1.2v1.2h-1.2zM163.0 666.6h1.2v1.2h-1.2zM197.6 640.5h1.2v1.2h-1.2zM157.6 670.9h1.2v1.2h-1.2zM172.7 662.7h1.2v1.2h-1.2zM185.8 649.4h1.2v1.2h-1.2zM162.3 665.6h1.2v1.2h-1.2zM166.9 664.9h1.2v1.2h-1.2zM193.6 643.9h1.2v1.2h-1.2zM173.9 658.7h1.2v1.2h-1.2zM184.6 651.8h1.2v1.2h-1.2zM175.1 659.3h1.2v1.2h-1.2zM157.5 668.3h1.2v1.2h-1.2zM168.0 661.6h1.2v1.2h-1.2zM194.9 641.1h1.2v1.2h-1.2zM186.0 650.0h1.2v1.2h-1.2zM165.9 663.7h1.2v1.2h-1.2zM192.0 645.1h1.2v1.2h-1.2zM159.6 669.3h1.2v1.2h-1.2zM155.3 673.1h1.2v1.2h-1.2zM166.4 668.1h1.2v1.2h-1.2zM183.1 651.3h1.2v1.2h-1.2zM170.9 663.8h1.2v1.2h-1.2zM172.8 661.7h1.2v1.2h-1.2zM195.7 641.0h1.2v1.2h-1.2zM172.1 659.4h1.2v1.2h-1.2zM185.9 648.3h1.2v1.2h-1.2zM171.5 661.8h1.2v1.2h-1.2zM184.0 650.4h1.2v1.2h-1.2zM143.8 673.0h1.2v1.2h-1.2zM147.4 660.0h1.2v1.2h-1.2zM143.0 677.8h1.2v1.2h-1.2zM146.0 663.9h1.2v1.2h-1.2zM142.4 677.1h1.2v1.2h-1.2zM143.1 672.6h1.2v1.2h-1.2zM140.3 677.8h1.2v1.2h-1.2zM149.2 659.1h1.2v1.2h-1.2zM149.3 661.8h1.2v1.2h-1.2zM140.9 680.4h1.2v1.2h-1.2zM145.8 664.8h1.2v1.2h-1.2zM150.9 660.3h1.2v1.2h-1.2zM147.6 662.9h1.2v1.2h-1.2zM144.0 670.9h1.2v1.2h-1.2zM144.6 673.5h1.2v1.2h-1.2zM141.7 669.1h1.2v1.2h-1.2zM143.3 668.9h1.2v1.2h-1.2zM147.4 666.3h1.2v1.2h-1.2zM144.3 670.8h1.2v1.2h-1.2zM146.7 664.9h1.2v1.2h-1.2zM147.4 661.7h1.2v1.2h-1.2zM148.5 661.8h1.2v1.2h-1.2zM147.7 659.1h1.2v1.2h-1.2zM143.6 670.3h1.2v1.2h-1.2zM149.4 658.7h1.2v1.2h-1.2zM147.9 663.4h1.2v1.2h-1.2zM143.3 674.1h1.2v1.2h-1.2zM142.1 675.5h1.2v1.2h-1.2zM142.2 676.4h1.2v1.2h-1.2zM144.2 670.8h1.2v1.2h-1.2zM145.0 668.4h1.2v1.2h-1.2zM143.0 675.1h1.2v1.2h-1.2zM147.5 665.7h1.2v1.2h-1.2zM145.1 666.2h1.2v1.2h-1.2zM144.4 668.1h1.2v1.2h-1.2zM148.0 662.1h1.2v1.2h-1.2zM142.1 677.6h1.2v1.2h-1.2zM146.6 664.8h1.2v1.2h-1.2zM143.5 670.7h1.2v1.2h-1.2zM142.6 674.8h1.2v1.2h-1.2zM156.7 657.8h1.2v1.2h-1.2zM123.6 692.9h1.2v1.2h-1.2zM137.0 680.0h1.2v1.2h-1.2zM178.9 644.0h1.2v1.2h-1.2zM184.0 655.1h1.2v1.2h-1.2zM146.2 680.7h1.2v1.2h-1.2zM129.0 684.2h1.2v1.2h-1.2zM196.0 645.5h1.2v1.2h-1.2zM184.7 647.9h1.2v1.2h-1.2zM139.4 684.8h1.2v1.2h-1.2zM125.5 691.0h1.2v1.2h-1.2zM170.3 656.2h1.2v1.2h-1.2zM143.2 681.2h1.2v1.2h-1.2zM158.2 665.8h1.2v1.2h-1.2zM175.8 648.8h1.2v1.2h-1.2zM171.5 656.8h1.2v1.2h-1.2zM154.7 668.5h1.2v1.2h-1.2zM145.9 668.2h1.2v1.2h-1.2zM135.8 682.2h1.2v1.2h-1.2zM184.8 645.1h1.2v1.2h-1.2zM147.8 667.5h1.2v1.2h-1.2zM135.1 682.6h1.2v1.2h-1.2zM198.1 642.3h1.2v1.2h-1.2zM161.9 665.1h1.2v1.2h-1.2zM187.1 643.8h1.2v1.2h-1.2zM124.2 693.5h1.2v1.2h-1.2zM186.1 645.4h1.2v1.2h-1.2zM154.4 664.2h1.2v1.2h-1.2zM155.8 661.9h1.2v1.2h-1.2zM184.9 639.9h1.2v1.2h-1.2zM135.6 668.1h1.2v1.2h-1.2zM173.4 655.2h1.2v1.2h-1.2zM158.5 662.3h1.2v1.2h-1.2zM137.2 672.7h1.2v1.2h-1.2zM136.4 690.4h1.2v1.2h-1.2zM180.4 658.1h1.2v1.2h-1.2zM150.2 663.7h1.2v1.2h-1.2zM178.5 654.9h1.2v1.2h-1.2zM186.8 648.1h1.2v1.2h-1.2zM171.1 656.9h1.2v1.2h-1.2zM147.7 670.3h1.2v1.2h-1.2zM175.3 646.3h1.2v1.2h-1.2zM160.8 662.9h1.2v1.2h-1.2zM184.8 649.4h1.2v1.2h-1.2zM142.3 674.3h1.2v1.2h-1.2zM184.8 643.9h1.2v1.2h-1.2zM166.1 657.0h1.2v1.2h-1.2zM203.1 642.6h1.2v1.2h-1.2zM130.2 684.5h1.2v1.2h-1.2zM143.9 674.3h1.2v1.2h-1.2zM165.1 661.7h1.2v1.2h-1.2zM127.5 686.6h1.2v1.2h-1.2zM176.8 655.1h1.2v1.2h-1.2zM169.5 660.0h1.2v1.2h-1.2zM152.4 667.2h1.2v1.2h-1.2zM138.6 674.9h1.2v1.2h-1.2zM179.8 648.9h1.2v1.2h-1.2zM142.6 680.8h1.2v1.2h-1.2zM167.2 660.0h1.2v1.2h-1.2zM184.6 652.0h1.2v1.2h-1.2zM190.8 638.9h1.2v1.2h-1.2zM153.9 659.6h1.2v1.2h-1.2zM141.6 686.6h1.2v1.2h-1.2zM154.6 663.6h1.2v1.2h-1.2zM184.5 647.9h1.2v1.2h-1.2zM167.1 654.5h1.2v1.2h-1.2zM157.1 666.4h1.2v1.2h-1.2zM137.3 686.5h1.2v1.2h-1.2zM160.4 667.7h1.2v1.2h-1.2zM178.4 651.3h1.2v1.2h-1.2zM136.7 685.1h1.2v1.2h-1.2zM173.4 651.7h1.2v1.2h-1.2zM158.9 668.9h1.2v1.2h-1.2zM177.8 654.1h1.2v1.2h-1.2zM163.9 665.5h1.2v1.2h-1.2zM190.3 645.6h1.2v1.2h-1.2zM166.3 658.6h1.2v1.2h-1.2zM178.5 652.3h1.2v1.2h-1.2zM194.1 643.8h1.2v1.2h-1.2zM177.5 655.4h1.2v1.2h-1.2zM156.8 667.2h1.2v1.2h-1.2zM189.2 638.6h1.2v1.2h-1.2zM179.8 659.1h1.2v1.2h-1.2zM187.8 646.7h1.2v1.2h-1.2zM188.9 643.2h1.2v1.2h-1.2zM156.1 660.6h1.2v1.2h-1.2zM173.3 654.8h1.2v1.2h-1.2zM165.0 658.8h1.2v1.2h-1.2zM156.3 672.6h1.2v1.2h-1.2zM184.8 652.4h1.2v1.2h-1.2zM130.6 684.1h1.2v1.2h-1.2zM134.8 683.4h1.2v1.2h-1.2zM150.9 686.6h1.2v1.2h-1.2zM171.4 657.1h1.2v1.2h-1.2zM190.9 641.3h1.2v1.2h-1.2zM154.1 672.6h1.2v1.2h-1.2zM150.7 665.5h1.2v1.2h-1.2zM187.3 643.6h1.2v1.2h-1.2zM159.7 660.8h1.2v1.2h-1.2zM192.9 644.3h1.2v1.2h-1.2zM195.5 646.8h1.2v1.2h-1.2zM128.8 687.4h1.2v1.2h-1.2zM189.8 640.5h1.2v1.2h-1.2zM134.4 681.1h1.2v1.2h-1.2zM154.9 673.8h1.2v1.2h-1.2zM183.8 649.3h1.2v1.2h-1.2zM127.2 688.4h1.2v1.2h-1.2zM138.1 681.8h1.2v1.2h-1.2zM152.8 662.9h1.2v1.2h-1.2zM131.3 692.5h1.2v1.2h-1.2zM184.8 649.5h1.2v1.2h-1.2zM169.6 661.6h1.2v1.2h-1.2zM190.8 642.1h1.2v1.2h-1.2zM184.2 654.7h1.2v1.2h-1.2zM161.8 661.0h1.2v1.2h-1.2zM161.4 660.2h1.2v1.2h-1.2zM172.0 659.5h1.2v1.2h-1.2zM140.8 685.5h1.2v1.2h-1.2zM152.1 675.1h1.2v1.2h-1.2zM174.2 654.2h1.2v1.2h-1.2zM157.0 662.8h1.2v1.2h-1.2zM162.5 659.8h1.2v1.2h-1.2zM134.6 696.6h1.2v1.2h-1.2zM141.5 674.6h1.2v1.2h-1.2zM188.7 649.7h1.2v1.2h-1.2zM163.8 664.0h1.2v1.2h-1.2zM189.0 641.0h1.2v1.2h-1.2zM189.9 649.7h1.2v1.2h-1.2zM142.2 673.5h1.2v1.2h-1.2zM133.2 685.0h1.2v1.2h-1.2zM151.5 685.1h1.2v1.2h-1.2zM137.7 680.6h1.2v1.2h-1.2zM194.2 639.4h1.2v1.2h-1.2zM140.6 672.0h1.2v1.2h-1.2zM144.2 667.7h1.2v1.2h-1.2zM142.3 677.3h1.2v1.2h-1.2zM143.7 684.2h1.2v1.2h-1.2zM136.4 687.8h1.2v1.2h-1.2zM161.4 662.7h1.2v1.2h-1.2zM141.8 679.7h1.2v1.2h-1.2zM141.4 679.1h1.2v1.2h-1.2zM160.4 660.0h1.2v1.2h-1.2zM197.0 644.3h1.2v1.2h-1.2zM149.9 669.7h1.2v1.2h-1.2zM171.0 653.7h1.2v1.2h-1.2zM172.7 653.3h1.2v1.2h-1.2zM137.6 687.8h1.2v1.2h-1.2zM171.6 662.5h1.2v1.2h-1.2zM178.4 649.1h1.2v1.2h-1.2zM177.0 655.4h1.2v1.2h-1.2zM122.4 693.1h1.2v1.2h-1.2zM122.3 692.7h1.2v1.2h-1.2zM124.6 682.4h1.2v1.2h-1.2zM126.3 675.4h1.2v1.2h-1.2zM122.3 690.0h1.2v1.2h-1.2zM129.7 666.8h1.2v1.2h-1.2zM122.5 690.3h1.2v1.2h-1.2zM126.8 676.8h1.2v1.2h-1.2zM122.4 693.7h1.2v1.2h-1.2zM123.1 685.7h1.2v1.2h-1.2zM123.1 691.3h1.2v1.2h-1.2zM122.2 688.3h1.2v1.2h-1.2zM126.9 674.0h1.2v1.2h-1.2zM123.2 683.3h1.2v1.2h-1.2zM127.7 668.3h1.2v1.2h-1.2zM127.6 664.8h1.2v1.2h-1.2zM128.5 665.5h1.2v1.2h-1.2zM125.1 678.6h1.2v1.2h-1.2zM126.9 667.3h1.2v1.2h-1.2zM124.7 679.3h1.2v1.2h-1.2zM124.4 682.8h1.2v1.2h-1.2zM125.5 679.1h1.2v1.2h-1.2zM122.7 686.0h1.2v1.2h-1.2zM125.4 677.8h1.2v1.2h-1.2zM122.8 691.0h1.2v1.2h-1.2zM122.1 692.2h1.2v1.2h-1.2zM122.5 689.3h1.2v1.2h-1.2zM123.8 689.7h1.2v1.2h-1.2zM122.3 695.0h1.2v1.2h-1.2zM121.4 693.2h1.2v1.2h-1.2zM124.9 704.3h1.2v1.2h-1.2zM120.3 708.9h1.2v1.2h-1.2zM126.9 709.5h1.2v1.2h-1.2zM133.8 716.1h1.2v1.2h-1.2zM124.3 700.4h1.2v1.2h-1.2zM98.1 592.1h1.2v1.2h-1.2zM100.2 594.2h1.2v1.2h-1.2zM113.8 595.2h1.2v1.2h-1.2zM189.0 613.0h1.2v1.2h-1.2zM191.0 615.0h1.2v1.2h-1.2zM194.2 629.7h1.2v1.2h-1.2zM184.8 622.4h1.2v1.2h-1.2zM145.1 624.4h1.2v1.2h-1.2zM143.0 622.4h1.2v1.2h-1.2zM147.2 629.7h1.2v1.2h-1.2zM129.4 689.4h1.2v1.2h-1.2zM125.4 697.4h1.2v1.2h-1.2z" fill="#000"/>
<rect x="147.5" y="468.1" width="76.4" height="32.6" fill="#fff" stroke="#000" stroke-width="1.3"/>
<text x="185.7" y="491.15" font-size="14.5" text-anchor="middle" >50 Km</text>
<line x1="81.5" y1="468.1" x2="81.5" y2="458.9" stroke="#000" stroke-width="1.1"/>
<line x1="81.5" y1="772.6" x2="81.5" y2="782.1" stroke="#000" stroke-width="1.1"/>
<line x1="90.4" y1="468.1" x2="90.4" y2="463.3" stroke="#000" stroke-width="1.1"/>
<line x1="90.4" y1="772.6" x2="90.4" y2="777.8" stroke="#000" stroke-width="1.1"/>
<line x1="99.3" y1="468.1" x2="99.3" y2="463.3" stroke="#000" stroke-width="1.1"/>
<line x1="99.3" y1="772.6" x2="99.3" y2="777.8" stroke="#000" stroke-width="1.1"/>
<line x1="108.2" y1="468.1" x2="108.2" y2="463.3" stroke="#000" stroke-width="1.1"/>
<line x1="108.2" y1="772.6" x2="108.2" y2="777.8" stroke="#000" stroke-width="1.1"/>
<line x1="117.1" y1="468.1" x2="117.1" y2="458.9" stroke="#000" stroke-width="1.1"/>
<line x1="117.1" y1="772.6" x2="117.1" y2="782.1" stroke="#000" stroke-width="1.1"/>
<line x1="126" y1="468.1" x2="126" y2="463.3" stroke="#000" stroke-width="1.1"/>
<line x1="126" y1="772.6" x2="126" y2="777.8" stroke="#000" stroke-width="1.1"/>
<line x1="134.9" y1="468.1" x2="134.9" y2="463.3" stroke="#000" stroke-width="1.1"/>
<line x1="134.9" y1="772.6" x2="134.9" y2="777.8" stroke="#000" stroke-width="1.1"/>
<line x1="143.8" y1="468.1" x2="143.8" y2="463.3" stroke="#000" stroke-width="1.1"/>
<line x1="143.8" y1="772.6" x2="143.8" y2="777.8" stroke="#000" stroke-width="1.1"/>
<line x1="152.7" y1="468.1" x2="152.7" y2="458.9" stroke="#000" stroke-width="1.1"/>
<line x1="152.7" y1="772.6" x2="152.7" y2="782.1" stroke="#000" stroke-width="1.1"/>
<line x1="161.6" y1="468.1" x2="161.6" y2="463.3" stroke="#000" stroke-width="1.1"/>
<line x1="161.6" y1="772.6" x2="161.6" y2="777.8" stroke="#000" stroke-width="1.1"/>
<line x1="170.5" y1="468.1" x2="170.5" y2="463.3" stroke="#000" stroke-width="1.1"/>
<line x1="170.5" y1="772.6" x2="170.5" y2="777.8" stroke="#000" stroke-width="1.1"/>
<line x1="179.4" y1="468.1" x2="179.4" y2="463.3" stroke="#000" stroke-width="1.1"/>
<line x1="179.4" y1="772.6" x2="179.4" y2="777.8" stroke="#000" stroke-width="1.1"/>
<line x1="188.3" y1="468.1" x2="188.3" y2="458.9" stroke="#000" stroke-width="1.1"/>
<line x1="188.3" y1="772.6" x2="188.3" y2="782.1" stroke="#000" stroke-width="1.1"/>
<line x1="197.2" y1="468.1" x2="197.2" y2="463.3" stroke="#000" stroke-width="1.1"/>
<line x1="197.2" y1="772.6" x2="197.2" y2="777.8" stroke="#000" stroke-width="1.1"/>
<line x1="206.1" y1="468.1" x2="206.1" y2="463.3" stroke="#000" stroke-width="1.1"/>
<line x1="206.1" y1="772.6" x2="206.1" y2="777.8" stroke="#000" stroke-width="1.1"/>
<line x1="215" y1="468.1" x2="215" y2="463.3" stroke="#000" stroke-width="1.1"/>
<line x1="215" y1="772.6" x2="215" y2="777.8" stroke="#000" stroke-width="1.1"/>
<line x1="223.9" y1="468.1" x2="223.9" y2="458.9" stroke="#000" stroke-width="1.1"/>
<line x1="223.9" y1="772.6" x2="223.9" y2="782.1" stroke="#000" stroke-width="1.1"/>
<line x1="81.5" y1="468.1" x2="72.3" y2="468.1" stroke="#000" stroke-width="1.1"/>
<line x1="223.9" y1="468.1" x2="233.1" y2="468.1" stroke="#000" stroke-width="1.1"/>
<line x1="81.5" y1="493.48" x2="76.5" y2="493.48" stroke="#000" stroke-width="1.1"/>
<line x1="223.9" y1="493.48" x2="228.9" y2="493.48" stroke="#000" stroke-width="1.1"/>
<line x1="81.5" y1="518.85" x2="72.3" y2="518.85" stroke="#000" stroke-width="1.1"/>
<line x1="223.9" y1="518.85" x2="233.1" y2="518.85" stroke="#000" stroke-width="1.1"/>
<line x1="81.5" y1="544.23" x2="76.5" y2="544.23" stroke="#000" stroke-width="1.1"/>
<line x1="223.9" y1="544.23" x2="228.9" y2="544.23" stroke="#000" stroke-width="1.1"/>
<line x1="81.5" y1="569.6" x2="72.3" y2="569.6" stroke="#000" stroke-width="1.1"/>
<line x1="223.9" y1="569.6" x2="233.1" y2="569.6" stroke="#000" stroke-width="1.1"/>
<line x1="81.5" y1="594.98" x2="76.5" y2="594.98" stroke="#000" stroke-width="1.1"/>
<line x1="223.9" y1="594.98" x2="228.9" y2="594.98" stroke="#000" stroke-width="1.1"/>
<line x1="81.5" y1="620.35" x2="72.3" y2="620.35" stroke="#000" stroke-width="1.1"/>
<line x1="223.9" y1="620.35" x2="233.1" y2="620.35" stroke="#000" stroke-width="1.1"/>
<line x1="81.5" y1="645.73" x2="76.5" y2="645.73" stroke="#000" stroke-width="1.1"/>
<line x1="223.9" y1="645.73" x2="228.9" y2="645.73" stroke="#000" stroke-width="1.1"/>
<line x1="81.5" y1="671.1" x2="72.3" y2="671.1" stroke="#000" stroke-width="1.1"/>
<line x1="223.9" y1="671.1" x2="233.1" y2="671.1" stroke="#000" stroke-width="1.1"/>
<line x1="81.5" y1="696.48" x2="76.5" y2="696.48" stroke="#000" stroke-width="1.1"/>
<line x1="223.9" y1="696.48" x2="228.9" y2="696.48" stroke="#000" stroke-width="1.1"/>
<line x1="81.5" y1="721.85" x2="72.3" y2="721.85" stroke="#000" stroke-width="1.1"/>
<line x1="223.9" y1="721.85" x2="233.1" y2="721.85" stroke="#000" stroke-width="1.1"/>
<line x1="81.5" y1="747.23" x2="76.5" y2="747.23" stroke="#000" stroke-width="1.1"/>
<line x1="223.9" y1="747.23" x2="228.9" y2="747.23" stroke="#000" stroke-width="1.1"/>
<line x1="81.5" y1="772.6" x2="72.3" y2="772.6" stroke="#000" stroke-width="1.1"/>
<line x1="223.9" y1="772.6" x2="233.1" y2="772.6" stroke="#000" stroke-width="1.1"/>
<path d="M80.05 468.1H225.35M80.05 772.6H225.35" stroke="#000" stroke-width="2.2" fill="none"/>
<path d="M81.5 467V773.7M223.9 467V773.7" stroke="#000" stroke-width="2.8" fill="none"/>
<text x="63.6" y="475" font-size="17.6" text-anchor="end" >0</text>
<text x="63.6" y="525.75" font-size="17.6" text-anchor="end" >100</text>
<text x="63.6" y="576.5" font-size="17.6" text-anchor="end" >200</text>
<text x="63.6" y="627.25" font-size="17.6" text-anchor="end" >300</text>
<text x="63.6" y="678" font-size="17.6" text-anchor="end" >400</text>
<text x="63.6" y="728.75" font-size="17.6" text-anchor="end" >500</text>
<text x="63.6" y="779.5" font-size="17.6" text-anchor="end" >600</text>
<text x="81.5" y="803.7" font-size="17.6" text-anchor="middle" >0.4</text>
<text x="117.1" y="803.7" font-size="17.6" text-anchor="middle" >0.8</text>
<text x="152.7" y="803.7" font-size="17.6" text-anchor="middle" >1.2</text>
<text x="188.3" y="803.7" font-size="17.6" text-anchor="middle" >1.6</text>
<text x="223.9" y="803.7" font-size="17.6" text-anchor="middle" >2.0</text>
<line x1="325.1" y1="467.1" x2="325.1" y2="771.6" stroke="#d2d2d2" stroke-width="1.0"/>
<line x1="342.9" y1="467.1" x2="342.9" y2="771.6" stroke="#d2d2d2" stroke-width="1.0"/>
<line x1="360.7" y1="467.1" x2="360.7" y2="771.6" stroke="#d2d2d2" stroke-width="1.0"/>
<line x1="378.5" y1="467.1" x2="378.5" y2="771.6" stroke="#d2d2d2" stroke-width="1.0"/>
<line x1="396.3" y1="467.1" x2="396.3" y2="771.6" stroke="#d2d2d2" stroke-width="1.0"/>
<line x1="414.1" y1="467.1" x2="414.1" y2="771.6" stroke="#d2d2d2" stroke-width="1.0"/>
<line x1="431.9" y1="467.1" x2="431.9" y2="771.6" stroke="#d2d2d2" stroke-width="1.0"/>
<polygon points="356.4,519.6 365.1,520.5 373.9,524.0 380.0,527.5 380.9,532.8 380.0,536.3 378.3,539.8 379.2,546.8 383.5,550.3 388.8,552.0 390.5,555.5 391.4,570.0 391.6,645.0 391.0,652.0 388.4,657.5 382.0,660.5 376.0,663.0 371.0,667.0 366.0,672.0 362.0,680.0 360.0,690.0 356.0,700.0 352.0,710.0 349.0,717.7 357.1,724.0 356.1,728.1 332.0,727.1 334.1,721.9 338.3,717.7 342.0,712.0 345.0,700.0 348.0,690.0 352.0,678.0 357.0,669.0 363.4,663.4 369.0,657.0 371.0,652.0 369.6,645.0 368.6,630.0 368.2,570.0 367.8,562.6 366.0,553.8 363.4,548.5 365.1,538.9 363.4,531.0 360.8,525.8" fill="#ffc0cb"/>
<polyline points="357.5,673.0 354.5,681.0 351.5,689.0 348.0,696.0 345.5,703.0 343.5,710.0 343.0,716.0" fill="none" stroke="#000" stroke-width="1.8" stroke-linejoin="round" stroke-linecap="round"/>
<polyline points="361.2,520.1 363.4,522.3 369.5,525.8 373.9,531.0 373.9,533.6 373.0,538.9 371.7,545.0 372.6,549.4 376.5,552.9 378.3,555.5 379.6,562.6 380.0,570.0 380.3,600.0 380.4,640.0 381.1,647.0 379.5,653.0 376.0,657.0 369.6,661.5 363.0,666.5 359.0,672.0 357.0,680.0 354.5,688.0 351.5,695.0 348.5,702.0 346.0,709.0 344.6,717.7 345.6,726.0" fill="none" stroke="#e8201c" stroke-width="1.3" stroke-linejoin="round"/>
<path d="M371.8 535.3h1.2v1.2h-1.2zM373.4 546.2h1.2v1.2h-1.2zM349.7 521.4h1.2v1.2h-1.2zM374.1 539.3h1.2v1.2h-1.2zM373.4 535.1h1.2v1.2h-1.2zM376.1 537.0h1.2v1.2h-1.2zM377.1 524.5h1.2v1.2h-1.2zM366.6 522.4h1.2v1.2h-1.2zM372.5 538.7h1.2v1.2h-1.2zM372.9 550.1h1.2v1.2h-1.2zM378.2 550.6h1.2v1.2h-1.2zM367.4 550.5h1.2v1.2h-1.2zM374.5 523.2h1.2v1.2h-1.2zM378.2 550.3h1.2v1.2h-1.2zM373.3 529.7h1.2v1.2h-1.2zM360.3 524.0h1.2v1.2h-1.2zM358.7 518.0h1.2v1.2h-1.2zM372.9 525.1h1.2v1.2h-1.2zM362.9 527.7h1.2v1.2h-1.2zM363.3 521.1h1.2v1.2h-1.2zM371.7 543.6h1.2v1.2h-1.2zM366.9 547.4h1.2v1.2h-1.2zM363.9 520.1h1.2v1.2h-1.2zM377.3 554.2h1.2v1.2h-1.2zM378.1 549.7h1.2v1.2h-1.2zM363.2 528.0h1.2v1.2h-1.2zM363.8 518.8h1.2v1.2h-1.2zM383.7 549.4h1.2v1.2h-1.2zM359.6 524.3h1.2v1.2h-1.2zM367.3 553.9h1.2v1.2h-1.2zM371.2 537.3h1.2v1.2h-1.2zM368.9 524.3h1.2v1.2h-1.2zM374.7 541.5h1.2v1.2h-1.2zM368.2 520.7h1.2v1.2h-1.2zM373.6 532.8h1.2v1.2h-1.2zM366.6 547.5h1.2v1.2h-1.2zM363.3 520.9h1.2v1.2h-1.2zM374.6 532.7h1.2v1.2h-1.2zM378.1 542.3h1.2v1.2h-1.2zM375.5 546.8h1.2v1.2h-1.2zM367.7 521.8h1.2v1.2h-1.2zM383.1 532.0h1.2v1.2h-1.2zM369.6 552.3h1.2v1.2h-1.2zM367.3 543.3h1.2v1.2h-1.2zM376.0 531.6h1.2v1.2h-1.2zM382.3 551.3h1.2v1.2h-1.2zM372.0 534.6h1.2v1.2h-1.2zM371.6 522.0h1.2v1.2h-1.2zM373.8 525.4h1.2v1.2h-1.2zM367.3 538.8h1.2v1.2h-1.2zM370.8 527.2h1.2v1.2h-1.2zM374.2 530.3h1.2v1.2h-1.2zM376.9 525.7h1.2v1.2h-1.2zM378.9 537.3h1.2v1.2h-1.2zM366.3 523.3h1.2v1.2h-1.2zM366.2 543.7h1.2v1.2h-1.2zM366.5 525.7h1.2v1.2h-1.2zM366.0 550.2h1.2v1.2h-1.2zM366.8 543.7h1.2v1.2h-1.2zM368.5 550.8h1.2v1.2h-1.2zM372.1 519.5h1.2v1.2h-1.2zM370.4 530.0h1.2v1.2h-1.2zM375.5 546.2h1.2v1.2h-1.2zM370.0 535.3h1.2v1.2h-1.2zM373.4 536.1h1.2v1.2h-1.2zM374.4 542.9h1.2v1.2h-1.2zM371.2 530.3h1.2v1.2h-1.2zM370.8 540.9h1.2v1.2h-1.2zM373.5 533.4h1.2v1.2h-1.2zM363.5 524.0h1.2v1.2h-1.2zM358.6 517.8h1.2v1.2h-1.2zM356.9 517.1h1.2v1.2h-1.2zM357.3 517.6h1.2v1.2h-1.2zM358.4 518.6h1.2v1.2h-1.2zM357.0 516.8h1.2v1.2h-1.2zM355.2 517.2h1.2v1.2h-1.2zM358.7 518.8h1.2v1.2h-1.2zM363.7 517.6h1.2v1.2h-1.2zM361.0 517.6h1.2v1.2h-1.2zM354.9 517.0h1.2v1.2h-1.2zM344.2 713.0h1.2v1.2h-1.2zM351.3 687.4h1.2v1.2h-1.2zM353.7 676.2h1.2v1.2h-1.2zM352.9 676.1h1.2v1.2h-1.2zM350.1 688.9h1.2v1.2h-1.2zM353.4 684.6h1.2v1.2h-1.2zM343.9 712.6h1.2v1.2h-1.2zM354.1 683.3h1.2v1.2h-1.2zM348.6 694.0h1.2v1.2h-1.2zM348.2 694.9h1.2v1.2h-1.2zM354.0 676.5h1.2v1.2h-1.2zM352.6 682.2h1.2v1.2h-1.2zM355.7 672.7h1.2v1.2h-1.2zM342.8 711.4h1.2v1.2h-1.2zM354.6 687.6h1.2v1.2h-1.2zM351.1 683.9h1.2v1.2h-1.2zM344.3 698.2h1.2v1.2h-1.2zM355.1 676.2h1.2v1.2h-1.2zM347.1 696.0h1.2v1.2h-1.2zM346.6 695.1h1.2v1.2h-1.2zM344.2 703.8h1.2v1.2h-1.2zM350.3 684.1h1.2v1.2h-1.2zM342.6 710.2h1.2v1.2h-1.2zM342.6 706.3h1.2v1.2h-1.2zM344.0 701.1h1.2v1.2h-1.2zM341.8 712.4h1.2v1.2h-1.2zM343.4 709.9h1.2v1.2h-1.2zM345.5 708.9h1.2v1.2h-1.2zM344.2 702.3h1.2v1.2h-1.2zM344.6 705.1h1.2v1.2h-1.2zM347.4 692.1h1.2v1.2h-1.2zM352.5 688.2h1.2v1.2h-1.2zM344.4 707.4h1.2v1.2h-1.2zM344.0 705.1h1.2v1.2h-1.2zM355.9 669.4h1.2v1.2h-1.2zM342.3 714.9h1.2v1.2h-1.2zM343.6 710.4h1.2v1.2h-1.2zM342.4 712.4h1.2v1.2h-1.2zM352.8 684.5h1.2v1.2h-1.2zM345.8 698.6h1.2v1.2h-1.2zM346.8 698.9h1.2v1.2h-1.2zM351.2 688.8h1.2v1.2h-1.2zM346.8 693.6h1.2v1.2h-1.2zM353.8 678.7h1.2v1.2h-1.2zM343.7 698.0h1.2v1.2h-1.2zM352.6 689.2h1.2v1.2h-1.2zM353.5 677.6h1.2v1.2h-1.2zM341.2 710.6h1.2v1.2h-1.2zM351.8 683.3h1.2v1.2h-1.2zM343.7 704.2h1.2v1.2h-1.2zM351.8 684.2h1.2v1.2h-1.2zM353.6 677.9h1.2v1.2h-1.2zM355.3 675.5h1.2v1.2h-1.2zM354.2 677.1h1.2v1.2h-1.2zM341.8 710.0h1.2v1.2h-1.2zM345.7 706.7h1.2v1.2h-1.2zM357.8 677.7h1.2v1.2h-1.2zM345.4 702.0h1.2v1.2h-1.2zM341.4 711.8h1.2v1.2h-1.2zM353.9 677.4h1.2v1.2h-1.2zM352.3 684.2h1.2v1.2h-1.2zM350.8 687.8h1.2v1.2h-1.2zM342.1 705.6h1.2v1.2h-1.2zM350.6 689.4h1.2v1.2h-1.2zM344.9 696.3h1.2v1.2h-1.2zM350.7 689.5h1.2v1.2h-1.2zM356.1 681.8h1.2v1.2h-1.2zM348.7 692.7h1.2v1.2h-1.2zM350.2 691.0h1.2v1.2h-1.2zM349.3 690.8h1.2v1.2h-1.2zM359.4 677.6h1.2v1.2h-1.2zM356.6 685.1h1.2v1.2h-1.2zM356.4 681.4h1.2v1.2h-1.2zM356.7 683.9h1.2v1.2h-1.2zM361.8 669.9h1.2v1.2h-1.2zM345.5 706.1h1.2v1.2h-1.2zM355.6 689.1h1.2v1.2h-1.2zM350.0 700.5h1.2v1.2h-1.2zM351.5 701.3h1.2v1.2h-1.2zM359.3 671.3h1.2v1.2h-1.2zM358.1 686.2h1.2v1.2h-1.2zM353.5 683.0h1.2v1.2h-1.2zM350.0 699.1h1.2v1.2h-1.2zM353.3 675.5h1.2v1.2h-1.2zM343.6 699.0h1.2v1.2h-1.2zM364.5 671.0h1.2v1.2h-1.2zM358.9 687.6h1.2v1.2h-1.2zM343.6 710.8h1.2v1.2h-1.2zM364.6 675.3h1.2v1.2h-1.2zM354.8 690.0h1.2v1.2h-1.2zM359.9 680.4h1.2v1.2h-1.2zM358.6 674.0h1.2v1.2h-1.2zM357.0 682.6h1.2v1.2h-1.2zM348.5 712.4h1.2v1.2h-1.2zM353.8 686.4h1.2v1.2h-1.2zM359.2 684.4h1.2v1.2h-1.2zM342.5 705.9h1.2v1.2h-1.2zM361.1 678.8h1.2v1.2h-1.2zM351.1 689.2h1.2v1.2h-1.2zM350.7 691.4h1.2v1.2h-1.2zM350.4 683.7h1.2v1.2h-1.2zM359.1 680.1h1.2v1.2h-1.2zM359.3 669.5h1.2v1.2h-1.2zM357.0 683.4h1.2v1.2h-1.2zM359.7 680.9h1.2v1.2h-1.2zM352.5 694.5h1.2v1.2h-1.2zM352.8 699.4h1.2v1.2h-1.2zM355.3 682.3h1.2v1.2h-1.2zM352.8 690.4h1.2v1.2h-1.2zM356.5 691.2h1.2v1.2h-1.2zM346.9 700.5h1.2v1.2h-1.2zM344.8 699.7h1.2v1.2h-1.2zM349.7 698.6h1.2v1.2h-1.2zM348.1 704.4h1.2v1.2h-1.2zM359.9 673.6h1.2v1.2h-1.2zM350.9 698.6h1.2v1.2h-1.2zM349.2 701.5h1.2v1.2h-1.2zM360.9 672.9h1.2v1.2h-1.2zM352.7 704.8h1.2v1.2h-1.2zM354.2 680.1h1.2v1.2h-1.2zM360.1 683.7h1.2v1.2h-1.2zM348.9 703.4h1.2v1.2h-1.2zM355.6 694.7h1.2v1.2h-1.2zM359.8 687.1h1.2v1.2h-1.2zM355.2 678.5h1.2v1.2h-1.2zM351.1 689.9h1.2v1.2h-1.2zM353.5 700.8h1.2v1.2h-1.2zM345.6 709.6h1.2v1.2h-1.2zM348.4 704.1h1.2v1.2h-1.2zM350.8 711.0h1.2v1.2h-1.2zM356.3 688.5h1.2v1.2h-1.2zM356.7 679.9h1.2v1.2h-1.2zM349.4 695.8h1.2v1.2h-1.2zM355.4 680.9h1.2v1.2h-1.2zM350.0 707.4h1.2v1.2h-1.2zM350.4 696.2h1.2v1.2h-1.2zM348.1 704.5h1.2v1.2h-1.2zM361.7 678.5h1.2v1.2h-1.2zM349.7 710.7h1.2v1.2h-1.2zM353.3 679.6h1.2v1.2h-1.2zM352.8 693.9h1.2v1.2h-1.2zM355.1 669.6h1.2v1.2h-1.2zM355.3 678.4h1.2v1.2h-1.2zM357.9 672.4h1.2v1.2h-1.2zM353.1 687.7h1.2v1.2h-1.2zM349.6 706.5h1.2v1.2h-1.2zM349.0 696.5h1.2v1.2h-1.2zM346.7 705.1h1.2v1.2h-1.2zM348.5 697.9h1.2v1.2h-1.2zM361.1 673.7h1.2v1.2h-1.2zM352.7 690.8h1.2v1.2h-1.2zM358.4 681.8h1.2v1.2h-1.2zM355.4 701.1h1.2v1.2h-1.2zM357.8 696.5h1.2v1.2h-1.2zM353.7 695.6h1.2v1.2h-1.2zM353.0 697.5h1.2v1.2h-1.2zM348.6 712.5h1.2v1.2h-1.2zM352.8 692.5h1.2v1.2h-1.2zM357.3 688.7h1.2v1.2h-1.2zM351.7 705.8h1.2v1.2h-1.2zM359.1 687.8h1.2v1.2h-1.2zM352.2 690.9h1.2v1.2h-1.2zM348.8 708.4h1.2v1.2h-1.2zM351.6 677.9h1.2v1.2h-1.2zM353.9 674.0h1.2v1.2h-1.2zM360.8 680.0h1.2v1.2h-1.2zM352.8 702.2h1.2v1.2h-1.2zM351.4 688.3h1.2v1.2h-1.2zM347.0 709.0h1.2v1.2h-1.2zM354.1 694.7h1.2v1.2h-1.2zM362.2 672.4h1.2v1.2h-1.2zM352.9 696.1h1.2v1.2h-1.2zM349.3 692.1h1.2v1.2h-1.2zM353.8 701.0h1.2v1.2h-1.2zM351.7 704.1h1.2v1.2h-1.2zM344.2 701.6h1.2v1.2h-1.2zM354.9 675.6h1.2v1.2h-1.2zM355.7 690.5h1.2v1.2h-1.2zM359.3 676.7h1.2v1.2h-1.2zM356.2 697.5h1.2v1.2h-1.2zM371.1 658.2h1.2v1.2h-1.2zM377.6 658.8h1.2v1.2h-1.2zM372.5 659.5h1.2v1.2h-1.2zM382.3 649.7h1.2v1.2h-1.2zM370.3 656.3h1.2v1.2h-1.2zM371.6 662.6h1.2v1.2h-1.2zM371.1 659.1h1.2v1.2h-1.2zM367.1 661.4h1.2v1.2h-1.2zM383.0 656.5h1.2v1.2h-1.2zM380.4 645.1h1.2v1.2h-1.2zM381.0 655.4h1.2v1.2h-1.2zM375.8 650.6h1.2v1.2h-1.2zM374.9 657.9h1.2v1.2h-1.2zM370.3 658.3h1.2v1.2h-1.2zM373.6 657.2h1.2v1.2h-1.2zM377.1 658.7h1.2v1.2h-1.2zM377.9 652.0h1.2v1.2h-1.2zM381.8 654.7h1.2v1.2h-1.2zM358.9 665.1h1.2v1.2h-1.2zM367.0 665.8h1.2v1.2h-1.2zM373.4 662.9h1.2v1.2h-1.2zM379.4 655.4h1.2v1.2h-1.2zM389.9 560.8h1.2v1.2h-1.2zM387.8 567.0h1.2v1.2h-1.2zM395.1 567.0h1.2v1.2h-1.2zM397.2 642.2h1.2v1.2h-1.2zM397.9 641.9h1.2v1.2h-1.2zM385.7 555.5h1.2v1.2h-1.2zM350.5 518.2h1.2v1.2h-1.2zM359.9 549.9h1.2v1.2h-1.2zM360.4 552.4h1.2v1.2h-1.2zM381.9 527.9h1.2v1.2h-1.2zM383.9 528.9h1.2v1.2h-1.2zM385.4 533.4h1.2v1.2h-1.2zM386.9 536.9h1.2v1.2h-1.2zM384.4 539.9h1.2v1.2h-1.2zM382.4 539.9h1.2v1.2h-1.2zM331.4 723.4h1.2v1.2h-1.2zM329.4 724.4h1.2v1.2h-1.2zM354.4 726.5h1.2v1.2h-1.2zM362.8 696.2h1.2v1.2h-1.2zM365.4 693.4h1.2v1.2h-1.2zM384.4 646.4h1.2v1.2h-1.2zM387.4 649.4h1.2v1.2h-1.2zM377.4 648.4h1.2v1.2h-1.2zM371.4 649.4h1.2v1.2h-1.2zM373.4 652.4h1.2v1.2h-1.2zM349.4 718.4h1.2v1.2h-1.2zM351.4 720.4h1.2v1.2h-1.2zM339.4 719.4h1.2v1.2h-1.2zM320.4 730.4h1.2v1.2h-1.2zM322.9 733.4h1.2v1.2h-1.2zM326.4 739.4h1.2v1.2h-1.2zM367.8 738.4h1.2v1.2h-1.2zM325.4 732.4h1.2v1.2h-1.2z" fill="#000"/>
<rect x="373.3" y="467.1" width="76.4" height="32.6" fill="#fff" stroke="#000" stroke-width="1.3"/>
<text x="411.5" y="490.15" font-size="14.5" text-anchor="middle" >250 Km</text>
<line x1="307.3" y1="467.1" x2="307.3" y2="457.9" stroke="#000" stroke-width="1.1"/>
<line x1="307.3" y1="771.6" x2="307.3" y2="781.1" stroke="#000" stroke-width="1.1"/>
<line x1="316.2" y1="467.1" x2="316.2" y2="462.3" stroke="#000" stroke-width="1.1"/>
<line x1="316.2" y1="771.6" x2="316.2" y2="776.8" stroke="#000" stroke-width="1.1"/>
<line x1="325.1" y1="467.1" x2="325.1" y2="462.3" stroke="#000" stroke-width="1.1"/>
<line x1="325.1" y1="771.6" x2="325.1" y2="776.8" stroke="#000" stroke-width="1.1"/>
<line x1="334" y1="467.1" x2="334" y2="462.3" stroke="#000" stroke-width="1.1"/>
<line x1="334" y1="771.6" x2="334" y2="776.8" stroke="#000" stroke-width="1.1"/>
<line x1="342.9" y1="467.1" x2="342.9" y2="457.9" stroke="#000" stroke-width="1.1"/>
<line x1="342.9" y1="771.6" x2="342.9" y2="781.1" stroke="#000" stroke-width="1.1"/>
<line x1="351.8" y1="467.1" x2="351.8" y2="462.3" stroke="#000" stroke-width="1.1"/>
<line x1="351.8" y1="771.6" x2="351.8" y2="776.8" stroke="#000" stroke-width="1.1"/>
<line x1="360.7" y1="467.1" x2="360.7" y2="462.3" stroke="#000" stroke-width="1.1"/>
<line x1="360.7" y1="771.6" x2="360.7" y2="776.8" stroke="#000" stroke-width="1.1"/>
<line x1="369.6" y1="467.1" x2="369.6" y2="462.3" stroke="#000" stroke-width="1.1"/>
<line x1="369.6" y1="771.6" x2="369.6" y2="776.8" stroke="#000" stroke-width="1.1"/>
<line x1="378.5" y1="467.1" x2="378.5" y2="457.9" stroke="#000" stroke-width="1.1"/>
<line x1="378.5" y1="771.6" x2="378.5" y2="781.1" stroke="#000" stroke-width="1.1"/>
<line x1="387.4" y1="467.1" x2="387.4" y2="462.3" stroke="#000" stroke-width="1.1"/>
<line x1="387.4" y1="771.6" x2="387.4" y2="776.8" stroke="#000" stroke-width="1.1"/>
<line x1="396.3" y1="467.1" x2="396.3" y2="462.3" stroke="#000" stroke-width="1.1"/>
<line x1="396.3" y1="771.6" x2="396.3" y2="776.8" stroke="#000" stroke-width="1.1"/>
<line x1="405.2" y1="467.1" x2="405.2" y2="462.3" stroke="#000" stroke-width="1.1"/>
<line x1="405.2" y1="771.6" x2="405.2" y2="776.8" stroke="#000" stroke-width="1.1"/>
<line x1="414.1" y1="467.1" x2="414.1" y2="457.9" stroke="#000" stroke-width="1.1"/>
<line x1="414.1" y1="771.6" x2="414.1" y2="781.1" stroke="#000" stroke-width="1.1"/>
<line x1="423" y1="467.1" x2="423" y2="462.3" stroke="#000" stroke-width="1.1"/>
<line x1="423" y1="771.6" x2="423" y2="776.8" stroke="#000" stroke-width="1.1"/>
<line x1="431.9" y1="467.1" x2="431.9" y2="462.3" stroke="#000" stroke-width="1.1"/>
<line x1="431.9" y1="771.6" x2="431.9" y2="776.8" stroke="#000" stroke-width="1.1"/>
<line x1="440.8" y1="467.1" x2="440.8" y2="462.3" stroke="#000" stroke-width="1.1"/>
<line x1="440.8" y1="771.6" x2="440.8" y2="776.8" stroke="#000" stroke-width="1.1"/>
<line x1="449.7" y1="467.1" x2="449.7" y2="457.9" stroke="#000" stroke-width="1.1"/>
<line x1="449.7" y1="771.6" x2="449.7" y2="781.1" stroke="#000" stroke-width="1.1"/>
<line x1="307.3" y1="467.1" x2="298.1" y2="467.1" stroke="#000" stroke-width="1.1"/>
<line x1="449.7" y1="467.1" x2="458.9" y2="467.1" stroke="#000" stroke-width="1.1"/>
<line x1="307.3" y1="492.48" x2="302.3" y2="492.48" stroke="#000" stroke-width="1.1"/>
<line x1="449.7" y1="492.48" x2="454.7" y2="492.48" stroke="#000" stroke-width="1.1"/>
<line x1="307.3" y1="517.85" x2="298.1" y2="517.85" stroke="#000" stroke-width="1.1"/>
<line x1="449.7" y1="517.85" x2="458.9" y2="517.85" stroke="#000" stroke-width="1.1"/>
<line x1="307.3" y1="543.23" x2="302.3" y2="543.23" stroke="#000" stroke-width="1.1"/>
<line x1="449.7" y1="543.23" x2="454.7" y2="543.23" stroke="#000" stroke-width="1.1"/>
<line x1="307.3" y1="568.6" x2="298.1" y2="568.6" stroke="#000" stroke-width="1.1"/>
<line x1="449.7" y1="568.6" x2="458.9" y2="568.6" stroke="#000" stroke-width="1.1"/>
<line x1="307.3" y1="593.98" x2="302.3" y2="593.98" stroke="#000" stroke-width="1.1"/>
<line x1="449.7" y1="593.98" x2="454.7" y2="593.98" stroke="#000" stroke-width="1.1"/>
<line x1="307.3" y1="619.35" x2="298.1" y2="619.35" stroke="#000" stroke-width="1.1"/>
<line x1="449.7" y1="619.35" x2="458.9" y2="619.35" stroke="#000" stroke-width="1.1"/>
<line x1="307.3" y1="644.73" x2="302.3" y2="644.73" stroke="#000" stroke-width="1.1"/>
<line x1="449.7" y1="644.73" x2="454.7" y2="644.73" stroke="#000" stroke-width="1.1"/>
<line x1="307.3" y1="670.1" x2="298.1" y2="670.1" stroke="#000" stroke-width="1.1"/>
<line x1="449.7" y1="670.1" x2="458.9" y2="670.1" stroke="#000" stroke-width="1.1"/>
<line x1="307.3" y1="695.48" x2="302.3" y2="695.48" stroke="#000" stroke-width="1.1"/>
<line x1="449.7" y1="695.48" x2="454.7" y2="695.48" stroke="#000" stroke-width="1.1"/>
<line x1="307.3" y1="720.85" x2="298.1" y2="720.85" stroke="#000" stroke-width="1.1"/>
<line x1="449.7" y1="720.85" x2="458.9" y2="720.85" stroke="#000" stroke-width="1.1"/>
<line x1="307.3" y1="746.23" x2="302.3" y2="746.23" stroke="#000" stroke-width="1.1"/>
<line x1="449.7" y1="746.23" x2="454.7" y2="746.23" stroke="#000" stroke-width="1.1"/>
<line x1="307.3" y1="771.6" x2="298.1" y2="771.6" stroke="#000" stroke-width="1.1"/>
<line x1="449.7" y1="771.6" x2="458.9" y2="771.6" stroke="#000" stroke-width="1.1"/>
<path d="M305.85 467.1H451.15M305.85 771.6H451.15" stroke="#000" stroke-width="2.2" fill="none"/>
<path d="M307.3 466V772.7M449.7 466V772.7" stroke="#000" stroke-width="2.8" fill="none"/>
<text x="289.4" y="474" font-size="17.6" text-anchor="end" >0</text>
<text x="289.4" y="524.75" font-size="17.6" text-anchor="end" >100</text>
<text x="289.4" y="575.5" font-size="17.6" text-anchor="end" >200</text>
<text x="289.4" y="626.25" font-size="17.6" text-anchor="end" >300</text>
<text x="289.4" y="677" font-size="17.6" text-anchor="end" >400</text>
<text x="289.4" y="727.75" font-size="17.6" text-anchor="end" >500</text>
<text x="289.4" y="778.5" font-size="17.6" text-anchor="end" >600</text>
<text x="307.3" y="802.7" font-size="17.6" text-anchor="middle" >0.4</text>
<text x="342.9" y="802.7" font-size="17.6" text-anchor="middle" >0.8</text>
<text x="378.5" y="802.7" font-size="17.6" text-anchor="middle" >1.2</text>
<text x="414.1" y="802.7" font-size="17.6" text-anchor="middle" >1.6</text>
<text x="449.7" y="802.7" font-size="17.6" text-anchor="middle" >2.0</text>
<line x1="547.2" y1="466.4" x2="547.2" y2="770.9" stroke="#d2d2d2" stroke-width="1.0"/>
<line x1="565" y1="466.4" x2="565" y2="770.9" stroke="#d2d2d2" stroke-width="1.0"/>
<line x1="582.8" y1="466.4" x2="582.8" y2="770.9" stroke="#d2d2d2" stroke-width="1.0"/>
<line x1="600.6" y1="466.4" x2="600.6" y2="770.9" stroke="#d2d2d2" stroke-width="1.0"/>
<line x1="618.4" y1="466.4" x2="618.4" y2="770.9" stroke="#d2d2d2" stroke-width="1.0"/>
<line x1="636.2" y1="466.4" x2="636.2" y2="770.9" stroke="#d2d2d2" stroke-width="1.0"/>
<line x1="654" y1="466.4" x2="654" y2="770.9" stroke="#d2d2d2" stroke-width="1.0"/>
<polygon points="588.5,522.7 641.7,522.7 648.0,526.9 649.0,530.0 647.0,653.6 625.0,655.7 624.0,660.9 632.3,665.0 616.6,669.0 610.8,671.9 604.9,674.8 606.4,682.1 607.8,688.0 602.0,695.3 597.6,701.1 594.7,705.5 602.0,709.9 610.8,714.2 604.9,717.2 610.8,720.1 622.4,723.0 610.8,725.9 604.9,727.4 594.7,728.8 593.2,733.2 593.2,739.1 572.8,739.8 543.6,739.8 531.9,739.1 530.5,731.8 543.6,730.3 550.9,728.8 558.2,725.9 569.9,724.5 564.0,721.5 552.4,719.3 558.2,717.2 572.8,715.7 577.2,711.3 575.7,706.9 580.1,702.6 577.2,698.2 578.6,692.3 583.0,686.5 587.4,680.7 588.9,673.4 591.8,669.0 593.2,663.1 591.8,657.3 591.6,653.6 591.6,533.2 595.8,530.0" fill="#ffc0cb"/>
<polyline points="613.6,522.7 618.8,525.9 621.9,531.1 620.4,534.2 619.8,588.5 618.8,653.6" fill="none" stroke="#e8201c" stroke-width="1.3" stroke-linejoin="round"/>
<polyline points="618.8,653.6 613.6,655.0 609.4,657.7 608.3,659.8 611.5,661.9 614.6,664.0 613.6,667.1 608.3,669.2 602.1,671.3 597.9,674.4 595.8,677.6 595.8,681.8 593.7,684.9 591.6,687.0 587.5,690.1 584.3,693.2 582.2,697.4 581.2,702.6 584.3,706.8 589.5,709.9 595.8,712.0 601.0,714.1 593.7,715.2 583.3,716.2 572.8,717.7 579.1,718.9 587.5,719.7 593.7,722.5 591.6,724.6 583.3,726.0 577.0,727.7 566.6,729.8 558.2,731.4 562.4,732.9 563.4,738.1 560.3,740.2 552.0,742.3" fill="none" stroke="#e8201c" stroke-width="1.5" stroke-linejoin="round"/>
<polyline points="611.7,661.6 613.4,663.7 616.2,664.5 610.6,668.0 608.8,668.8 608.9,669.3 606.5,669.9 605.2,671.6 600.1,671.6 598.8,673.3 597.6,675.9 595.1,678.1 594.7,679.7 596.7,682.6 596.0,684.6 591.3,686.8 589.1,687.2 587.5,690.2 584.0,691.7 585.6,693.2 583.9,694.6 582.1,698.2 583.4,699.8 581.0,702.3 581.9,704.3 582.7,707.2 583.8,707.4 588.9,709.8 591.6,709.7 593.1,711.9 597.4,711.5 600.3,713.6 598.5,714.4 597.7,713.6 596.3,715.5 595.3,714.6 593.4,715.1 590.6,715.7 587.4,715.9 584.8,716.3 583.7,716.4 580.8,716.8 574.5,717.4 575.9,717.4 573.7,718.2 575.4,718.0 579.1,718.3 581.5,719.1 584.1,719.3 587.0,720.1 591.0,720.3 592.3,721.1 592.2,722.5 590.8,724.1 590.2,725.0 585.3,725.5 586.9,725.4 583.0,726.1 580.5,727.7 579.4,728.3" fill="none" stroke="#e8201c" stroke-width="1.0" stroke-linejoin="round"/>
<path d="M599.1 694.2h1.2v1.2h-1.2zM607.6 679.3h1.2v1.2h-1.2zM605.6 685.2h1.2v1.2h-1.2zM598.4 697.9h1.2v1.2h-1.2zM598.1 695.2h1.2v1.2h-1.2zM602.1 694.9h1.2v1.2h-1.2zM597.5 698.7h1.2v1.2h-1.2zM602.1 692.1h1.2v1.2h-1.2zM602.6 671.5h1.2v1.2h-1.2zM606.8 686.3h1.2v1.2h-1.2zM601.6 695.6h1.2v1.2h-1.2zM604.5 692.8h1.2v1.2h-1.2zM609.5 681.4h1.2v1.2h-1.2zM603.1 686.3h1.2v1.2h-1.2zM598.2 696.0h1.2v1.2h-1.2zM604.7 682.1h1.2v1.2h-1.2zM606.8 692.3h1.2v1.2h-1.2zM606.6 690.0h1.2v1.2h-1.2zM606.1 682.7h1.2v1.2h-1.2zM603.6 678.3h1.2v1.2h-1.2zM604.0 693.7h1.2v1.2h-1.2zM597.9 674.7h1.2v1.2h-1.2zM602.5 693.0h1.2v1.2h-1.2zM611.6 688.4h1.2v1.2h-1.2zM598.0 674.1h1.2v1.2h-1.2zM607.7 684.0h1.2v1.2h-1.2zM594.2 697.7h1.2v1.2h-1.2zM591.9 698.5h1.2v1.2h-1.2zM596.1 695.7h1.2v1.2h-1.2zM600.0 694.0h1.2v1.2h-1.2zM599.3 696.4h1.2v1.2h-1.2zM598.6 695.8h1.2v1.2h-1.2zM600.9 674.2h1.2v1.2h-1.2zM600.9 680.1h1.2v1.2h-1.2zM601.7 680.7h1.2v1.2h-1.2zM603.1 693.1h1.2v1.2h-1.2zM606.4 688.0h1.2v1.2h-1.2zM605.9 679.6h1.2v1.2h-1.2zM606.0 692.0h1.2v1.2h-1.2zM604.8 682.6h1.2v1.2h-1.2zM603.1 684.3h1.2v1.2h-1.2zM593.5 698.5h1.2v1.2h-1.2zM606.2 686.0h1.2v1.2h-1.2zM600.9 696.8h1.2v1.2h-1.2zM609.2 681.7h1.2v1.2h-1.2zM602.4 676.6h1.2v1.2h-1.2zM600.5 692.7h1.2v1.2h-1.2zM595.6 696.3h1.2v1.2h-1.2zM601.1 674.9h1.2v1.2h-1.2zM602.2 691.3h1.2v1.2h-1.2zM603.6 692.2h1.2v1.2h-1.2zM598.6 693.0h1.2v1.2h-1.2zM602.6 691.1h1.2v1.2h-1.2zM599.1 697.7h1.2v1.2h-1.2zM597.5 696.2h1.2v1.2h-1.2zM604.6 683.5h1.2v1.2h-1.2zM606.4 674.2h1.2v1.2h-1.2zM606.2 684.0h1.2v1.2h-1.2zM604.9 679.3h1.2v1.2h-1.2zM599.4 695.8h1.2v1.2h-1.2zM596.5 699.9h1.2v1.2h-1.2zM607.0 679.6h1.2v1.2h-1.2zM594.7 698.2h1.2v1.2h-1.2zM596.1 694.9h1.2v1.2h-1.2zM601.0 673.6h1.2v1.2h-1.2zM603.7 672.8h1.2v1.2h-1.2zM592.6 697.3h1.2v1.2h-1.2zM601.1 672.9h1.2v1.2h-1.2zM602.3 689.6h1.2v1.2h-1.2zM603.1 674.4h1.2v1.2h-1.2zM599.1 672.1h1.2v1.2h-1.2zM606.5 681.6h1.2v1.2h-1.2zM606.4 684.8h1.2v1.2h-1.2zM605.7 689.0h1.2v1.2h-1.2zM602.7 677.1h1.2v1.2h-1.2zM604.5 688.2h1.2v1.2h-1.2zM603.1 678.1h1.2v1.2h-1.2zM600.9 688.7h1.2v1.2h-1.2zM602.8 687.4h1.2v1.2h-1.2zM603.0 690.9h1.2v1.2h-1.2zM602.8 692.6h1.2v1.2h-1.2zM602.5 692.1h1.2v1.2h-1.2zM600.4 671.8h1.2v1.2h-1.2zM601.9 694.7h1.2v1.2h-1.2zM597.1 671.6h1.2v1.2h-1.2zM600.8 676.6h1.2v1.2h-1.2zM602.4 680.8h1.2v1.2h-1.2zM597.2 699.1h1.2v1.2h-1.2zM606.2 677.6h1.2v1.2h-1.2zM603.2 671.6h1.2v1.2h-1.2zM577.4 691.7h1.2v1.2h-1.2zM582.6 683.3h1.2v1.2h-1.2zM579.7 696.8h1.2v1.2h-1.2zM584.0 680.4h1.2v1.2h-1.2zM577.8 692.5h1.2v1.2h-1.2zM576.4 692.5h1.2v1.2h-1.2zM587.2 677.7h1.2v1.2h-1.2zM585.3 687.5h1.2v1.2h-1.2zM592.7 674.4h1.2v1.2h-1.2zM580.9 686.3h1.2v1.2h-1.2zM587.3 679.1h1.2v1.2h-1.2zM589.7 674.9h1.2v1.2h-1.2zM578.0 691.8h1.2v1.2h-1.2zM583.0 690.1h1.2v1.2h-1.2zM579.8 684.4h1.2v1.2h-1.2zM576.6 692.4h1.2v1.2h-1.2zM587.6 678.4h1.2v1.2h-1.2zM581.2 685.2h1.2v1.2h-1.2zM581.3 700.2h1.2v1.2h-1.2zM585.3 677.6h1.2v1.2h-1.2zM576.4 699.0h1.2v1.2h-1.2zM574.9 698.5h1.2v1.2h-1.2zM582.0 703.3h1.2v1.2h-1.2zM580.3 698.6h1.2v1.2h-1.2zM585.6 683.1h1.2v1.2h-1.2zM578.9 699.4h1.2v1.2h-1.2zM585.6 684.5h1.2v1.2h-1.2zM578.3 696.5h1.2v1.2h-1.2zM584.6 687.7h1.2v1.2h-1.2zM574.3 698.3h1.2v1.2h-1.2zM579.2 687.2h1.2v1.2h-1.2zM585.6 684.8h1.2v1.2h-1.2zM579.9 689.5h1.2v1.2h-1.2zM579.0 697.9h1.2v1.2h-1.2zM584.9 676.8h1.2v1.2h-1.2zM585.5 679.5h1.2v1.2h-1.2zM577.9 693.6h1.2v1.2h-1.2zM580.6 702.2h1.2v1.2h-1.2zM584.0 686.6h1.2v1.2h-1.2zM580.6 701.9h1.2v1.2h-1.2zM579.9 690.4h1.2v1.2h-1.2zM582.1 688.6h1.2v1.2h-1.2zM581.0 685.4h1.2v1.2h-1.2zM580.0 695.3h1.2v1.2h-1.2zM579.9 701.0h1.2v1.2h-1.2zM585.1 700.9h1.2v1.2h-1.2zM581.5 687.7h1.2v1.2h-1.2zM575.7 696.7h1.2v1.2h-1.2zM588.3 676.8h1.2v1.2h-1.2zM580.3 700.4h1.2v1.2h-1.2zM579.6 687.8h1.2v1.2h-1.2zM579.0 688.6h1.2v1.2h-1.2zM586.2 687.4h1.2v1.2h-1.2zM580.0 701.0h1.2v1.2h-1.2zM590.0 678.9h1.2v1.2h-1.2zM581.6 697.3h1.2v1.2h-1.2zM580.5 688.7h1.2v1.2h-1.2zM578.9 683.6h1.2v1.2h-1.2zM583.1 686.9h1.2v1.2h-1.2zM588.4 674.4h1.2v1.2h-1.2zM581.7 692.1h1.2v1.2h-1.2zM578.3 688.0h1.2v1.2h-1.2zM589.9 676.4h1.2v1.2h-1.2zM583.7 683.8h1.2v1.2h-1.2zM576.4 692.5h1.2v1.2h-1.2zM584.8 679.1h1.2v1.2h-1.2zM588.8 676.8h1.2v1.2h-1.2zM587.4 683.4h1.2v1.2h-1.2zM583.3 682.5h1.2v1.2h-1.2zM581.8 684.3h1.2v1.2h-1.2zM578.6 685.5h1.2v1.2h-1.2zM577.8 693.8h1.2v1.2h-1.2zM578.4 702.8h1.2v1.2h-1.2zM578.7 699.9h1.2v1.2h-1.2zM580.3 704.0h1.2v1.2h-1.2zM584.2 685.0h1.2v1.2h-1.2zM580.5 701.5h1.2v1.2h-1.2zM576.8 695.0h1.2v1.2h-1.2zM579.9 688.9h1.2v1.2h-1.2zM579.5 686.6h1.2v1.2h-1.2zM601.7 672.9h1.2v1.2h-1.2zM592.2 677.1h1.2v1.2h-1.2zM584.0 704.0h1.2v1.2h-1.2zM590.9 673.8h1.2v1.2h-1.2zM588.0 709.1h1.2v1.2h-1.2zM604.5 666.3h1.2v1.2h-1.2zM606.8 666.5h1.2v1.2h-1.2zM587.6 707.1h1.2v1.2h-1.2zM583.6 705.1h1.2v1.2h-1.2zM593.5 681.5h1.2v1.2h-1.2zM598.8 674.4h1.2v1.2h-1.2zM612.1 668.2h1.2v1.2h-1.2zM590.2 677.9h1.2v1.2h-1.2zM580.5 692.5h1.2v1.2h-1.2zM584.7 693.6h1.2v1.2h-1.2zM607.3 667.4h1.2v1.2h-1.2zM597.8 673.2h1.2v1.2h-1.2zM578.2 693.1h1.2v1.2h-1.2zM608.4 668.5h1.2v1.2h-1.2zM590.5 683.6h1.2v1.2h-1.2zM602.6 665.1h1.2v1.2h-1.2zM592.1 679.0h1.2v1.2h-1.2zM586.2 710.6h1.2v1.2h-1.2zM575.1 702.1h1.2v1.2h-1.2zM591.6 681.3h1.2v1.2h-1.2zM583.3 691.3h1.2v1.2h-1.2zM590.4 710.8h1.2v1.2h-1.2zM578.3 696.8h1.2v1.2h-1.2zM593.3 684.7h1.2v1.2h-1.2zM583.8 707.0h1.2v1.2h-1.2zM578.2 691.0h1.2v1.2h-1.2zM589.9 710.7h1.2v1.2h-1.2zM599.1 677.7h1.2v1.2h-1.2zM609.5 666.7h1.2v1.2h-1.2zM592.0 675.5h1.2v1.2h-1.2zM590.7 686.2h1.2v1.2h-1.2zM594.3 709.3h1.2v1.2h-1.2zM575.6 707.3h1.2v1.2h-1.2zM581.5 693.3h1.2v1.2h-1.2zM584.6 707.3h1.2v1.2h-1.2zM583.9 704.9h1.2v1.2h-1.2zM610.2 663.5h1.2v1.2h-1.2zM595.3 685.4h1.2v1.2h-1.2zM603.9 670.5h1.2v1.2h-1.2zM614.5 672.0h1.2v1.2h-1.2zM591.8 684.1h1.2v1.2h-1.2zM595.4 676.6h1.2v1.2h-1.2zM600.3 677.0h1.2v1.2h-1.2zM584.0 689.7h1.2v1.2h-1.2zM584.8 710.1h1.2v1.2h-1.2zM581.3 695.9h1.2v1.2h-1.2zM590.2 708.8h1.2v1.2h-1.2zM607.8 664.8h1.2v1.2h-1.2zM604.7 670.2h1.2v1.2h-1.2zM582.7 690.3h1.2v1.2h-1.2zM575.7 697.2h1.2v1.2h-1.2zM584.9 703.1h1.2v1.2h-1.2zM586.2 691.5h1.2v1.2h-1.2zM617.1 666.9h1.2v1.2h-1.2zM602.4 672.8h1.2v1.2h-1.2zM581.9 689.2h1.2v1.2h-1.2zM582.9 688.6h1.2v1.2h-1.2zM593.7 704.7h1.2v1.2h-1.2zM583.9 699.1h1.2v1.2h-1.2zM596.1 675.7h1.2v1.2h-1.2zM610.8 666.2h1.2v1.2h-1.2zM594.2 673.0h1.2v1.2h-1.2zM580.0 697.8h1.2v1.2h-1.2zM592.1 683.5h1.2v1.2h-1.2zM603.2 678.2h1.2v1.2h-1.2zM581.8 689.2h1.2v1.2h-1.2zM589.8 686.9h1.2v1.2h-1.2zM607.2 666.6h1.2v1.2h-1.2zM614.6 665.9h1.2v1.2h-1.2zM593.6 710.2h1.2v1.2h-1.2zM593.9 681.7h1.2v1.2h-1.2zM606.0 673.9h1.2v1.2h-1.2zM598.5 672.2h1.2v1.2h-1.2zM588.1 695.0h1.2v1.2h-1.2zM590.0 691.5h1.2v1.2h-1.2zM589.4 712.2h1.2v1.2h-1.2zM612.1 673.0h1.2v1.2h-1.2zM611.3 666.7h1.2v1.2h-1.2zM606.4 667.8h1.2v1.2h-1.2zM588.3 678.9h1.2v1.2h-1.2zM607.6 663.6h1.2v1.2h-1.2zM581.3 691.8h1.2v1.2h-1.2zM606.2 671.4h1.2v1.2h-1.2zM597.7 672.7h1.2v1.2h-1.2zM608.8 666.6h1.2v1.2h-1.2zM608.7 667.9h1.2v1.2h-1.2zM591.2 681.0h1.2v1.2h-1.2zM604.7 670.7h1.2v1.2h-1.2zM593.0 674.9h1.2v1.2h-1.2zM584.2 688.8h1.2v1.2h-1.2zM594.3 710.5h1.2v1.2h-1.2zM592.1 683.0h1.2v1.2h-1.2zM586.8 689.9h1.2v1.2h-1.2zM582.8 697.6h1.2v1.2h-1.2zM589.7 711.7h1.2v1.2h-1.2zM581.0 700.1h1.2v1.2h-1.2zM583.6 693.5h1.2v1.2h-1.2zM618.4 661.9h1.2v1.2h-1.2zM581.9 695.8h1.2v1.2h-1.2zM602.7 670.7h1.2v1.2h-1.2zM576.0 690.0h1.2v1.2h-1.2zM602.0 673.7h1.2v1.2h-1.2zM591.8 714.1h1.2v1.2h-1.2zM583.3 692.9h1.2v1.2h-1.2zM577.4 706.9h1.2v1.2h-1.2zM593.4 716.8h1.2v1.2h-1.2zM571.2 717.1h1.2v1.2h-1.2zM569.6 715.7h1.2v1.2h-1.2zM550.9 742.4h1.2v1.2h-1.2zM584.6 718.0h1.2v1.2h-1.2zM555.7 743.7h1.2v1.2h-1.2zM562.0 737.3h1.2v1.2h-1.2zM593.9 721.3h1.2v1.2h-1.2zM561.7 733.4h1.2v1.2h-1.2zM560.4 739.8h1.2v1.2h-1.2zM590.3 724.4h1.2v1.2h-1.2zM583.5 715.9h1.2v1.2h-1.2zM565.4 733.2h1.2v1.2h-1.2zM590.6 717.8h1.2v1.2h-1.2zM565.2 731.7h1.2v1.2h-1.2zM597.4 714.9h1.2v1.2h-1.2zM579.4 723.9h1.2v1.2h-1.2zM567.7 738.2h1.2v1.2h-1.2zM596.8 721.6h1.2v1.2h-1.2zM561.5 737.1h1.2v1.2h-1.2zM576.5 721.1h1.2v1.2h-1.2zM555.5 726.4h1.2v1.2h-1.2zM567.6 740.9h1.2v1.2h-1.2zM579.9 717.8h1.2v1.2h-1.2zM595.5 715.3h1.2v1.2h-1.2zM590.4 720.9h1.2v1.2h-1.2zM575.7 717.9h1.2v1.2h-1.2zM578.5 717.0h1.2v1.2h-1.2zM553.9 731.9h1.2v1.2h-1.2zM583.0 717.7h1.2v1.2h-1.2zM588.6 721.0h1.2v1.2h-1.2zM594.2 710.5h1.2v1.2h-1.2zM569.8 719.6h1.2v1.2h-1.2zM593.3 717.6h1.2v1.2h-1.2zM573.6 719.4h1.2v1.2h-1.2zM574.5 717.9h1.2v1.2h-1.2zM554.5 739.9h1.2v1.2h-1.2zM581.6 714.8h1.2v1.2h-1.2zM556.2 740.7h1.2v1.2h-1.2zM564.2 734.3h1.2v1.2h-1.2zM585.5 712.7h1.2v1.2h-1.2zM579.9 716.7h1.2v1.2h-1.2zM594.2 720.0h1.2v1.2h-1.2zM565.8 730.5h1.2v1.2h-1.2zM589.1 720.1h1.2v1.2h-1.2zM566.3 708.0h1.2v1.2h-1.2zM559.1 714.8h1.2v1.2h-1.2zM560.2 718.2h1.2v1.2h-1.2zM568.1 706.4h1.2v1.2h-1.2zM564.0 708.7h1.2v1.2h-1.2zM562.8 716.2h1.2v1.2h-1.2zM571.6 704.6h1.2v1.2h-1.2zM569.8 705.3h1.2v1.2h-1.2zM568.8 706.7h1.2v1.2h-1.2zM562.0 711.8h1.2v1.2h-1.2zM548.7 742.9h1.2v1.2h-1.2zM548.5 740.9h1.2v1.2h-1.2zM548.7 742.3h1.2v1.2h-1.2zM550.4 739.3h1.2v1.2h-1.2zM549.4 739.2h1.2v1.2h-1.2zM549.4 739.8h1.2v1.2h-1.2zM551.4 734.6h1.2v1.2h-1.2zM549.7 742.0h1.2v1.2h-1.2zM549.8 741.6h1.2v1.2h-1.2zM550.1 732.8h1.2v1.2h-1.2zM550.1 738.3h1.2v1.2h-1.2zM549.3 741.9h1.2v1.2h-1.2zM591.0 519.0h1.2v1.2h-1.2zM593.1 518.6h1.2v1.2h-1.2zM605.6 520.1h1.2v1.2h-1.2zM607.7 519.0h1.2v1.2h-1.2zM611.9 520.7h1.2v1.2h-1.2zM607.7 524.2h1.2v1.2h-1.2zM599.4 530.5h1.2v1.2h-1.2zM617.1 530.5h1.2v1.2h-1.2zM628.2 529.5h1.2v1.2h-1.2zM642.8 531.5h1.2v1.2h-1.2zM640.1 661.3h1.2v1.2h-1.2zM647.4 736.5h1.2v1.2h-1.2zM624.4 724.0h1.2v1.2h-1.2zM625.5 725.0h1.2v1.2h-1.2zM624.8 723.9h1.2v1.2h-1.2zM599.4 662.4h1.2v1.2h-1.2zM604.4 659.4h1.2v1.2h-1.2zM621.4 657.4h1.2v1.2h-1.2zM614.4 651.4h1.2v1.2h-1.2zM593.4 657.4h1.2v1.2h-1.2zM596.4 660.4h1.2v1.2h-1.2zM620.4 667.4h1.2v1.2h-1.2zM624.4 666.4h1.2v1.2h-1.2z" fill="#000"/>
<rect x="595.4" y="466.4" width="76.4" height="32.6" fill="#fff" stroke="#000" stroke-width="1.3"/>
<text x="633.6" y="489.45" font-size="14.5" text-anchor="middle" >450 Km</text>
<line x1="529.4" y1="466.4" x2="529.4" y2="457.2" stroke="#000" stroke-width="1.1"/>
<line x1="529.4" y1="770.9" x2="529.4" y2="780.4" stroke="#000" stroke-width="1.1"/>
<line x1="538.3" y1="466.4" x2="538.3" y2="461.6" stroke="#000" stroke-width="1.1"/>
<line x1="538.3" y1="770.9" x2="538.3" y2="776.1" stroke="#000" stroke-width="1.1"/>
<line x1="547.2" y1="466.4" x2="547.2" y2="461.6" stroke="#000" stroke-width="1.1"/>
<line x1="547.2" y1="770.9" x2="547.2" y2="776.1" stroke="#000" stroke-width="1.1"/>
<line x1="556.1" y1="466.4" x2="556.1" y2="461.6" stroke="#000" stroke-width="1.1"/>
<line x1="556.1" y1="770.9" x2="556.1" y2="776.1" stroke="#000" stroke-width="1.1"/>
<line x1="565" y1="466.4" x2="565" y2="457.2" stroke="#000" stroke-width="1.1"/>
<line x1="565" y1="770.9" x2="565" y2="780.4" stroke="#000" stroke-width="1.1"/>
<line x1="573.9" y1="466.4" x2="573.9" y2="461.6" stroke="#000" stroke-width="1.1"/>
<line x1="573.9" y1="770.9" x2="573.9" y2="776.1" stroke="#000" stroke-width="1.1"/>
<line x1="582.8" y1="466.4" x2="582.8" y2="461.6" stroke="#000" stroke-width="1.1"/>
<line x1="582.8" y1="770.9" x2="582.8" y2="776.1" stroke="#000" stroke-width="1.1"/>
<line x1="591.7" y1="466.4" x2="591.7" y2="461.6" stroke="#000" stroke-width="1.1"/>
<line x1="591.7" y1="770.9" x2="591.7" y2="776.1" stroke="#000" stroke-width="1.1"/>
<line x1="600.6" y1="466.4" x2="600.6" y2="457.2" stroke="#000" stroke-width="1.1"/>
<line x1="600.6" y1="770.9" x2="600.6" y2="780.4" stroke="#000" stroke-width="1.1"/>
<line x1="609.5" y1="466.4" x2="609.5" y2="461.6" stroke="#000" stroke-width="1.1"/>
<line x1="609.5" y1="770.9" x2="609.5" y2="776.1" stroke="#000" stroke-width="1.1"/>
<line x1="618.4" y1="466.4" x2="618.4" y2="461.6" stroke="#000" stroke-width="1.1"/>
<line x1="618.4" y1="770.9" x2="618.4" y2="776.1" stroke="#000" stroke-width="1.1"/>
<line x1="627.3" y1="466.4" x2="627.3" y2="461.6" stroke="#000" stroke-width="1.1"/>
<line x1="627.3" y1="770.9" x2="627.3" y2="776.1" stroke="#000" stroke-width="1.1"/>
<line x1="636.2" y1="466.4" x2="636.2" y2="457.2" stroke="#000" stroke-width="1.1"/>
<line x1="636.2" y1="770.9" x2="636.2" y2="780.4" stroke="#000" stroke-width="1.1"/>
<line x1="645.1" y1="466.4" x2="645.1" y2="461.6" stroke="#000" stroke-width="1.1"/>
<line x1="645.1" y1="770.9" x2="645.1" y2="776.1" stroke="#000" stroke-width="1.1"/>
<line x1="654" y1="466.4" x2="654" y2="461.6" stroke="#000" stroke-width="1.1"/>
<line x1="654" y1="770.9" x2="654" y2="776.1" stroke="#000" stroke-width="1.1"/>
<line x1="662.9" y1="466.4" x2="662.9" y2="461.6" stroke="#000" stroke-width="1.1"/>
<line x1="662.9" y1="770.9" x2="662.9" y2="776.1" stroke="#000" stroke-width="1.1"/>
<line x1="671.8" y1="466.4" x2="671.8" y2="457.2" stroke="#000" stroke-width="1.1"/>
<line x1="671.8" y1="770.9" x2="671.8" y2="780.4" stroke="#000" stroke-width="1.1"/>
<line x1="529.4" y1="466.4" x2="520.2" y2="466.4" stroke="#000" stroke-width="1.1"/>
<line x1="671.8" y1="466.4" x2="681" y2="466.4" stroke="#000" stroke-width="1.1"/>
<line x1="529.4" y1="491.77" x2="524.4" y2="491.77" stroke="#000" stroke-width="1.1"/>
<line x1="671.8" y1="491.77" x2="676.8" y2="491.77" stroke="#000" stroke-width="1.1"/>
<line x1="529.4" y1="517.15" x2="520.2" y2="517.15" stroke="#000" stroke-width="1.1"/>
<line x1="671.8" y1="517.15" x2="681" y2="517.15" stroke="#000" stroke-width="1.1"/>
<line x1="529.4" y1="542.52" x2="524.4" y2="542.52" stroke="#000" stroke-width="1.1"/>
<line x1="671.8" y1="542.52" x2="676.8" y2="542.52" stroke="#000" stroke-width="1.1"/>
<line x1="529.4" y1="567.9" x2="520.2" y2="567.9" stroke="#000" stroke-width="1.1"/>
<line x1="671.8" y1="567.9" x2="681" y2="567.9" stroke="#000" stroke-width="1.1"/>
<line x1="529.4" y1="593.27" x2="524.4" y2="593.27" stroke="#000" stroke-width="1.1"/>
<line x1="671.8" y1="593.27" x2="676.8" y2="593.27" stroke="#000" stroke-width="1.1"/>
<line x1="529.4" y1="618.65" x2="520.2" y2="618.65" stroke="#000" stroke-width="1.1"/>
<line x1="671.8" y1="618.65" x2="681" y2="618.65" stroke="#000" stroke-width="1.1"/>
<line x1="529.4" y1="644.02" x2="524.4" y2="644.02" stroke="#000" stroke-width="1.1"/>
<line x1="671.8" y1="644.02" x2="676.8" y2="644.02" stroke="#000" stroke-width="1.1"/>
<line x1="529.4" y1="669.4" x2="520.2" y2="669.4" stroke="#000" stroke-width="1.1"/>
<line x1="671.8" y1="669.4" x2="681" y2="669.4" stroke="#000" stroke-width="1.1"/>
<line x1="529.4" y1="694.77" x2="524.4" y2="694.77" stroke="#000" stroke-width="1.1"/>
<line x1="671.8" y1="694.77" x2="676.8" y2="694.77" stroke="#000" stroke-width="1.1"/>
<line x1="529.4" y1="720.15" x2="520.2" y2="720.15" stroke="#000" stroke-width="1.1"/>
<line x1="671.8" y1="720.15" x2="681" y2="720.15" stroke="#000" stroke-width="1.1"/>
<line x1="529.4" y1="745.52" x2="524.4" y2="745.52" stroke="#000" stroke-width="1.1"/>
<line x1="671.8" y1="745.52" x2="676.8" y2="745.52" stroke="#000" stroke-width="1.1"/>
<line x1="529.4" y1="770.9" x2="520.2" y2="770.9" stroke="#000" stroke-width="1.1"/>
<line x1="671.8" y1="770.9" x2="681" y2="770.9" stroke="#000" stroke-width="1.1"/>
<path d="M527.95 466.4H673.25M527.95 770.9H673.25" stroke="#000" stroke-width="2.2" fill="none"/>
<path d="M529.4 465.3V772M671.8 465.3V772" stroke="#000" stroke-width="2.8" fill="none"/>
<text x="511.5" y="473.3" font-size="17.6" text-anchor="end" >0</text>
<text x="511.5" y="524.05" font-size="17.6" text-anchor="end" >100</text>
<text x="511.5" y="574.8" font-size="17.6" text-anchor="end" >200</text>
<text x="511.5" y="625.55" font-size="17.6" text-anchor="end" >300</text>
<text x="511.5" y="676.3" font-size="17.6" text-anchor="end" >400</text>
<text x="511.5" y="727.05" font-size="17.6" text-anchor="end" >500</text>
<text x="511.5" y="777.8" font-size="17.6" text-anchor="end" >600</text>
<text x="529.4" y="802" font-size="17.6" text-anchor="middle" >0.4</text>
<text x="565" y="802" font-size="17.6" text-anchor="middle" >0.8</text>
<text x="600.6" y="802" font-size="17.6" text-anchor="middle" >1.2</text>
<text x="636.2" y="802" font-size="17.6" text-anchor="middle" >1.6</text>
<text x="671.8" y="802" font-size="17.6" text-anchor="middle" >2.0</text>
<line x1="637.3" y1="50.4" x2="637.3" y2="34.2" stroke="#000" stroke-width="1.1"/>
<text x="379.1" y="21.5" font-size="25.5" text-anchor="middle" >Kurile</text>
<text x="381" y="440.6" font-size="25" text-anchor="middle" >Izu-Bonin</text>
<text transform="translate(17.9,200.3) rotate(-90)" font-size="22" text-anchor="middle">Depth (km)</text>
<text transform="translate(17.9,621.5) rotate(-90)" font-size="22" text-anchor="middle">Depth (km)</text>
<text x="152.6" y="832.4" font-size="21.5" text-anchor="middle" >b–value</text>
<text x="382.6" y="833.5" font-size="21.5" text-anchor="middle" >b–value</text>
<text x="601.9" y="832.8" font-size="21.5" text-anchor="middle" >b–value</text>
</svg>
</body></html>
